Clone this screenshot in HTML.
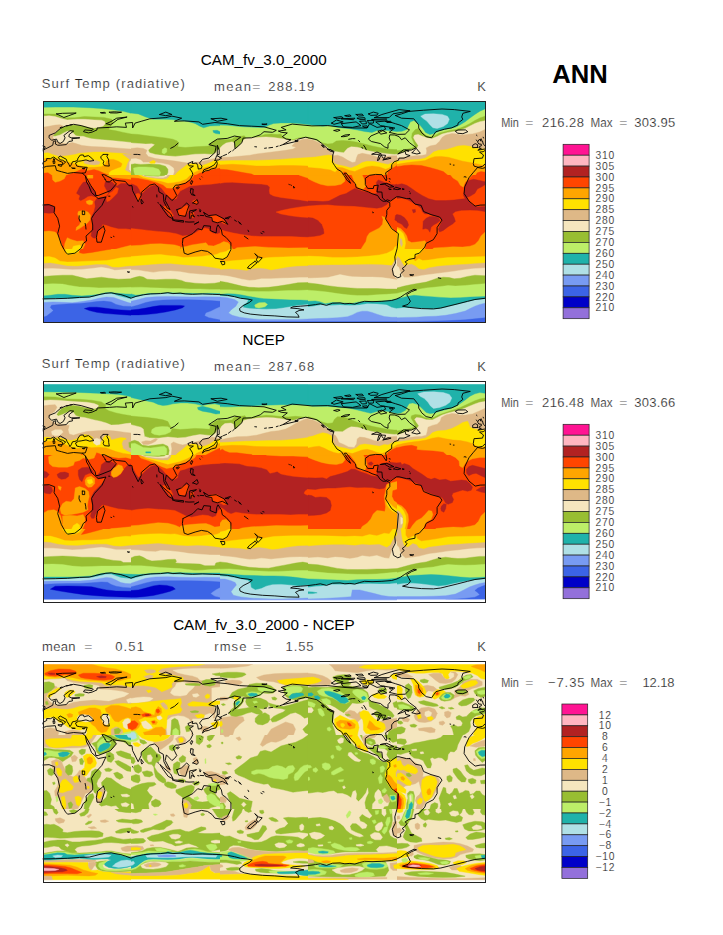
<!DOCTYPE html>
<html><head><meta charset="utf-8"><title>ANN</title>
<style>
html,body{margin:0;padding:0;background:#fff;}
body{width:723px;height:935px;overflow:hidden;position:relative;font-family:"Liberation Sans",sans-serif;}
svg{position:absolute;left:0;top:0;}
text{font-family:"Liberation Sans",sans-serif;}
.t{font-size:15.2px;fill:#000;text-anchor:middle;}
.s{font-size:13px;fill:#222;stroke:#fff;stroke-width:0.2px;}
.cl{font-size:10.3px;fill:#222;stroke:#fff;stroke-width:0.15px;text-anchor:middle;letter-spacing:0.75px;}
.ann{font-size:25.6px;font-weight:bold;fill:#000;}
</style></head><body>
<svg width="723" height="935" viewBox="0 0 723 935">
<rect width="723" height="935" fill="#fff"/>
<clipPath id="c1"><rect x="43" y="101" width="88" height="74"/></clipPath>
<g clip-path="url(#c1)">
<rect x="42.5" y="100.5" width="89" height="75" fill="#BDEE68"/>
<polygon points="43.0,101.0 131.0,101.0 131.0,113.2 123.3,111.3 113.6,109.8 101.4,108.5 89.3,107.7 73.4,107.1 55.2,107.1 43.0,107.3" fill="#20B2AA" stroke="#20B2AA" stroke-width="0.4" stroke-linejoin="round"/>
<polygon points="43.0,114.1 55.2,114.1 62.5,117.8 74.6,117.8 84.4,116.6 103.9,117.4 111.8,119.3 113.0,123.5 109.9,127.2 108.7,129.6 116.0,130.8 123.3,132.4 131.0,133.9 131.0,176.5 43.0,176.5" fill="#98BE32" stroke="#98BE32" stroke-width="0.4" stroke-linejoin="round"/>
<polygon points="43.0,116.2 49.1,115.8 55.2,116.6 61.3,118.6 67.3,119.9 77.1,119.3 84.4,119.3 94.1,119.9 101.4,120.2 104.5,121.4 105.3,123.5 103.2,126.0 99.0,127.2 94.1,128.0 89.3,127.2 84.4,126.0 79.5,125.1 74.6,124.7 69.8,125.1 64.9,126.0 61.3,127.2 57.6,130.8 54.0,133.9 50.3,136.3 55.2,136.3 60.0,135.1 63.7,132.9 67.3,131.2 71.0,131.2 73.4,133.3 75.9,135.7 79.5,136.3 83.2,136.3 86.8,137.5 91.7,138.7 101.4,139.7 111.2,140.6 120.9,141.4 131.0,142.4 131.0,176.5 43.0,176.5" fill="#F5E6BE" stroke="#F5E6BE" stroke-width="0.4" stroke-linejoin="round"/>
<polygon points="43.0,127.2 49.1,126.3 55.2,125.1 60.0,124.7 63.1,126.0 60.0,128.4 56.4,132.0 53.3,135.1 52.7,137.5 55.2,140.6 60.0,143.0 67.3,143.8 72.2,142.6 75.9,143.6 81.9,145.4 91.7,146.6 103.9,147.0 116.0,147.9 125.8,148.7 131.0,149.1 131.0,176.5 43.0,176.5" fill="#DEB887" stroke="#DEB887" stroke-width="0.4" stroke-linejoin="round"/>
<polygon points="43.0,153.3 47.9,152.7 52.7,154.6 58.8,156.4 67.3,155.8 74.6,154.6 79.5,153.3 86.8,152.7 94.1,152.1 103.9,152.1 111.2,152.7 120.9,153.3 131.0,154.6 131.0,176.5 43.0,176.5" fill="#FFE100" stroke="#FFE100" stroke-width="0.4" stroke-linejoin="round"/>
<polygon points="83.8,161.2 89.3,160.0 96.6,160.4 100.2,161.9 99.0,164.3 94.1,164.9 88.0,164.3 84.4,163.3" fill="#DEB887" stroke="#DEB887" stroke-width="0.4" stroke-linejoin="round"/>
<polygon points="122.7,154.1 131.0,154.6 131.0,173.1 125.4,169.9 127.7,163.2 129.7,159.4" fill="#DEB887" stroke="#DEB887" stroke-width="0.4" stroke-linejoin="round"/>
<polygon points="129.7,161.9 131.0,160.4 131.0,171.4 129.4,169.2" fill="#F5E6BE" stroke="#F5E6BE" stroke-width="0.4" stroke-linejoin="round"/>
<polygon points="43.0,158.8 47.9,158.2 51.5,159.2 55.2,158.2 60.0,160.0 67.3,161.9 73.4,163.7 79.5,165.5 85.6,167.3 94.1,167.3 101.4,166.7 105.1,164.3 106.3,161.2 108.7,159.4 113.6,159.4 118.5,161.2 122.1,163.7 120.9,166.7 116.0,168.6 111.2,170.4 108.7,172.8 109.3,176.5 43.0,176.5" fill="#FFA500" stroke="#FFA500" stroke-width="0.4" stroke-linejoin="round"/>
<polygon points="43.0,173.3 47.9,172.7 51.5,175.1 51.8,176.5 43.0,176.5" fill="#FF4500" stroke="#FF4500" stroke-width="0.4" stroke-linejoin="round"/>
<polygon points="65.9,176.5 66.4,175.5 72.2,173.3 79.5,170.3 84.4,167.8 86.8,170.9 94.1,169.6 99.0,170.9 103.9,173.3 108.7,175.1 111.2,176.5" fill="#FF4500" stroke="#FF4500" stroke-width="0.4" stroke-linejoin="round"/>
</g>
<clipPath id="c2"><rect x="131" y="101" width="89" height="74"/></clipPath>
<g clip-path="url(#c2)">
<rect x="130.5" y="100.5" width="90" height="75" fill="#BDEE68"/>
<polygon points="131.0,101.0 220.0,101.0 220.0,125.6 209.8,125.9 203.6,127.8 199.9,126.2 195.0,123.4 187.6,121.4 180.2,120.4 171.6,119.5 163.0,119.2 153.2,119.2 145.8,117.0 138.4,113.9 131.0,113.1" fill="#20B2AA" stroke="#20B2AA" stroke-width="0.4" stroke-linejoin="round"/>
<polygon points="212.9,130.5 217.2,130.3 220.0,131.8 220.0,134.0 215.9,133.6 213.5,132.4" fill="#20B2AA" stroke="#20B2AA" stroke-width="0.4" stroke-linejoin="round"/>
<polygon points="131.0,134.0 138.4,134.5 145.8,135.5 155.6,136.7 165.5,137.9 172.9,139.2 177.2,141.0 178.4,143.5 177.8,146.8 185.2,147.5 195.0,146.8 204.9,146.3 209.8,145.9 209.8,143.5 214.7,140.4 220.0,138.9 220.0,177.3 131.0,177.3" fill="#98BE32" stroke="#98BE32" stroke-width="0.4" stroke-linejoin="round"/>
<polygon points="162.4,149.6 164.9,147.8 166.9,148.8 166.7,152.1 164.2,153.9 162.0,152.7" fill="#BDEE68" stroke="#BDEE68" stroke-width="0.4" stroke-linejoin="round"/>
<polygon points="131.0,142.9 138.4,143.5 145.8,144.1 151.9,143.8 154.4,144.7 150.7,147.8 148.2,150.2 149.5,152.7 155.6,154.5 165.5,155.8 175.3,156.4 185.2,155.4 195.0,154.2 204.9,153.9 212.2,154.5 215.9,152.7 217.2,150.2 220.0,149.6 220.0,177.3 131.0,177.3" fill="#F5E6BE" stroke="#F5E6BE" stroke-width="0.4" stroke-linejoin="round"/>
<polygon points="131.0,148.4 137.2,147.8 143.3,148.4 147.0,150.2 145.8,153.3 148.2,156.4 155.6,158.6 165.5,159.8 175.3,161.1 182.7,162.3 188.9,163.2 197.5,162.3 204.9,160.7 212.2,158.9 217.2,158.2 220.0,157.9 220.0,177.3 131.0,177.3" fill="#DEB887" stroke="#DEB887" stroke-width="0.4" stroke-linejoin="round"/>
<polygon points="131.0,158.9 135.9,158.6 140.8,160.1 143.3,162.5 153.2,162.5 161.8,163.2 169.2,165.0 173.5,168.1 174.1,171.8 172.2,177.3 131.0,177.3" fill="#F5E6BE" stroke="#F5E6BE" stroke-width="0.4" stroke-linejoin="round"/>
<polygon points="131.0,164.4 134.7,163.8 140.8,164.4 149.5,164.0 159.3,164.4 165.5,166.2 167.9,169.3 167.9,172.4 165.5,177.3 131.0,177.3" fill="#98BE32" stroke="#98BE32" stroke-width="0.4" stroke-linejoin="round"/>
<polygon points="133.5,168.1 138.4,166.9 145.8,166.9 153.2,167.5 158.7,169.3 160.5,172.4 159.3,177.3 135.9,177.3 134.1,172.4" fill="#BDEE68" stroke="#BDEE68" stroke-width="0.4" stroke-linejoin="round"/>
<polygon points="149.5,162.3 153.2,160.3 155.4,161.3 155.0,163.2 150.7,163.5" fill="#FFE100" stroke="#FFE100" stroke-width="0.4" stroke-linejoin="round"/>
<polygon points="172.9,177.3 177.8,171.8 182.7,168.1 187.0,164.8 192.5,163.5 197.5,164.0 201.7,165.7 206.6,164.0 211.6,161.9 215.0,160.1 217.4,160.8 220.0,160.7 220.0,177.3" fill="#FFE100" stroke="#FFE100" stroke-width="0.4" stroke-linejoin="round"/>
<polygon points="190.1,177.3 193.3,173.1 198.3,170.7 203.3,168.2 208.3,166.6 213.2,167.3 216.6,164.9 220.0,164.0 220.0,177.3" fill="#FFA500" stroke="#FFA500" stroke-width="0.4" stroke-linejoin="round"/>
<polygon points="192.5,177.3 195.0,175.7 199.9,173.1 205.0,171.9 209.9,170.3 215.0,169.1 220.0,168.3 220.0,177.3" fill="#FF4500" stroke="#FF4500" stroke-width="0.4" stroke-linejoin="round"/>
</g>
<clipPath id="c3"><rect x="220" y="101" width="88" height="74"/></clipPath>
<g clip-path="url(#c3)">
<rect x="219.5" y="100.5" width="89" height="75" fill="#BDEE68"/>
<polygon points="220.0,101.0 308.0,101.0 308.0,124.4 299.1,123.5 290.6,122.9 280.9,122.9 273.6,123.5 268.7,125.3 265.0,127.2 261.4,127.5 254.1,127.2 244.3,126.8 234.6,126.0 227.3,125.3 220.0,125.1" fill="#20B2AA" stroke="#20B2AA" stroke-width="0.4" stroke-linejoin="round"/>
<polygon points="220.0,139.3 226.1,139.7 232.2,139.3 234.0,137.5 239.5,136.5 244.3,135.7 245.6,137.5 250.4,137.5 256.5,136.5 261.4,135.7 265.0,134.5 271.1,134.1 277.2,134.5 280.9,133.9 282.1,135.7 283.3,137.5 288.2,138.7 293.0,139.7 297.9,138.1 302.8,137.3 308.0,137.5 308.0,176.5 220.0,176.5" fill="#98BE32" stroke="#98BE32" stroke-width="0.4" stroke-linejoin="round"/>
<polygon points="220.0,147.9 222.4,145.4 226.1,143.0 232.2,141.8 234.0,143.0 234.6,147.9 236.4,147.9 240.1,144.8 243.7,139.9 246.2,138.1 251.6,137.8 258.9,137.3 266.3,136.9 273.6,137.5 280.9,138.5 288.2,139.7 293.0,140.6 297.9,139.0 302.8,138.1 308.0,138.1 308.0,176.5 220.0,176.5" fill="#F5E6BE" stroke="#F5E6BE" stroke-width="0.4" stroke-linejoin="round"/>
<polygon points="220.0,157.4 231.6,157.0 241.9,156.0 249.9,155.2 256.5,153.9 266.3,152.7 276.0,151.5 285.7,150.3 293.0,149.1 296.1,147.3 291.8,146.0 294.2,143.6 297.9,141.2 302.8,139.3 308.0,138.7 308.0,176.5 220.0,176.5" fill="#DEB887" stroke="#DEB887" stroke-width="0.4" stroke-linejoin="round"/>
<polygon points="220.0,160.9 232.2,160.6 244.3,160.6 256.5,160.4 268.7,160.0 280.9,159.4 293.0,158.4 308.0,157.6 308.0,176.5 220.0,176.5" fill="#FFE100" stroke="#FFE100" stroke-width="0.4" stroke-linejoin="round"/>
<polygon points="220.0,164.9 232.2,164.3 244.3,164.9 256.5,166.1 268.7,166.1 280.9,165.5 293.0,165.5 308.0,166.1 308.0,176.5 220.0,176.5" fill="#FFA500" stroke="#FFA500" stroke-width="0.4" stroke-linejoin="round"/>
<polygon points="220.0,169.2 227.3,169.8 234.6,171.0 244.3,172.8 251.6,174.0 256.5,176.5 220.0,176.5" fill="#FF4500" stroke="#FF4500" stroke-width="0.4" stroke-linejoin="round"/>
</g>
<clipPath id="c4"><rect x="308" y="101" width="89" height="74"/></clipPath>
<g clip-path="url(#c4)">
<rect x="307.5" y="100.5" width="90" height="75" fill="#BDEE68"/>
<polygon points="308.0,101.0 397.0,101.0 397.0,131.5 394.2,131.2 388.0,130.5 381.9,129.9 376.9,130.5 372.0,132.4 364.6,131.5 357.2,129.9 349.9,128.7 342.5,128.1 335.1,126.9 330.2,125.6 322.8,126.2 315.4,125.4 308.0,124.6" fill="#20B2AA" stroke="#20B2AA" stroke-width="0.4" stroke-linejoin="round"/>
<polygon points="308.0,137.9 312.9,138.5 317.8,140.4 322.8,142.9 327.7,144.1 332.6,143.5 336.3,141.0 342.5,140.4 349.9,141.0 357.2,142.2 364.6,144.1 372.0,145.9 379.4,147.5 386.8,149.0 394.2,149.6 397.0,149.6 397.0,177.3 308.0,177.3" fill="#98BE32" stroke="#98BE32" stroke-width="0.4" stroke-linejoin="round"/>
<polygon points="308.0,138.9 312.9,139.4 317.8,141.4 322.8,144.1 326.5,146.8 330.2,149.6 335.1,151.5 343.7,152.7 347.4,148.4 351.1,146.8 357.2,147.2 362.2,148.4 365.9,150.2 372.0,151.5 379.4,152.7 386.8,153.7 394.2,154.5 397.0,154.2 397.0,177.3 308.0,177.3" fill="#F5E6BE" stroke="#F5E6BE" stroke-width="0.4" stroke-linejoin="round"/>
<polygon points="308.0,139.4 312.9,140.1 317.8,142.2 322.8,145.1 326.5,148.4 329.5,151.5 332.0,153.3 333.9,155.8 337.5,155.2 342.5,157.0 347.4,160.1 352.3,162.5 355.4,161.9 356.6,157.6 357.9,154.5 362.2,153.3 367.1,154.2 372.0,155.2 376.9,157.0 381.9,157.6 386.8,156.4 391.7,155.8 397.0,155.8 397.0,177.3 308.0,177.3" fill="#DEB887" stroke="#DEB887" stroke-width="0.4" stroke-linejoin="round"/>
<polygon points="308.0,157.6 315.4,157.0 322.8,155.8 328.9,154.9 332.0,155.8 332.6,160.1 334.5,163.8 338.8,165.0 344.9,166.2 351.1,168.1 357.2,165.6 362.2,162.5 367.1,161.3 374.5,161.6 381.9,163.2 388.0,164.4 392.9,162.5 397.0,160.1 397.0,177.3 308.0,177.3" fill="#FFE100" stroke="#FFE100" stroke-width="0.4" stroke-linejoin="round"/>
<polygon points="308.0,167.5 320.3,168.5 330.2,169.9 335.1,172.2 337.5,169.9 336.9,167.2 342.5,167.7 349.9,170.6 354.8,171.4 359.7,169.3 365.9,166.9 372.0,166.0 379.4,166.9 385.6,169.3 389.2,168.1 392.9,164.4 397.0,161.9 397.0,177.3 308.0,177.3" fill="#FFA500" stroke="#FFA500" stroke-width="0.4" stroke-linejoin="round"/>
<polygon points="386.8,177.3 388.0,171.8 391.7,168.7 397.0,165.6 397.0,177.3" fill="#FF4500" stroke="#FF4500" stroke-width="0.4" stroke-linejoin="round"/>
<polygon points="342.5,177.3 343.7,171.8 346.2,172.4 347.4,177.3" fill="#FF4500" stroke="#FF4500" stroke-width="0.4" stroke-linejoin="round"/>
</g>
<clipPath id="c5"><rect x="397" y="101" width="88" height="74"/></clipPath>
<g clip-path="url(#c5)">
<rect x="396.5" y="100.5" width="89" height="75" fill="#BDEE68"/>
<polygon points="397.0,101.0 485.0,101.0 485.0,108.9 479.8,111.3 474.9,114.4 470.0,118.0 465.2,121.7 460.3,124.7 455.4,127.2 450.6,128.4 445.7,129.2 439.6,130.8 434.7,133.3 429.9,134.5 425.6,132.6 423.2,129.0 420.1,125.3 417.1,122.9 414.0,120.5 410.4,121.7 408.6,125.3 406.7,129.6 401.9,131.2 397.0,131.4" fill="#20B2AA" stroke="#20B2AA" stroke-width="0.4" stroke-linejoin="round"/>
<polygon points="420.7,116.2 425.0,114.1 433.5,113.8 442.0,114.4 447.5,116.2 449.3,119.3 447.5,123.5 443.3,126.6 437.2,128.4 432.9,127.8 429.9,124.7 426.8,121.1 423.2,118.6" fill="#B0E0E6" stroke="#B0E0E6" stroke-width="0.4" stroke-linejoin="round"/>
<polygon points="397.0,150.7 404.3,149.7 411.6,148.2 415.3,146.3 413.4,141.8 411.6,137.5 412.2,133.3 415.3,129.6 418.3,128.4 421.3,130.8 424.4,134.5 429.3,136.9 434.7,135.7 439.6,132.9 445.7,131.4 450.6,130.2 455.4,129.6 460.3,128.0 465.2,126.0 470.0,123.5 474.9,120.5 479.8,118.0 485.0,116.2 485.0,176.5 397.0,176.5" fill="#98BE32" stroke="#98BE32" stroke-width="0.4" stroke-linejoin="round"/>
<polygon points="397.0,154.6 401.9,152.7 408.0,150.9 414.0,149.1 417.1,147.9 418.3,145.4 415.3,141.2 413.4,137.5 414.6,135.1 418.3,134.5 422.6,136.3 427.4,138.1 432.3,138.5 437.2,136.5 442.0,134.1 448.1,132.4 454.2,131.4 460.3,130.2 465.2,128.4 470.0,126.0 474.9,123.5 479.8,121.7 485.0,120.7 485.0,176.5 397.0,176.5" fill="#F5E6BE" stroke="#F5E6BE" stroke-width="0.4" stroke-linejoin="round"/>
<polygon points="397.0,158.2 401.9,157.6 409.2,156.4 415.3,155.8 421.3,155.5 426.2,154.6 426.8,150.9 426.2,147.9 429.9,146.0 435.9,144.8 439.6,141.2 442.0,137.5 445.7,135.1 451.8,133.6 457.9,133.9 465.2,134.5 472.5,133.9 479.8,132.0 485.0,129.6 485.0,176.5 397.0,176.5" fill="#DEB887" stroke="#DEB887" stroke-width="0.4" stroke-linejoin="round"/>
<polygon points="456.0,131.4 460.3,130.5 465.2,130.8 467.6,132.4 465.2,134.1 460.3,134.5 456.6,133.6" fill="#F5E6BE" stroke="#F5E6BE" stroke-width="0.4" stroke-linejoin="round"/>
<polygon points="397.0,161.6 404.3,160.6 411.6,159.7 418.9,159.4 425.0,158.2 429.9,155.2 433.5,152.1 438.4,150.3 445.7,149.7 451.8,147.9 457.9,146.0 463.9,145.4 470.0,146.3 474.9,147.9 479.8,148.7 485.0,149.1 485.0,176.5 397.0,176.5" fill="#FFE100" stroke="#FFE100" stroke-width="0.4" stroke-linejoin="round"/>
<polygon points="397.0,164.3 404.3,163.1 411.6,161.9 418.9,161.2 425.0,160.6 429.9,158.2 434.7,156.7 440.8,156.4 448.1,157.2 455.4,159.2 462.7,161.2 470.0,162.5 476.1,163.7 482.2,164.9 485.0,165.5 485.0,176.5 397.0,176.5" fill="#FFA500" stroke="#FFA500" stroke-width="0.4" stroke-linejoin="round"/>
<polygon points="397.0,166.7 404.3,165.5 411.6,164.9 421.3,165.5 428.6,167.3 435.9,169.2 443.3,171.6 449.3,176.5 397.0,176.5" fill="#FF4500" stroke="#FF4500" stroke-width="0.4" stroke-linejoin="round"/>
<polygon points="474.9,176.5 477.3,172.8 481.0,171.6 485.0,172.2 485.0,176.5" fill="#FF4500" stroke="#FF4500" stroke-width="0.4" stroke-linejoin="round"/>
</g>
<clipPath id="c6"><rect x="43" y="175" width="88" height="74"/></clipPath>
<g clip-path="url(#c6)">
<rect x="42.5" y="174.5" width="89" height="75" fill="#FF4500"/>
<polygon points="52.1,175.0 66.1,175.0 64.3,178.7 60.0,181.1 55.2,182.3 52.7,179.9" fill="#FFA500" stroke="#FFA500" stroke-width="0.4" stroke-linejoin="round"/>
<polygon points="106.3,175.0 131.0,175.0 131.0,179.3 125.8,178.7 118.5,178.0 111.2,177.4 107.5,176.2" fill="#FFA500" stroke="#FFA500" stroke-width="0.4" stroke-linejoin="round"/>
<polygon points="105.1,182.3 108.7,181.1 112.4,182.3 114.8,184.7 117.2,186.0 120.9,183.5 125.8,183.5 131.0,184.7 131.0,229.2 125.8,228.6 118.5,228.6 111.2,226.7 106.3,224.9 102.6,224.3 101.4,226.7 99.0,229.8 96.6,233.4 95.3,238.3 92.9,237.7 91.1,235.9 91.7,231.0 92.9,226.1 92.3,221.3 91.7,216.4 94.1,211.5 95.3,206.6 94.7,201.8 96.6,198.7 101.4,197.5 106.3,196.3 108.7,193.3 106.3,189.6 104.5,186.0" fill="#B22222" stroke="#B22222" stroke-width="0.4" stroke-linejoin="round"/>
<polygon points="109.3,193.3 112.4,191.4 116.0,187.2 118.5,188.4 117.2,193.3 113.6,196.9 109.9,200.6 106.9,201.8 106.3,198.1" fill="#FF4500" stroke="#FF4500" stroke-width="0.4" stroke-linejoin="round"/>
<polygon points="76.5,193.3 79.5,187.2 83.2,182.3 86.8,181.7 90.5,186.0 94.1,190.8 96.6,195.1 95.3,196.9 91.7,195.7 88.0,196.3 84.4,198.7 80.7,200.6 78.9,199.3 80.1,195.7" fill="#B22222" stroke="#B22222" stroke-width="0.4" stroke-linejoin="round"/>
<polygon points="43.0,204.8 47.9,204.2 52.7,206.0 55.2,208.5 54.0,212.7 49.1,213.3 43.0,212.7" fill="#B22222" stroke="#B22222" stroke-width="0.4" stroke-linejoin="round"/>
<polygon points="86.2,201.2 89.9,200.0 92.9,201.2 92.3,204.2 89.3,204.8 86.8,203.6" fill="#FFA500" stroke="#FFA500" stroke-width="0.4" stroke-linejoin="round"/>
<polygon points="87.4,175.0 92.9,175.0 92.9,178.2 87.4,178.2" fill="#FFA500" stroke="#FFA500" stroke-width="0.4" stroke-linejoin="round"/>
<polygon points="78.3,211.5 83.2,210.3 88.0,212.1 90.5,215.2 89.9,220.0 86.8,223.7 83.2,226.1 79.5,228.6 75.9,230.4 76.5,227.3 79.5,224.9 80.7,221.3 78.9,217.6 77.7,213.9" fill="#FFA500" stroke="#FFA500" stroke-width="0.4" stroke-linejoin="round"/>
<polygon points="43.0,231.6 49.1,231.0 55.2,232.0 57.6,234.6 59.4,238.3 61.3,243.2 63.1,250.5 43.0,250.5" fill="#FFA500" stroke="#FFA500" stroke-width="0.4" stroke-linejoin="round"/>
<polygon points="64.9,243.2 67.3,237.7 71.0,239.5 77.1,241.3 83.2,240.7 85.0,244.4 81.9,250.5 63.7,250.5" fill="#FFA500" stroke="#FFA500" stroke-width="0.4" stroke-linejoin="round"/>
<polygon points="71.6,250.5 73.4,246.2 79.5,245.0 81.9,246.8 81.3,250.5" fill="#FFE100" stroke="#FFE100" stroke-width="0.4" stroke-linejoin="round"/>
<polygon points="111.2,250.5 120.9,247.8 131.0,245.2 131.0,250.5" fill="#FFA500" stroke="#FFA500" stroke-width="0.4" stroke-linejoin="round"/>
</g>
<clipPath id="c7"><rect x="131" y="175" width="89" height="74"/></clipPath>
<g clip-path="url(#c7)">
<rect x="130.5" y="174.5" width="90" height="75" fill="#B22222"/>
<polygon points="131.0,175.0 220.0,175.0 220.0,183.0 211.0,184.2 202.4,184.8 195.0,185.5 190.1,186.1 185.2,188.5 180.2,191.0 177.8,194.7 176.5,198.4 172.9,199.6 169.2,197.2 165.5,193.5 161.8,188.5 158.1,185.5 154.4,184.8 150.7,186.1 147.0,188.5 143.3,192.2 140.8,193.5 139.6,189.8 137.2,186.1 133.5,184.2 131.0,183.6" fill="#FF4500" stroke="#FF4500" stroke-width="0.4" stroke-linejoin="round"/>
<polygon points="131.0,175.0 131.0,177.5 138.4,178.1 148.2,179.9 155.6,182.1 163.0,184.8 166.7,187.9 172.9,188.3 177.8,185.5 183.9,183.0 188.9,180.5 192.5,177.5 193.8,175.0" fill="#FFA500" stroke="#FFA500" stroke-width="0.4" stroke-linejoin="round"/>
<polygon points="138.4,175.0 143.3,177.5 153.2,179.7 161.8,181.2 167.9,183.0 172.9,182.6 180.2,181.2 186.4,178.7 190.1,175.0" fill="#FFE100" stroke="#FFE100" stroke-width="0.4" stroke-linejoin="round"/>
<polygon points="141.5,175.0 144.5,176.5 153.2,178.1 161.8,178.9 166.7,178.4 169.2,176.2 169.8,175.0" fill="#DEB887" stroke="#DEB887" stroke-width="0.4" stroke-linejoin="round"/>
<polygon points="142.7,175.0 147.0,176.2 155.6,177.2 163.0,177.5 166.7,176.2 167.3,175.0" fill="#F5E6BE" stroke="#F5E6BE" stroke-width="0.4" stroke-linejoin="round"/>
<polygon points="143.9,175.0 149.5,176.0 158.1,176.2 164.2,175.6 164.9,175.0" fill="#98BE32" stroke="#98BE32" stroke-width="0.4" stroke-linejoin="round"/>
<polygon points="145.8,175.0 151.9,175.5 159.3,175.4 160.5,175.0" fill="#BDEE68" stroke="#BDEE68" stroke-width="0.4" stroke-linejoin="round"/>
<polygon points="135.9,194.1 138.4,193.2 140.6,194.7 140.8,199.0 139.0,201.5 136.9,199.6" fill="#FF4500" stroke="#FF4500" stroke-width="0.4" stroke-linejoin="round"/>
<polygon points="163.6,206.4 166.7,205.8 170.4,210.7 173.5,215.6 171.6,217.5 167.9,213.2 164.9,209.5" fill="#FF4500" stroke="#FF4500" stroke-width="0.4" stroke-linejoin="round"/>
<polygon points="177.8,210.7 182.7,207.0 187.0,205.2 188.9,207.0 188.2,211.9 185.2,215.6 180.2,216.2 177.8,213.8" fill="#FF4500" stroke="#FF4500" stroke-width="0.4" stroke-linejoin="round"/>
<polygon points="190.1,213.8 193.8,212.5 194.4,216.9 191.3,218.1" fill="#FF4500" stroke="#FF4500" stroke-width="0.4" stroke-linejoin="round"/>
<polygon points="209.8,216.2 214.7,215.0 220.0,216.9 220.0,222.4 215.9,222.4 212.2,219.9" fill="#FF4500" stroke="#FF4500" stroke-width="0.4" stroke-linejoin="round"/>
<polygon points="192.5,200.9 196.2,199.6 198.1,202.7 196.2,204.5 193.8,203.6" fill="#FF4500" stroke="#FF4500" stroke-width="0.4" stroke-linejoin="round"/>
<polygon points="131.0,228.5 138.4,229.2 148.2,230.4 158.1,231.4 167.9,232.2 176.5,233.8 182.7,235.9 188.9,235.3 195.0,232.9 199.9,229.8 204.9,227.9 209.8,229.2 212.2,232.9 217.2,234.1 220.0,232.9 220.0,251.3 131.0,251.3" fill="#FF4500" stroke="#FF4500" stroke-width="0.4" stroke-linejoin="round"/>
<polygon points="131.0,245.8 140.8,245.2 150.7,243.9 160.5,243.7 170.4,244.6 174.9,244.9 180.2,246.6 180.9,251.3 131.0,251.3" fill="#FFA500" stroke="#FFA500" stroke-width="0.4" stroke-linejoin="round"/>
<polygon points="180.2,251.3 181.6,247.1 186.0,246.5 191.6,244.9 199.3,243.8 206.0,242.7 208.2,245.4 213.7,246.0 219.3,243.8 220.0,243.7 220.0,251.3" fill="#FFA500" stroke="#FFA500" stroke-width="0.4" stroke-linejoin="round"/>
</g>
<clipPath id="c8"><rect x="220" y="175" width="88" height="74"/></clipPath>
<g clip-path="url(#c8)">
<rect x="219.5" y="174.5" width="89" height="75" fill="#B22222"/>
<polygon points="220.0,175.0 308.0,175.0 308.0,201.2 300.3,200.0 290.6,198.7 280.9,197.5 273.6,195.9 269.9,193.9 269.3,190.8 269.9,187.2 267.5,185.0 261.4,184.1 251.6,183.5 241.9,182.9 232.2,182.3 224.9,182.5 220.0,183.3" fill="#FF4500" stroke="#FF4500" stroke-width="0.4" stroke-linejoin="round"/>
<polygon points="299.1,175.0 308.0,175.0 308.0,178.0 304.0,176.8" fill="#FFA500" stroke="#FFA500" stroke-width="0.4" stroke-linejoin="round"/>
<polygon points="308.0,206.0 300.3,206.9 290.6,208.5 282.1,210.3 276.0,212.1 280.9,213.9 290.6,215.8 300.3,217.0 308.0,217.4" fill="#FF4500" stroke="#FF4500" stroke-width="0.4" stroke-linejoin="round"/>
<polygon points="220.0,229.2 224.9,231.0 232.2,232.8 241.9,234.6 251.6,235.9 261.4,236.5 271.1,236.5 280.9,236.5 290.6,236.5 300.3,237.1 308.0,237.3 308.0,250.5 220.0,250.5" fill="#FF4500" stroke="#FF4500" stroke-width="0.4" stroke-linejoin="round"/>
<polygon points="220.0,243.5 223.7,241.6 228.2,242.7 231.4,246.6 232.5,248.8 232.8,250.5 220.0,250.5" fill="#FFA500" stroke="#FFA500" stroke-width="0.4" stroke-linejoin="round"/>
<polygon points="232.8,250.5 236.9,247.7 243.6,247.2 254.9,246.6 268.7,247.4 288.2,248.0 308.0,247.8 308.0,250.5" fill="#FFA500" stroke="#FFA500" stroke-width="0.4" stroke-linejoin="round"/>
<polygon points="220.0,217.0 222.4,218.8 226.1,222.5 227.3,224.3 223.7,223.7 220.0,221.3" fill="#FF4500" stroke="#FF4500" stroke-width="0.4" stroke-linejoin="round"/>
</g>
<clipPath id="c9"><rect x="308" y="175" width="89" height="74"/></clipPath>
<g clip-path="url(#c9)">
<rect x="307.5" y="174.5" width="90" height="75" fill="#FF4500"/>
<polygon points="308.0,175.0 344.9,175.0 344.9,181.2 341.2,184.2 335.1,185.5 327.7,185.8 320.3,184.2 314.2,181.8 308.0,178.7" fill="#FFA500" stroke="#FFA500" stroke-width="0.4" stroke-linejoin="round"/>
<polygon points="351.7,175.0 362.2,175.0 364.6,179.9 365.9,186.1 363.4,189.2 359.7,188.5 356.0,185.5 354.2,181.2" fill="#FFA500" stroke="#FFA500" stroke-width="0.4" stroke-linejoin="round"/>
<polygon points="308.0,200.9 315.4,201.1 322.8,201.5 328.9,200.9 333.9,198.4 340.0,195.3 346.2,193.5 351.1,190.4 354.8,188.5 358.5,189.8 363.4,191.6 368.3,192.2 372.0,194.1 376.9,193.5 376.3,189.8 376.9,186.1 376.3,182.4 378.2,179.9 383.1,181.8 388.0,183.6 394.2,184.8 397.0,184.2 397.0,196.5 392.9,199.0 389.2,201.5 386.8,204.5 381.9,207.3 376.9,208.2 369.5,207.6 362.2,206.8 354.8,206.0 344.9,205.8 335.1,205.2 327.7,204.5 320.3,204.8 312.9,205.2 308.0,205.5" fill="#B22222" stroke="#B22222" stroke-width="0.4" stroke-linejoin="round"/>
<polygon points="308.0,217.5 312.9,218.1 317.8,220.5 321.5,224.2 323.4,229.2 324.0,233.5 320.3,235.3 314.2,236.3 308.0,236.8" fill="#B22222" stroke="#B22222" stroke-width="0.4" stroke-linejoin="round"/>
<polygon points="381.9,216.2 384.9,217.5 386.8,221.2 389.9,225.5 394.2,230.4 397.0,232.9 397.0,251.3 359.7,251.3 363.4,245.2 365.9,241.5 367.1,236.5 369.5,232.9 374.5,230.4 379.4,227.9 382.5,224.2 383.1,219.3" fill="#FFA500" stroke="#FFA500" stroke-width="0.4" stroke-linejoin="round"/>
<polygon points="392.9,251.3 394.8,247.0 397.0,245.8 397.0,251.3" fill="#FFE100" stroke="#FFE100" stroke-width="0.4" stroke-linejoin="round"/>
<polygon points="395.4,215.6 397.0,214.4 397.0,221.2 394.8,219.9" fill="#B22222" stroke="#B22222" stroke-width="0.4" stroke-linejoin="round"/>
</g>
<clipPath id="c10"><rect x="397" y="175" width="88" height="74"/></clipPath>
<g clip-path="url(#c10)">
<rect x="396.5" y="174.5" width="89" height="75" fill="#FF4500"/>
<polygon points="450.6,175.0 472.5,175.0 468.8,178.7 465.2,182.3 463.3,187.2 460.3,185.3 457.9,181.1 453.0,178.0" fill="#FFA500" stroke="#FFA500" stroke-width="0.4" stroke-linejoin="round"/>
<polygon points="397.0,184.7 401.9,183.8 406.7,185.3 411.6,188.4 416.5,192.0 422.6,195.7 428.6,198.7 435.9,200.6 445.7,200.6 454.2,200.0 461.5,199.1 465.2,198.7 463.3,195.1 464.6,189.6 465.2,184.7 468.8,180.5 473.7,179.3 479.8,180.5 485.0,181.7 485.0,184.7 482.2,186.6 477.3,189.0 474.9,193.3 470.0,196.3 466.4,197.5 468.8,201.2 472.5,204.8 477.3,206.9 485.0,206.4 485.0,211.5 477.3,210.3 470.0,210.1 461.5,210.3 455.4,211.5 452.4,213.9 454.2,217.6 455.4,221.3 453.0,223.7 448.1,226.7 443.3,230.4 439.6,232.0 438.4,229.2 440.2,224.9 441.8,221.3 440.8,218.6 437.2,216.4 432.3,215.2 428.6,213.9 425.0,213.9 422.6,212.1 421.3,208.5 417.7,205.4 414.0,203.6 410.4,201.2 406.7,199.3 401.9,198.1 397.0,198.4" fill="#B22222" stroke="#B22222" stroke-width="0.4" stroke-linejoin="round"/>
<polygon points="423.2,221.3 426.2,218.2 429.9,216.4 433.5,216.4 438.4,217.6 440.2,220.6 437.2,223.1 433.5,224.9 431.1,227.3 429.9,232.2 428.0,229.2 425.6,228.6 422.8,229.2" fill="#B22222" stroke="#B22222" stroke-width="0.4" stroke-linejoin="round"/>
<polygon points="397.0,214.6 400.7,215.2 404.3,217.6 407.3,221.3 408.6,224.9 406.7,228.6 404.3,227.3 401.9,224.3 397.0,221.9" fill="#B22222" stroke="#B22222" stroke-width="0.4" stroke-linejoin="round"/>
<polygon points="412.2,209.7 415.3,209.4 415.5,212.1 413.4,213.0" fill="#B22222" stroke="#B22222" stroke-width="0.4" stroke-linejoin="round"/>
<polygon points="397.0,227.3 400.7,228.6 404.3,232.2 406.7,235.9 408.0,240.7 411.6,242.6 418.9,241.7 425.0,240.7 426.2,243.2 424.4,250.5 397.0,250.5" fill="#FFA500" stroke="#FFA500" stroke-width="0.4" stroke-linejoin="round"/>
<polygon points="397.0,229.2 400.0,230.4 403.1,233.4 404.9,238.3 405.5,243.2 404.3,250.5 397.0,250.5" fill="#FFE100" stroke="#FFE100" stroke-width="0.4" stroke-linejoin="round"/>
<polygon points="400.0,238.3 401.9,239.5 402.5,244.4 401.3,246.8 400.0,243.2" fill="#DEB887" stroke="#DEB887" stroke-width="0.4" stroke-linejoin="round"/>
<polygon points="485.0,232.2 481.0,235.9 478.5,240.7 474.9,244.4 470.0,246.2 462.7,247.1 453.0,246.8 443.3,247.4 433.5,248.0 432.3,250.5 485.0,250.5" fill="#FFA500" stroke="#FFA500" stroke-width="0.4" stroke-linejoin="round"/>
</g>
<clipPath id="c11"><rect x="43" y="249" width="88" height="74"/></clipPath>
<g clip-path="url(#c11)">
<rect x="42.5" y="248.5" width="89" height="75" fill="#FFA500"/>
<polygon points="78.3,249.0 111.2,249.0 101.4,250.8 91.7,252.4 83.2,253.6 79.5,252.7" fill="#FF4500" stroke="#FF4500" stroke-width="0.4" stroke-linejoin="round"/>
<polygon points="65.5,249.0 80.7,249.0 78.3,252.0 73.4,253.9 67.3,254.5 65.5,251.4" fill="#FFE100" stroke="#FFE100" stroke-width="0.4" stroke-linejoin="round"/>
<polygon points="43.0,256.9 49.1,256.5 55.2,258.1 60.0,261.2 67.3,262.1 77.1,261.8 86.8,261.2 96.6,260.9 106.3,260.6 113.6,259.3 120.9,257.8 131.0,256.9 131.0,324.5 43.0,324.5" fill="#FFE100" stroke="#FFE100" stroke-width="0.4" stroke-linejoin="round"/>
<polygon points="43.0,263.4 50.3,263.0 57.6,264.2 67.3,266.0 77.1,266.3 86.8,265.4 96.6,264.6 106.3,264.8 112.4,267.3 118.5,267.5 125.8,266.6 131.0,266.0 131.0,324.5 43.0,324.5" fill="#DEB887" stroke="#DEB887" stroke-width="0.4" stroke-linejoin="round"/>
<polygon points="43.0,268.7 52.7,268.5 62.5,269.1 72.2,269.7 81.9,269.4 91.7,268.5 101.4,267.3 108.7,268.5 114.8,270.3 122.1,269.7 131.0,269.1 131.0,324.5 43.0,324.5" fill="#F5E6BE" stroke="#F5E6BE" stroke-width="0.4" stroke-linejoin="round"/>
<polygon points="43.0,276.4 52.7,275.8 62.5,275.2 72.2,275.2 79.5,277.0 86.8,278.8 94.1,278.0 101.4,277.2 108.7,278.2 118.5,279.2 131.0,278.8 131.0,324.5 43.0,324.5" fill="#98BE32" stroke="#98BE32" stroke-width="0.4" stroke-linejoin="round"/>
<polygon points="43.0,284.3 52.7,283.7 62.5,284.1 69.8,285.5 79.5,287.0 89.3,287.3 99.0,287.9 108.7,287.7 118.5,287.7 131.0,287.3 131.0,324.5 43.0,324.5" fill="#BDEE68" stroke="#BDEE68" stroke-width="0.4" stroke-linejoin="round"/>
<polygon points="43.0,295.9 50.3,295.3 57.6,294.3 64.9,294.3 72.2,295.3 81.9,295.9 91.7,295.3 99.0,294.3 105.1,292.8 111.2,292.6 118.5,293.4 125.8,294.0 131.0,294.3 131.0,324.5 43.0,324.5" fill="#20B2AA" stroke="#20B2AA" stroke-width="0.4" stroke-linejoin="round"/>
<polygon points="43.0,299.5 52.7,298.7 62.5,298.3 72.2,298.7 81.9,297.9 91.7,297.1 96.6,295.9 103.9,294.3 108.7,293.4 113.6,294.3 118.5,295.9 125.8,297.7 131.0,298.9 131.0,324.5 43.0,324.5" fill="#B0E0E6" stroke="#B0E0E6" stroke-width="0.4" stroke-linejoin="round"/>
<polygon points="43.0,302.6 52.7,301.9 62.5,302.3 72.2,302.8 81.9,301.6 91.7,300.1 99.0,298.3 106.3,297.1 113.6,297.4 120.9,300.1 128.2,302.6 131.0,303.2 131.0,324.5 43.0,324.5" fill="#789BF2" stroke="#789BF2" stroke-width="0.4" stroke-linejoin="round"/>
<polygon points="43.0,317.2 46.7,315.9 51.5,312.3 53.3,310.5 50.3,307.4 51.5,305.2 60.0,304.4 69.8,303.8 79.5,303.5 89.3,302.6 96.6,301.6 103.9,301.1 111.2,301.9 116.0,304.4 123.3,306.2 131.0,306.4 131.0,324.5 43.0,324.5" fill="#3C64E6" stroke="#3C64E6" stroke-width="0.4" stroke-linejoin="round"/>
<polygon points="84.4,308.6 89.3,307.2 96.6,307.2 103.9,308.0 111.2,308.9 120.9,309.9 131.0,310.5 131.0,315.3 123.3,314.7 113.6,314.1 103.9,313.3 96.6,312.3 89.3,310.5" fill="#0000C8" stroke="#0000C8" stroke-width="0.4" stroke-linejoin="round"/>
</g>
<clipPath id="c12"><rect x="131" y="249" width="89" height="74"/></clipPath>
<g clip-path="url(#c12)">
<rect x="130.5" y="248.5" width="90" height="75" fill="#FFA500"/>
<polygon points="131.0,256.6 140.8,255.8 150.7,254.9 160.5,254.5 170.4,255.8 174.9,256.0 183.8,257.6 192.7,257.1 201.5,256.5 208.2,255.4 213.7,254.9 217.0,254.3 220.0,252.8 220.0,325.3 131.0,325.3" fill="#FFE100" stroke="#FFE100" stroke-width="0.4" stroke-linejoin="round"/>
<polygon points="131.0,266.2 140.8,265.6 150.7,264.8 160.5,264.0 170.4,263.8 180.2,264.8 190.1,265.6 199.9,266.0 209.8,267.2 220.0,268.9 220.0,325.3 131.0,325.3" fill="#DEB887" stroke="#DEB887" stroke-width="0.4" stroke-linejoin="round"/>
<polygon points="131.0,269.9 138.4,270.2 145.8,271.4 153.2,272.4 160.5,271.4 170.4,270.9 180.2,271.8 190.1,273.4 199.9,274.2 209.8,274.9 220.0,275.1 220.0,325.3 131.0,325.3" fill="#F5E6BE" stroke="#F5E6BE" stroke-width="0.4" stroke-linejoin="round"/>
<polygon points="131.0,278.5 135.9,277.1 139.6,276.3 143.3,277.1 147.0,279.2 155.6,279.8 165.5,279.2 175.3,279.2 181.5,280.4 185.2,282.0 195.0,283.2 204.9,283.7 214.7,283.2 220.0,282.2 220.0,325.3 131.0,325.3" fill="#98BE32" stroke="#98BE32" stroke-width="0.4" stroke-linejoin="round"/>
<polygon points="131.0,287.4 140.8,287.2 150.7,287.8 160.5,288.1 170.4,288.4 180.2,288.6 190.1,289.0 199.9,289.0 209.8,289.4 220.0,289.6 220.0,325.3 131.0,325.3" fill="#BDEE68" stroke="#BDEE68" stroke-width="0.4" stroke-linejoin="round"/>
<polygon points="131.0,293.9 135.9,295.2 140.8,294.8 148.2,293.6 158.1,293.3 167.9,292.7 177.8,293.1 187.6,293.3 197.5,293.6 207.3,293.3 220.0,293.6 220.0,325.3 131.0,325.3" fill="#20B2AA" stroke="#20B2AA" stroke-width="0.4" stroke-linejoin="round"/>
<polygon points="131.0,298.0 138.4,296.4 145.8,294.8 155.6,294.3 167.9,293.6 180.2,294.3 192.5,294.5 204.9,294.3 220.0,294.3 220.0,325.3 131.0,325.3" fill="#B0E0E6" stroke="#B0E0E6" stroke-width="0.4" stroke-linejoin="round"/>
<polygon points="131.0,301.3 138.4,299.5 145.8,297.6 155.6,296.8 167.9,296.4 180.2,296.8 192.5,297.0 204.9,296.8 220.0,297.0 220.0,325.3 131.0,325.3" fill="#789BF2" stroke="#789BF2" stroke-width="0.4" stroke-linejoin="round"/>
<polygon points="131.0,306.9 138.4,305.0 145.8,302.5 153.2,300.9 163.0,300.1 175.3,299.7 187.6,299.7 199.9,300.1 209.8,300.5 220.0,301.3 220.0,325.3 131.0,325.3" fill="#3C64E6" stroke="#3C64E6" stroke-width="0.4" stroke-linejoin="round"/>
<polygon points="131.0,309.9 138.4,309.3 145.8,308.1 153.2,306.6 160.5,305.4 170.4,305.4 180.2,305.4 184.5,305.9 182.7,307.8 175.3,309.9 165.5,312.0 155.6,313.6 145.8,314.5 138.4,314.9 131.0,314.9" fill="#0000C8" stroke="#0000C8" stroke-width="0.4" stroke-linejoin="round"/>
<polygon points="220.0,306.9 215.9,308.7 211.0,311.2 206.1,313.0 204.9,315.5 208.6,317.3 214.7,318.6 220.0,319.4" fill="#789BF2" stroke="#789BF2" stroke-width="0.4" stroke-linejoin="round"/>
</g>
<clipPath id="c13"><rect x="220" y="249" width="88" height="74"/></clipPath>
<g clip-path="url(#c13)">
<rect x="219.5" y="248.5" width="89" height="75" fill="#FFA500"/>
<polygon points="220.0,252.7 226.1,251.4 230.3,249.0 231.6,249.0 228.5,254.5 226.1,258.1 220.0,259.3" fill="#FFE100" stroke="#FFE100" stroke-width="0.4" stroke-linejoin="round"/>
<polygon points="220.0,261.2 227.3,261.2 234.6,260.6 244.3,259.7 254.1,259.0 261.4,258.7 266.3,257.8 273.6,257.3 283.3,256.9 293.0,256.5 308.0,256.3 308.0,324.5 220.0,324.5" fill="#FFE100" stroke="#FFE100" stroke-width="0.4" stroke-linejoin="round"/>
<polygon points="220.0,269.7 229.7,269.1 239.5,269.7 246.8,270.7 251.6,269.1 258.9,268.2 266.3,269.1 271.1,270.3 278.4,269.1 288.2,267.3 297.9,266.3 308.0,266.0 308.0,324.5 220.0,324.5" fill="#DEB887" stroke="#DEB887" stroke-width="0.4" stroke-linejoin="round"/>
<polygon points="220.0,275.2 227.3,276.0 234.6,277.6 241.9,279.2 249.2,280.4 255.3,280.0 261.4,278.8 271.1,278.8 280.9,278.2 290.6,278.0 300.3,277.6 308.0,277.6 308.0,324.5 220.0,324.5" fill="#F5E6BE" stroke="#F5E6BE" stroke-width="0.4" stroke-linejoin="round"/>
<polygon points="220.0,281.3 227.3,282.5 234.6,284.3 241.9,286.1 249.2,287.3 258.9,287.7 268.7,287.3 278.4,286.1 288.2,284.5 297.9,282.8 308.0,282.5 308.0,324.5 220.0,324.5" fill="#98BE32" stroke="#98BE32" stroke-width="0.4" stroke-linejoin="round"/>
<polygon points="220.0,289.8 229.7,289.8 239.5,290.4 249.2,291.4 258.9,291.6 268.7,291.4 278.4,291.0 288.2,290.6 297.9,290.4 308.0,290.1 308.0,324.5 220.0,324.5" fill="#BDEE68" stroke="#BDEE68" stroke-width="0.4" stroke-linejoin="round"/>
<polygon points="220.0,294.3 227.3,293.8 234.6,294.0 241.9,295.0 249.2,296.5 256.5,297.7 263.8,298.7 271.1,299.1 280.9,299.5 290.6,299.9 300.3,300.1 308.0,300.4 308.0,324.5 220.0,324.5" fill="#20B2AA" stroke="#20B2AA" stroke-width="0.4" stroke-linejoin="round"/>
<polygon points="220.0,295.9 227.3,296.2 234.6,297.1 240.7,298.3 248.0,300.1 246.8,302.6 243.1,305.0 243.1,307.4 249.2,308.6 256.5,308.9 266.3,309.2 276.0,308.9 283.3,308.0 290.6,306.8 297.9,305.6 308.0,304.4 308.0,324.5 220.0,324.5" fill="#B0E0E6" stroke="#B0E0E6" stroke-width="0.4" stroke-linejoin="round"/>
<polygon points="254.7,305.0 258.9,302.8 265.0,302.6 267.5,304.4 265.0,306.8 258.9,308.0 255.3,307.2" fill="#BDEE68" stroke="#BDEE68" stroke-width="0.4" stroke-linejoin="round"/>
<polygon points="220.0,297.1 227.3,297.7 234.6,299.5 238.3,301.9 235.8,306.2 231.0,309.9 228.5,312.9 232.2,315.3 239.5,317.2 249.2,318.6 258.9,319.4 268.7,319.4 278.4,319.6 288.2,319.6 297.9,319.4 308.0,319.0 308.0,324.5 220.0,324.5" fill="#789BF2" stroke="#789BF2" stroke-width="0.4" stroke-linejoin="round"/>
<polygon points="220.0,321.5 308.0,321.5 308.0,324.5 220.0,324.5" fill="#3C64E6" stroke="#3C64E6" stroke-width="0.4" stroke-linejoin="round"/>
</g>
<clipPath id="c14"><rect x="308" y="249" width="89" height="74"/></clipPath>
<g clip-path="url(#c14)">
<rect x="307.5" y="248.5" width="90" height="75" fill="#FFA500"/>
<polygon points="308.0,256.1 320.3,256.6 332.6,257.4 344.9,257.4 357.2,257.0 369.5,256.1 379.4,254.9 386.8,253.3 391.7,250.8 394.2,249.0 397.0,249.0 397.0,325.3 308.0,325.3" fill="#FFE100" stroke="#FFE100" stroke-width="0.4" stroke-linejoin="round"/>
<polygon points="308.0,265.6 320.3,265.2 332.6,265.0 344.9,265.0 357.2,264.8 369.5,264.4 381.9,264.8 391.7,265.6 393.6,262.5 395.4,259.5 397.0,258.2 397.0,325.3 308.0,325.3" fill="#DEB887" stroke="#DEB887" stroke-width="0.4" stroke-linejoin="round"/>
<polygon points="308.0,278.3 317.8,277.9 327.7,277.6 333.9,276.1 340.0,274.6 346.2,275.8 352.3,276.7 362.2,277.1 372.0,277.1 381.9,277.6 389.2,278.5 397.0,279.8 397.0,325.3 308.0,325.3" fill="#F5E6BE" stroke="#F5E6BE" stroke-width="0.4" stroke-linejoin="round"/>
<polygon points="394.8,261.3 397.0,260.1 397.0,278.5 395.4,277.3 393.6,273.6 392.9,268.7" fill="#F5E6BE" stroke="#F5E6BE" stroke-width="0.4" stroke-linejoin="round"/>
<polygon points="308.0,282.9 317.8,284.1 327.7,285.7 337.5,286.9 347.4,287.8 357.2,288.4 367.1,288.6 376.9,288.6 386.8,289.0 397.0,289.0 397.0,325.3 308.0,325.3" fill="#98BE32" stroke="#98BE32" stroke-width="0.4" stroke-linejoin="round"/>
<polygon points="308.0,290.2 317.8,290.9 327.7,292.1 337.5,293.6 347.4,294.8 357.2,295.5 367.1,295.5 376.9,294.8 386.8,294.3 397.0,293.6 397.0,325.3 308.0,325.3" fill="#BDEE68" stroke="#BDEE68" stroke-width="0.4" stroke-linejoin="round"/>
<polygon points="308.0,301.3 315.4,300.9 320.3,301.9 325.2,303.8 332.6,302.5 342.5,302.9 352.3,303.4 359.7,301.9 367.1,301.3 376.9,301.3 386.8,300.7 397.0,298.9 397.0,325.3 308.0,325.3" fill="#20B2AA" stroke="#20B2AA" stroke-width="0.4" stroke-linejoin="round"/>
<polygon points="308.0,306.9 315.4,305.9 322.8,304.6 330.2,305.4 340.0,305.0 349.9,305.6 359.7,305.0 367.1,303.8 376.9,304.1 386.8,305.0 391.7,307.5 397.0,308.7 397.0,325.3 308.0,325.3" fill="#B0E0E6" stroke="#B0E0E6" stroke-width="0.4" stroke-linejoin="round"/>
<polygon points="308.0,318.9 317.8,318.6 327.7,318.2 337.5,317.7 347.4,316.7 352.3,314.9 357.2,312.4 362.2,311.2 367.1,311.2 372.0,312.4 376.9,314.2 384.3,316.5 391.7,317.3 397.0,317.3 397.0,325.3 308.0,325.3" fill="#789BF2" stroke="#789BF2" stroke-width="0.4" stroke-linejoin="round"/>
<polygon points="308.0,321.6 397.0,321.6 397.0,325.3 308.0,325.3" fill="#3C64E6" stroke="#3C64E6" stroke-width="0.4" stroke-linejoin="round"/>
</g>
<clipPath id="c15"><rect x="397" y="249" width="88" height="74"/></clipPath>
<g clip-path="url(#c15)">
<rect x="396.5" y="248.5" width="89" height="75" fill="#FFA500"/>
<polygon points="397.0,249.0 423.2,249.0 420.1,253.3 415.3,256.3 412.8,259.3 415.3,261.2 418.9,258.7 422.6,260.6 428.6,260.0 438.4,258.5 448.1,257.5 457.9,257.3 470.0,256.9 485.0,256.5 485.0,324.5 397.0,324.5" fill="#FFE100" stroke="#FFE100" stroke-width="0.4" stroke-linejoin="round"/>
<polygon points="397.0,256.3 399.4,258.1 401.9,262.4 404.3,266.0 408.0,264.8 411.6,264.2 415.3,266.0 418.9,269.1 423.8,269.7 428.6,267.9 438.4,266.3 448.1,265.4 457.9,264.8 467.6,264.2 477.3,263.4 485.0,263.0 485.0,324.5 397.0,324.5" fill="#DEB887" stroke="#DEB887" stroke-width="0.4" stroke-linejoin="round"/>
<polygon points="397.0,266.0 398.8,267.3 400.0,270.9 401.9,275.2 404.3,277.6 409.2,277.6 416.5,276.4 423.8,275.2 433.5,274.0 443.3,272.7 453.0,271.5 462.7,269.9 472.5,268.7 485.0,267.9 485.0,324.5 397.0,324.5" fill="#F5E6BE" stroke="#F5E6BE" stroke-width="0.4" stroke-linejoin="round"/>
<polygon points="397.0,287.9 404.3,286.1 411.6,284.5 418.9,283.3 426.2,282.1 432.3,280.0 437.2,278.2 443.3,277.2 449.3,277.6 454.2,278.8 460.3,278.2 467.6,276.4 474.9,275.2 485.0,275.8 485.0,324.5 397.0,324.5" fill="#98BE32" stroke="#98BE32" stroke-width="0.4" stroke-linejoin="round"/>
<polygon points="397.0,293.4 404.3,291.6 411.6,290.4 418.9,289.2 426.2,287.9 433.5,287.3 440.8,286.5 448.1,285.5 455.4,286.1 465.2,285.5 474.9,284.5 485.0,283.7 485.0,324.5 397.0,324.5" fill="#BDEE68" stroke="#BDEE68" stroke-width="0.4" stroke-linejoin="round"/>
<polygon points="397.0,298.3 401.9,297.7 406.7,296.5 414.0,295.3 421.3,295.9 431.1,296.7 440.8,297.4 450.6,297.9 460.3,297.7 470.0,297.1 479.8,296.7 485.0,296.5 485.0,324.5 397.0,324.5" fill="#20B2AA" stroke="#20B2AA" stroke-width="0.4" stroke-linejoin="round"/>
<polygon points="397.0,308.6 404.3,307.7 411.6,308.0 421.3,308.6 431.1,309.2 438.4,308.9 445.7,307.4 453.0,305.6 460.3,303.8 467.6,301.9 474.9,300.1 485.0,298.9 485.0,324.5 397.0,324.5" fill="#B0E0E6" stroke="#B0E0E6" stroke-width="0.4" stroke-linejoin="round"/>
<polygon points="397.0,317.8 406.7,317.4 416.5,317.2 426.2,316.6 435.9,316.2 445.7,315.3 455.4,313.5 465.2,311.1 470.0,308.6 474.9,306.2 479.8,304.4 485.0,303.2 485.0,324.5 397.0,324.5" fill="#789BF2" stroke="#789BF2" stroke-width="0.4" stroke-linejoin="round"/>
<polygon points="397.0,321.8 421.3,321.4 445.7,320.8 465.2,319.8 477.3,318.6 485.0,317.8 485.0,324.5 397.0,324.5" fill="#3C64E6" stroke="#3C64E6" stroke-width="0.4" stroke-linejoin="round"/>
</g>
<clipPath id="c16"><rect x="43" y="381" width="88" height="74"/></clipPath>
<g clip-path="url(#c16)">
<rect x="42.5" y="380.5" width="89" height="75" fill="#BDEE68"/>
<polygon points="43.0,381.0 131.0,381.0 131.0,396.8 125.8,395.6 118.5,394.4 108.7,393.8 96.6,393.2 84.4,392.7 72.2,392.2 57.6,392.0 43.0,391.7" fill="#20B2AA" stroke="#20B2AA" stroke-width="0.4" stroke-linejoin="round"/>
<polygon points="43.0,396.8 55.2,397.1 67.3,399.0 79.5,399.3 91.7,400.2 101.4,401.9 105.7,404.7 105.1,408.4 108.7,410.8 116.0,412.9 123.3,414.5 131.0,415.7 131.0,456.5 43.0,456.5" fill="#98BE32" stroke="#98BE32" stroke-width="0.4" stroke-linejoin="round"/>
<polygon points="43.0,400.5 50.3,399.9 57.6,400.2 67.3,401.1 77.1,401.7 86.8,402.3 94.1,403.5 98.4,405.3 97.8,407.8 94.1,408.8 89.3,408.0 84.4,407.2 79.5,406.0 73.4,405.1 67.3,406.0 62.5,407.8 58.8,410.8 56.6,414.5 58.2,416.1 62.5,414.5 66.1,412.9 69.8,411.4 73.4,412.6 75.9,415.7 79.5,416.9 84.4,417.5 89.3,418.7 94.1,419.9 100.2,421.2 106.3,423.0 111.2,425.1 118.5,424.8 125.8,423.6 131.0,423.0 131.0,456.5 43.0,456.5" fill="#F5E6BE" stroke="#F5E6BE" stroke-width="0.4" stroke-linejoin="round"/>
<polygon points="43.0,406.0 49.1,405.1 55.2,404.7 57.0,407.2 54.6,411.4 50.3,414.5 49.1,417.5 51.5,421.2 56.4,423.6 63.7,424.8 69.2,425.4 68.0,429.7 69.2,433.9 73.4,435.2 79.5,433.3 86.8,431.5 96.6,430.7 106.3,430.3 116.0,431.1 125.8,432.4 131.0,433.1 131.0,456.5 43.0,456.5" fill="#DEB887" stroke="#DEB887" stroke-width="0.4" stroke-linejoin="round"/>
<polygon points="51.5,431.5 55.2,429.7 61.3,429.7 63.1,432.1 60.0,435.2 55.2,435.8 52.1,434.6" fill="#F5E6BE" stroke="#F5E6BE" stroke-width="0.4" stroke-linejoin="round"/>
<polygon points="43.0,437.0 47.9,437.2 54.0,438.2 58.8,437.6 64.9,439.2 71.0,440.6 75.9,439.2 79.5,436.4 84.4,434.6 89.3,435.2 92.9,437.6 91.7,440.6 95.3,442.5 101.4,441.9 103.9,437.0 106.3,435.2 109.9,436.4 111.2,440.0 116.0,438.8 120.9,437.6 125.8,438.2 127.6,441.2 125.8,445.5 122.1,447.9 127.0,451.0 131.0,452.8 131.0,456.5 43.0,456.5" fill="#FFE100" stroke="#FFE100" stroke-width="0.4" stroke-linejoin="round"/>
<polygon points="93.5,439.4 96.6,438.2 100.2,439.4 100.2,444.3 96.6,445.3 93.5,443.1" fill="#F5E6BE" stroke="#F5E6BE" stroke-width="0.4" stroke-linejoin="round"/>
<polygon points="123.3,440.6 128.2,438.8 131.0,439.4 131.0,451.6 127.0,450.4 123.3,447.3 122.1,443.7" fill="#DEB887" stroke="#DEB887" stroke-width="0.4" stroke-linejoin="round"/>
<polygon points="128.8,442.5 131.0,441.9 131.0,447.9 129.2,447.3" fill="#98BE32" stroke="#98BE32" stroke-width="0.4" stroke-linejoin="round"/>
<polygon points="43.0,441.9 49.1,441.2 55.2,440.6 60.0,441.9 64.9,444.3 71.0,447.3 77.1,448.6 83.2,447.7 86.8,446.7 91.7,447.7 99.0,447.3 106.3,447.9 111.2,449.8 116.0,451.6 123.3,453.4 131.0,454.6 131.0,456.5 43.0,456.5" fill="#FFA500" stroke="#FFA500" stroke-width="0.4" stroke-linejoin="round"/>
<polygon points="95.3,456.5 96.6,452.8 100.2,454.0 102.6,456.5" fill="#FF4500" stroke="#FF4500" stroke-width="0.4" stroke-linejoin="round"/>
<polygon points="79.5,456.5 81.9,454.0 84.4,456.5" fill="#FF4500" stroke="#FF4500" stroke-width="0.4" stroke-linejoin="round"/>
<polygon points="43.0,381.0 131.0,381.0 131.0,384.0 43.0,384.0" fill="#FFFFFF" stroke="#FFFFFF" stroke-width="0.4" stroke-linejoin="round"/>
</g>
<clipPath id="c17"><rect x="131" y="381" width="89" height="74"/></clipPath>
<g clip-path="url(#c17)">
<rect x="130.5" y="380.5" width="90" height="75" fill="#BDEE68"/>
<polygon points="131.0,381.0 220.0,381.0 220.0,405.0 214.7,403.8 207.3,404.4 202.4,405.6 195.0,403.8 187.6,402.9 180.2,402.9 172.9,403.8 167.9,405.0 163.0,405.6 158.1,404.4 153.2,402.2 145.8,400.7 138.4,399.2 131.0,397.6" fill="#20B2AA" stroke="#20B2AA" stroke-width="0.4" stroke-linejoin="round"/>
<polygon points="197.5,407.5 202.4,406.2 209.8,408.1 217.2,410.5 220.0,411.2 220.0,413.6 215.9,414.0 209.8,412.4 202.4,411.2 198.1,409.6" fill="#20B2AA" stroke="#20B2AA" stroke-width="0.4" stroke-linejoin="round"/>
<polygon points="131.0,416.1 138.4,416.7 145.8,417.3 155.6,418.5 163.0,419.8 167.9,421.6 169.4,424.7 171.6,428.4 180.2,429.6 187.6,429.0 195.0,428.4 202.4,428.8 209.8,429.3 210.4,425.3 215.9,421.0 220.0,419.4 220.0,457.3 131.0,457.3" fill="#98BE32" stroke="#98BE32" stroke-width="0.4" stroke-linejoin="round"/>
<polygon points="151.9,429.6 155.6,427.2 161.8,426.5 167.9,426.8 171.6,429.0 170.4,432.1 165.5,434.2 159.3,435.2 154.4,434.5 151.3,432.7" fill="#BDEE68" stroke="#BDEE68" stroke-width="0.4" stroke-linejoin="round"/>
<polygon points="131.0,424.7 135.9,425.9 140.8,427.2 143.3,429.0 143.9,432.7 144.5,436.4 149.5,437.9 158.1,438.2 167.9,437.0 177.8,437.9 185.2,437.4 192.5,435.8 199.9,434.5 207.3,435.2 212.2,435.8 215.9,432.7 217.2,429.6 220.0,429.0 220.0,457.3 131.0,457.3" fill="#F5E6BE" stroke="#F5E6BE" stroke-width="0.4" stroke-linejoin="round"/>
<polygon points="141.5,441.9 145.8,440.7 150.7,441.1 155.6,438.6 157.5,439.1 155.6,441.3 151.9,443.2 148.2,444.4 143.3,444.4" fill="#DEB887" stroke="#DEB887" stroke-width="0.4" stroke-linejoin="round"/>
<polygon points="171.0,457.3 171.9,448.7 171.0,443.8 173.5,441.9 177.8,443.8 182.7,445.0 188.9,443.5 197.5,441.6 204.9,439.1 212.2,437.0 217.2,438.2 220.0,437.9 220.0,457.3" fill="#DEB887" stroke="#DEB887" stroke-width="0.4" stroke-linejoin="round"/>
<polygon points="131.0,441.3 134.7,440.3 138.4,441.6 142.1,445.0 148.2,446.0 155.6,445.0 163.0,444.0 167.9,446.2 169.2,450.6 167.9,457.3 131.0,457.3" fill="#98BE32" stroke="#98BE32" stroke-width="0.4" stroke-linejoin="round"/>
<polygon points="131.0,443.8 134.7,443.2 138.4,445.0 143.3,447.5 150.7,448.1 158.1,446.9 164.2,446.2 166.7,448.7 166.7,453.0 164.2,457.3 131.0,457.3" fill="#BDEE68" stroke="#BDEE68" stroke-width="0.4" stroke-linejoin="round"/>
<polygon points="145.8,451.8 150.7,451.8 150.7,453.0 145.8,453.0" fill="#20B2AA" stroke="#20B2AA" stroke-width="0.4" stroke-linejoin="round"/>
<polygon points="173.5,457.3 177.8,453.0 182.7,449.3 187.0,445.6 192.5,444.0 197.5,444.4 199.9,446.2 204.9,446.0 209.8,444.0 213.5,441.6 217.2,439.8 220.0,438.9 220.0,457.3" fill="#FFE100" stroke="#FFE100" stroke-width="0.4" stroke-linejoin="round"/>
<polygon points="192.5,457.3 196.2,453.6 201.2,451.2 206.1,449.9 211.0,448.1 215.9,445.6 220.0,443.2 220.0,457.3" fill="#FFA500" stroke="#FFA500" stroke-width="0.4" stroke-linejoin="round"/>
<polygon points="202.4,457.3 207.3,454.2 212.2,451.8 217.2,449.3 220.0,448.1 220.0,457.3" fill="#FF4500" stroke="#FF4500" stroke-width="0.4" stroke-linejoin="round"/>
<polygon points="131.0,381.0 220.0,381.0 220.0,384.1 131.0,384.1" fill="#FFFFFF" stroke="#FFFFFF" stroke-width="0.4" stroke-linejoin="round"/>
</g>
<clipPath id="c18"><rect x="220" y="381" width="88" height="74"/></clipPath>
<g clip-path="url(#c18)">
<rect x="219.5" y="380.5" width="89" height="75" fill="#BDEE68"/>
<polygon points="220.0,381.0 308.0,381.0 308.0,405.1 299.1,404.7 290.6,404.7 280.9,404.7 271.1,405.1 261.4,405.3 251.6,406.0 241.9,406.3 232.2,406.8 224.9,406.8 220.0,406.6" fill="#20B2AA" stroke="#20B2AA" stroke-width="0.4" stroke-linejoin="round"/>
<polygon points="220.0,420.2 226.1,420.6 232.2,419.9 234.0,417.5 239.5,416.5 245.0,415.7 246.2,418.1 251.6,417.5 258.9,416.3 266.3,415.3 273.6,415.7 280.9,416.5 288.2,416.9 295.5,416.3 302.8,416.9 308.0,417.5 308.0,456.5 220.0,456.5" fill="#98BE32" stroke="#98BE32" stroke-width="0.4" stroke-linejoin="round"/>
<polygon points="220.0,429.1 221.8,426.0 224.9,423.6 231.0,423.0 233.4,424.2 234.4,429.1 236.4,428.5 240.1,424.8 243.7,420.6 248.0,419.3 256.5,418.1 266.3,417.5 273.6,417.8 280.9,418.7 288.2,419.9 293.0,420.6 297.9,419.0 302.8,418.1 308.0,418.1 308.0,456.5 220.0,456.5" fill="#F5E6BE" stroke="#F5E6BE" stroke-width="0.4" stroke-linejoin="round"/>
<polygon points="220.0,440.0 227.3,438.2 237.0,436.7 246.8,436.4 256.5,435.2 263.8,433.3 271.1,431.5 278.4,430.7 285.7,429.1 290.6,426.6 295.5,423.6 300.3,421.2 305.2,419.0 308.0,418.5 308.0,456.5 220.0,456.5" fill="#DEB887" stroke="#DEB887" stroke-width="0.4" stroke-linejoin="round"/>
<polygon points="220.0,442.5 232.2,441.9 244.3,441.2 256.5,440.9 268.7,440.6 280.9,440.4 293.0,439.4 302.8,438.2 308.0,437.6 308.0,456.5 220.0,456.5" fill="#FFE100" stroke="#FFE100" stroke-width="0.4" stroke-linejoin="round"/>
<polygon points="220.0,446.1 232.2,445.3 244.3,445.5 256.5,446.5 268.7,446.7 280.9,446.7 293.0,446.7 308.0,446.7 308.0,456.5 220.0,456.5" fill="#FFA500" stroke="#FFA500" stroke-width="0.4" stroke-linejoin="round"/>
<polygon points="220.0,450.4 222.4,449.2 224.9,451.0 229.7,452.8 237.0,452.8 244.3,453.8 251.6,454.6 254.1,456.5 220.0,456.5" fill="#FF4500" stroke="#FF4500" stroke-width="0.4" stroke-linejoin="round"/>
<polygon points="220.0,381.0 308.0,381.0 308.0,384.0 220.0,384.0" fill="#FFFFFF" stroke="#FFFFFF" stroke-width="0.4" stroke-linejoin="round"/>
</g>
<clipPath id="c19"><rect x="308" y="381" width="89" height="74"/></clipPath>
<g clip-path="url(#c19)">
<rect x="307.5" y="380.5" width="90" height="75" fill="#BDEE68"/>
<polygon points="308.0,381.0 397.0,381.0 397.0,413.3 392.9,412.4 386.8,411.2 380.6,410.5 375.7,411.8 370.8,413.3 364.6,411.8 357.2,409.9 349.9,408.3 342.5,407.5 335.1,406.9 327.7,406.2 320.3,406.2 312.9,406.2 308.0,405.6" fill="#20B2AA" stroke="#20B2AA" stroke-width="0.4" stroke-linejoin="round"/>
<polygon points="308.0,416.7 312.9,417.9 317.8,420.1 322.8,422.2 327.7,423.5 332.6,422.9 334.5,419.2 337.5,416.7 343.7,416.9 349.9,419.2 357.2,422.2 364.6,424.3 372.0,426.3 379.4,427.8 386.8,429.3 394.2,430.0 397.0,430.0 397.0,457.3 308.0,457.3" fill="#98BE32" stroke="#98BE32" stroke-width="0.4" stroke-linejoin="round"/>
<polygon points="308.0,418.5 312.9,419.2 317.8,421.4 322.8,424.1 326.5,426.8 330.2,429.6 335.1,431.5 342.5,431.7 347.4,428.4 351.1,426.8 357.2,427.2 362.2,428.4 365.9,430.0 372.0,431.5 379.4,432.7 386.8,433.7 394.2,434.5 397.0,434.2 397.0,457.3 308.0,457.3" fill="#F5E6BE" stroke="#F5E6BE" stroke-width="0.4" stroke-linejoin="round"/>
<polygon points="308.0,419.2 312.9,419.9 317.8,422.2 322.8,425.1 326.5,428.4 329.5,431.5 332.6,433.7 335.7,435.8 337.5,438.9 338.8,442.5 343.7,444.4 348.6,446.9 354.2,447.5 356.6,443.8 357.2,438.9 359.7,437.0 364.6,437.6 369.5,438.9 374.5,440.7 379.4,441.3 384.3,438.9 389.2,437.0 394.2,436.4 397.0,436.4 397.0,457.3 308.0,457.3" fill="#DEB887" stroke="#DEB887" stroke-width="0.4" stroke-linejoin="round"/>
<polygon points="308.0,437.0 312.9,436.1 317.8,434.2 322.8,432.7 327.7,433.7 331.4,435.8 332.6,440.1 334.5,445.0 338.8,446.9 344.9,448.1 351.1,449.7 356.0,448.1 359.7,445.0 364.6,444.0 372.0,445.0 379.4,446.2 384.3,444.4 388.0,445.0 392.9,442.5 397.0,440.7 397.0,457.3 308.0,457.3" fill="#FFE100" stroke="#FFE100" stroke-width="0.4" stroke-linejoin="round"/>
<polygon points="308.0,448.1 312.9,446.9 319.1,446.2 324.0,448.1 328.9,450.6 333.9,452.4 338.8,453.6 342.5,451.8 347.4,452.4 352.3,453.6 357.2,451.8 362.2,449.9 367.1,449.3 372.0,450.6 376.9,452.4 381.9,453.6 386.8,451.8 391.7,448.1 397.0,445.0 397.0,457.3 308.0,457.3" fill="#FFA500" stroke="#FFA500" stroke-width="0.4" stroke-linejoin="round"/>
<polygon points="385.6,457.3 388.0,452.4 392.9,449.3 397.0,447.5 397.0,457.3" fill="#FF4500" stroke="#FF4500" stroke-width="0.4" stroke-linejoin="round"/>
<polygon points="308.0,381.0 397.0,381.0 397.0,384.1 308.0,384.1" fill="#FFFFFF" stroke="#FFFFFF" stroke-width="0.4" stroke-linejoin="round"/>
</g>
<clipPath id="c20"><rect x="397" y="381" width="88" height="74"/></clipPath>
<g clip-path="url(#c20)">
<rect x="396.5" y="380.5" width="89" height="75" fill="#BDEE68"/>
<polygon points="397.0,381.0 485.0,381.0 485.0,393.2 479.8,392.6 474.9,393.8 470.0,396.2 465.2,399.9 460.3,403.5 455.4,406.6 450.6,408.4 445.7,409.6 439.6,411.2 434.7,412.9 429.9,413.6 426.2,412.4 423.2,409.6 420.1,406.6 416.5,404.1 412.8,402.9 409.2,403.5 407.3,406.6 405.5,410.2 400.7,412.9 397.0,413.6" fill="#20B2AA" stroke="#20B2AA" stroke-width="0.4" stroke-linejoin="round"/>
<polygon points="417.7,393.8 423.8,392.0 433.5,391.7 443.3,392.6 449.3,394.4 451.8,398.0 449.9,402.3 445.7,405.3 439.6,407.5 433.5,408.4 430.5,406.0 428.0,402.3 424.4,398.6 420.1,396.2" fill="#B0E0E6" stroke="#B0E0E6" stroke-width="0.4" stroke-linejoin="round"/>
<polygon points="397.0,430.9 404.3,429.7 411.6,428.2 415.3,426.3 413.4,421.8 411.0,418.1 411.6,415.7 415.3,414.5 420.1,415.1 424.4,417.5 429.3,418.7 434.7,416.9 439.6,414.5 445.7,412.4 450.6,410.8 455.4,409.2 460.3,407.5 465.2,405.3 470.0,402.9 474.9,400.7 479.8,399.0 485.0,398.0 485.0,456.5 397.0,456.5" fill="#98BE32" stroke="#98BE32" stroke-width="0.4" stroke-linejoin="round"/>
<polygon points="397.0,435.2 401.9,433.3 408.0,431.1 414.0,429.4 417.1,428.2 418.9,425.8 416.5,422.4 414.6,419.3 416.5,417.5 421.3,418.1 426.2,419.7 432.3,419.9 437.2,417.5 442.0,415.1 448.1,412.9 454.2,411.4 460.3,410.0 465.2,408.0 470.0,406.0 474.9,403.9 479.8,402.3 485.0,401.4 485.0,456.5 397.0,456.5" fill="#F5E6BE" stroke="#F5E6BE" stroke-width="0.4" stroke-linejoin="round"/>
<polygon points="397.0,439.4 401.9,438.8 409.2,437.6 415.3,436.7 421.3,436.4 426.2,435.2 427.4,430.9 428.0,427.3 432.3,425.4 437.2,424.2 440.2,421.2 441.4,417.5 445.7,415.1 451.8,413.6 457.9,414.1 465.2,415.1 472.5,413.9 479.8,410.8 485.0,408.4 485.0,456.5 397.0,456.5" fill="#DEB887" stroke="#DEB887" stroke-width="0.4" stroke-linejoin="round"/>
<polygon points="455.4,410.8 460.3,410.0 465.8,410.5 467.6,412.4 465.2,414.5 459.7,414.8 456.4,413.3" fill="#F5E6BE" stroke="#F5E6BE" stroke-width="0.4" stroke-linejoin="round"/>
<polygon points="397.0,441.9 404.3,440.9 411.6,440.0 418.9,439.2 425.0,438.2 429.3,435.8 432.3,432.7 437.2,430.9 445.7,430.3 451.8,428.5 457.9,425.4 462.7,422.4 467.6,421.2 468.8,423.6 470.0,427.3 474.9,429.1 479.8,429.7 485.0,429.7 485.0,456.5 397.0,456.5" fill="#FFE100" stroke="#FFE100" stroke-width="0.4" stroke-linejoin="round"/>
<polygon points="397.0,444.9 404.3,443.3 411.6,442.1 418.9,441.2 426.2,440.0 432.3,438.2 438.4,437.2 445.7,438.8 453.0,440.0 460.3,440.6 467.6,441.9 472.5,443.7 476.1,446.1 482.2,447.3 485.0,446.7 485.0,456.5 397.0,456.5" fill="#FFA500" stroke="#FFA500" stroke-width="0.4" stroke-linejoin="round"/>
<polygon points="397.0,447.7 404.3,446.1 411.6,445.3 417.1,446.7 416.5,449.8 423.8,450.4 433.5,451.0 443.3,452.2 448.1,456.5 397.0,456.5" fill="#FF4500" stroke="#FF4500" stroke-width="0.4" stroke-linejoin="round"/>
<polygon points="397.0,381.0 485.0,381.0 485.0,384.0 397.0,384.0" fill="#FFFFFF" stroke="#FFFFFF" stroke-width="0.4" stroke-linejoin="round"/>
</g>
<clipPath id="c21"><rect x="43" y="455" width="88" height="74"/></clipPath>
<g clip-path="url(#c21)">
<rect x="42.5" y="454.5" width="89" height="75" fill="#FF4500"/>
<polygon points="48.5,456.8 52.7,455.0 95.3,455.0 94.1,458.0 89.3,459.3 83.2,458.0 79.5,460.5 74.6,461.7 73.4,465.3 67.3,467.2 58.8,467.2 52.7,466.6 49.1,463.5" fill="#FFA500" stroke="#FFA500" stroke-width="0.4" stroke-linejoin="round"/>
<polygon points="103.9,455.0 131.0,455.0 131.0,458.7 125.8,457.4 118.5,458.0 111.2,456.8" fill="#FFA500" stroke="#FFA500" stroke-width="0.4" stroke-linejoin="round"/>
<polygon points="101.4,464.7 105.1,461.7 109.9,461.1 114.8,463.5 116.0,466.6 113.6,469.6 111.2,472.0 109.9,475.7 116.0,477.5 120.9,474.5 124.5,468.4 128.2,464.7 131.0,464.1 131.0,509.8 125.8,509.2 118.5,508.6 111.2,506.7 105.1,505.1 102.0,504.7 100.2,507.3 97.8,511.0 95.3,514.6 94.1,518.3 91.7,518.3 90.5,515.9 91.7,511.0 92.9,506.1 91.7,501.3 91.7,496.4 94.1,491.5 97.8,487.9 102.6,483.0 105.7,479.3 105.1,477.5 101.4,478.7 97.2,478.1 96.6,475.7 100.2,472.0" fill="#B22222" stroke="#B22222" stroke-width="0.4" stroke-linejoin="round"/>
<polygon points="111.2,472.0 113.6,468.4 118.5,464.7 122.1,466.0 123.3,469.6 120.9,473.3 117.2,476.3 113.6,477.5 111.8,475.7" fill="#FFA500" stroke="#FFA500" stroke-width="0.4" stroke-linejoin="round"/>
<polygon points="78.3,470.2 81.9,467.8 88.0,467.2 91.7,469.6 94.1,473.3 89.3,473.3 85.0,475.1 83.2,478.7 81.9,481.8 79.5,479.3 78.3,475.1" fill="#B22222" stroke="#B22222" stroke-width="0.4" stroke-linejoin="round"/>
<polygon points="43.0,470.8 46.7,472.0 49.1,474.5 46.7,477.5 43.0,478.1" fill="#B22222" stroke="#B22222" stroke-width="0.4" stroke-linejoin="round"/>
<polygon points="57.0,474.5 60.0,472.6 64.9,472.0 68.6,473.3 68.6,476.3 65.5,478.7 61.3,479.3 58.2,477.5" fill="#B22222" stroke="#B22222" stroke-width="0.4" stroke-linejoin="round"/>
<polygon points="43.0,485.4 47.9,485.2 51.5,487.3 52.7,490.9 50.3,493.9 45.4,493.3 43.0,491.5" fill="#B22222" stroke="#B22222" stroke-width="0.4" stroke-linejoin="round"/>
<polygon points="85.0,480.6 86.8,477.5 91.1,476.3 94.7,478.7 94.7,483.6 91.7,486.9 88.0,487.3 85.6,484.8" fill="#FFA500" stroke="#FFA500" stroke-width="0.4" stroke-linejoin="round"/>
<polygon points="87.4,480.0 91.7,479.3 92.9,482.4 89.9,484.2 87.8,483.0" fill="#FFE100" stroke="#FFE100" stroke-width="0.4" stroke-linejoin="round"/>
<polygon points="75.3,487.9 79.5,486.6 85.0,488.5 88.6,491.5 89.3,496.4 88.0,501.3 87.4,506.1 88.0,509.8 83.2,512.2 77.1,513.4 71.0,514.6 64.9,515.2 61.3,513.4 60.0,508.6 62.5,503.7 66.1,501.3 71.0,501.9 74.0,498.8 74.6,493.9" fill="#FFA500" stroke="#FFA500" stroke-width="0.4" stroke-linejoin="round"/>
<polygon points="43.0,513.4 47.9,510.4 54.0,509.8 57.6,511.6 60.6,515.9 61.9,521.3 63.7,530.5 43.0,530.5" fill="#FFA500" stroke="#FFA500" stroke-width="0.4" stroke-linejoin="round"/>
<polygon points="62.5,515.9 69.8,515.2 77.1,515.9 83.2,514.6 85.0,518.3 84.4,524.4 81.9,530.5 63.1,530.5" fill="#FFA500" stroke="#FFA500" stroke-width="0.4" stroke-linejoin="round"/>
<polygon points="71.0,530.5 73.4,525.6 77.1,523.2 79.5,525.0 80.1,530.5" fill="#FFE100" stroke="#FFE100" stroke-width="0.4" stroke-linejoin="round"/>
<polygon points="58.2,486.0 61.3,486.9 60.6,490.3 58.8,489.1" fill="#FFA500" stroke="#FFA500" stroke-width="0.4" stroke-linejoin="round"/>
<polygon points="106.3,530.5 111.2,528.6 120.9,527.8 131.0,526.8 131.0,530.5" fill="#FFA500" stroke="#FFA500" stroke-width="0.4" stroke-linejoin="round"/>
</g>
<clipPath id="c22"><rect x="131" y="455" width="89" height="74"/></clipPath>
<g clip-path="url(#c22)">
<rect x="130.5" y="454.5" width="90" height="75" fill="#B22222"/>
<polygon points="131.0,455.0 220.0,455.0 220.0,463.4 211.0,463.9 202.4,464.8 195.0,466.1 190.1,467.3 185.2,469.2 180.2,470.4 178.4,473.5 177.5,477.8 173.5,479.6 169.8,477.8 166.1,474.1 162.4,469.8 158.7,466.7 155.0,464.8 150.7,466.3 147.0,469.2 143.3,472.8 140.8,475.3 138.4,477.2 135.9,473.5 133.5,468.5 131.0,466.1" fill="#FF4500" stroke="#FF4500" stroke-width="0.4" stroke-linejoin="round"/>
<polygon points="138.4,455.0 140.8,458.1 148.2,460.5 155.6,463.6 161.8,466.7 166.7,468.5 172.9,467.3 177.8,464.8 183.9,462.4 190.1,460.5 195.0,457.5 196.2,455.0" fill="#FFA500" stroke="#FFA500" stroke-width="0.4" stroke-linejoin="round"/>
<polygon points="142.1,455.0 145.8,458.1 153.2,459.9 161.8,462.4 167.9,464.2 172.9,463.0 180.2,461.2 186.4,458.7 191.3,456.2 191.9,455.0" fill="#FFE100" stroke="#FFE100" stroke-width="0.4" stroke-linejoin="round"/>
<polygon points="140.2,455.0 144.5,456.8 153.2,458.7 161.8,459.9 167.9,459.9 170.4,457.5 171.0,455.0" fill="#DEB887" stroke="#DEB887" stroke-width="0.4" stroke-linejoin="round"/>
<polygon points="141.5,455.0 147.0,456.5 155.6,457.7 163.0,458.1 167.9,457.2 169.2,455.0" fill="#F5E6BE" stroke="#F5E6BE" stroke-width="0.4" stroke-linejoin="round"/>
<polygon points="143.3,455.0 149.5,456.0 158.1,456.5 164.2,456.0 165.5,455.0" fill="#98BE32" stroke="#98BE32" stroke-width="0.4" stroke-linejoin="round"/>
<polygon points="145.8,455.0 151.9,455.5 159.3,455.4 160.5,455.0" fill="#BDEE68" stroke="#BDEE68" stroke-width="0.4" stroke-linejoin="round"/>
<polygon points="162.4,485.8 166.1,485.2 170.4,489.5 172.9,494.4 171.0,496.9 167.3,492.5 164.2,488.9" fill="#FF4500" stroke="#FF4500" stroke-width="0.4" stroke-linejoin="round"/>
<polygon points="178.4,490.1 182.7,486.4 187.0,484.5 188.9,486.8 187.9,491.9 185.2,495.0 180.9,495.6 178.4,493.2" fill="#FF4500" stroke="#FF4500" stroke-width="0.4" stroke-linejoin="round"/>
<polygon points="208.6,496.2 212.2,494.4 217.2,494.6 220.0,496.2 220.0,503.0 215.9,502.4 212.2,499.9" fill="#FF4500" stroke="#FF4500" stroke-width="0.4" stroke-linejoin="round"/>
<polygon points="190.1,493.2 193.2,491.9 194.0,496.2 191.3,497.5" fill="#FF4500" stroke="#FF4500" stroke-width="0.4" stroke-linejoin="round"/>
<polygon points="131.0,510.4 138.4,509.2 148.2,508.5 158.1,509.2 167.9,509.8 174.9,510.5 181.6,513.8 186.0,516.1 191.6,517.2 197.1,516.1 202.6,514.9 208.2,515.6 212.6,517.2 215.9,516.1 218.2,510.5 220.0,509.2 220.0,531.3 131.0,531.3" fill="#FF4500" stroke="#FF4500" stroke-width="0.4" stroke-linejoin="round"/>
<polygon points="131.0,525.8 138.4,525.2 148.2,523.9 158.1,522.7 167.9,523.3 175.3,525.2 180.2,527.6 182.1,531.3 131.0,531.3" fill="#FFA500" stroke="#FFA500" stroke-width="0.4" stroke-linejoin="round"/>
<polygon points="179.6,531.3 180.5,526.0 186.0,524.9 192.7,524.3 199.3,523.8 206.0,523.6 210.4,524.9 214.8,527.1 219.3,526.5 220.0,525.8 220.0,531.3" fill="#FFA500" stroke="#FFA500" stroke-width="0.4" stroke-linejoin="round"/>
</g>
<clipPath id="c23"><rect x="220" y="455" width="88" height="74"/></clipPath>
<g clip-path="url(#c23)">
<rect x="219.5" y="454.5" width="89" height="75" fill="#B22222"/>
<polygon points="220.0,455.0 308.0,455.0 308.0,477.5 300.3,476.9 293.0,476.3 285.7,475.1 280.9,473.9 277.2,471.4 273.6,472.6 269.9,473.3 266.9,469.6 261.4,467.8 254.1,466.6 246.8,466.0 239.5,463.8 232.2,463.3 224.9,462.9 220.0,463.3" fill="#FF4500" stroke="#FF4500" stroke-width="0.4" stroke-linejoin="round"/>
<polygon points="266.3,455.0 308.0,455.0 308.0,456.8 293.0,456.0 280.9,456.0" fill="#FFA500" stroke="#FFA500" stroke-width="0.4" stroke-linejoin="round"/>
<polygon points="308.0,489.1 305.2,490.9 304.0,493.3 305.8,494.6 308.0,495.2" fill="#FF4500" stroke="#FF4500" stroke-width="0.4" stroke-linejoin="round"/>
<polygon points="220.0,507.3 223.7,509.2 227.3,512.2 231.0,514.0 235.8,512.2 241.9,513.2 249.2,514.0 256.5,514.6 263.8,514.6 271.1,514.4 280.9,514.6 290.6,514.9 297.9,514.6 305.2,514.4 308.0,514.4 308.0,530.5 220.0,530.5" fill="#FF4500" stroke="#FF4500" stroke-width="0.4" stroke-linejoin="round"/>
<polygon points="220.0,523.2 222.4,520.1 226.1,519.5 229.1,521.9 231.0,526.2 231.6,530.5 220.0,530.5" fill="#FFA500" stroke="#FFA500" stroke-width="0.4" stroke-linejoin="round"/>
<polygon points="235.8,530.5 241.9,528.0 251.6,526.8 263.8,526.2 276.0,525.6 288.2,525.8 300.3,525.8 308.0,525.6 308.0,530.5" fill="#FFA500" stroke="#FFA500" stroke-width="0.4" stroke-linejoin="round"/>
<polygon points="220.0,497.0 223.0,498.2 226.1,501.9 227.3,504.3 223.7,504.9 220.0,503.1" fill="#FF4500" stroke="#FF4500" stroke-width="0.4" stroke-linejoin="round"/>
</g>
<clipPath id="c24"><rect x="308" y="455" width="89" height="74"/></clipPath>
<g clip-path="url(#c24)">
<rect x="307.5" y="454.5" width="90" height="75" fill="#FF4500"/>
<polygon points="308.0,455.0 344.9,455.0 344.9,459.9 342.5,463.0 336.3,464.6 328.9,463.9 321.5,462.4 314.2,459.9 308.0,457.5" fill="#FFA500" stroke="#FFA500" stroke-width="0.4" stroke-linejoin="round"/>
<polygon points="349.9,455.0 363.4,455.0 365.9,459.9 367.1,466.1 364.6,470.4 360.9,469.8 357.2,466.7 354.8,461.2" fill="#FFA500" stroke="#FFA500" stroke-width="0.4" stroke-linejoin="round"/>
<polygon points="308.0,477.8 315.4,478.1 322.8,477.8 326.5,479.0 330.2,476.5 335.1,475.3 341.2,473.5 347.4,471.6 351.1,469.2 354.8,469.2 359.7,471.6 365.9,473.5 372.0,475.9 376.9,476.5 376.9,472.2 378.2,467.3 379.4,464.2 384.3,463.0 391.7,462.4 397.0,463.0 397.0,477.2 392.9,478.4 389.2,480.9 386.8,483.9 384.3,488.2 379.4,488.9 372.0,487.6 364.6,487.3 357.2,487.6 349.9,486.8 342.5,487.3 335.1,488.0 327.7,488.0 320.3,488.5 315.4,489.5 308.0,488.9" fill="#B22222" stroke="#B22222" stroke-width="0.4" stroke-linejoin="round"/>
<polygon points="308.0,495.0 311.7,495.6 315.4,497.5 320.3,496.9 326.5,497.5 330.2,500.5 331.4,505.5 330.2,510.4 326.5,512.9 320.3,514.7 314.2,515.3 308.0,515.6" fill="#B22222" stroke="#B22222" stroke-width="0.4" stroke-linejoin="round"/>
<polygon points="368.3,463.0 371.4,461.8 373.2,463.6 371.4,465.5 368.9,464.8" fill="#B22222" stroke="#B22222" stroke-width="0.4" stroke-linejoin="round"/>
<polygon points="386.8,484.5 391.7,482.7 397.0,481.5 397.0,531.3 359.7,531.3 362.2,526.4 367.1,523.3 370.8,519.0 373.2,514.1 376.9,510.4 381.9,511.0 384.9,511.6 385.6,506.7 384.9,501.8 384.3,496.9 385.6,490.7" fill="#FFA500" stroke="#FFA500" stroke-width="0.4" stroke-linejoin="round"/>
<polygon points="392.9,490.7 397.0,489.5 397.0,502.4 394.2,500.5 392.3,496.2" fill="#FF4500" stroke="#FF4500" stroke-width="0.4" stroke-linejoin="round"/>
<polygon points="386.8,500.5 389.9,503.6 392.9,506.7 397.0,509.2 397.0,512.9 392.9,511.6 389.2,507.9 386.8,504.2" fill="#FFE100" stroke="#FFE100" stroke-width="0.4" stroke-linejoin="round"/>
</g>
<clipPath id="c25"><rect x="397" y="455" width="88" height="74"/></clipPath>
<g clip-path="url(#c25)">
<rect x="396.5" y="454.5" width="89" height="75" fill="#FF4500"/>
<polygon points="450.6,455.0 485.0,455.0 485.0,457.4 479.8,457.4 472.5,458.7 468.8,460.5 465.2,463.5 462.7,467.8 459.7,466.0 459.1,461.1 455.4,457.4" fill="#FFA500" stroke="#FFA500" stroke-width="0.4" stroke-linejoin="round"/>
<polygon points="397.0,462.9 400.7,462.5 401.9,464.7 404.3,463.5 409.2,465.3 412.8,468.4 417.7,471.4 422.6,474.5 427.4,478.1 431.1,479.3 434.7,478.1 439.6,480.0 445.7,479.3 450.6,481.2 455.4,480.8 461.5,480.0 466.4,480.6 470.0,483.6 472.5,487.3 471.2,490.3 467.6,491.3 462.7,490.1 457.9,491.5 453.0,493.0 451.8,495.8 453.6,499.4 452.4,502.5 448.1,504.3 445.7,503.1 443.9,500.0 442.0,497.6 438.4,496.4 433.5,494.6 428.6,492.7 425.0,490.9 422.6,487.9 420.1,484.8 416.5,483.0 411.6,481.2 406.7,479.3 401.9,478.1 397.0,477.5" fill="#B22222" stroke="#B22222" stroke-width="0.4" stroke-linejoin="round"/>
<polygon points="441.4,506.1 443.9,503.7 446.3,504.3 445.7,508.6 443.9,512.2 441.4,511.0 440.8,508.6" fill="#B22222" stroke="#B22222" stroke-width="0.4" stroke-linejoin="round"/>
<polygon points="466.4,469.6 468.8,466.6 472.5,465.3 477.3,466.6 482.2,467.8 485.0,468.4 485.0,477.5 481.0,475.7 476.1,473.3 472.5,473.9 468.8,475.7 466.6,473.3" fill="#B22222" stroke="#B22222" stroke-width="0.4" stroke-linejoin="round"/>
<polygon points="476.1,490.3 481.0,487.3 485.0,486.6 485.0,492.7 481.0,492.1" fill="#B22222" stroke="#B22222" stroke-width="0.4" stroke-linejoin="round"/>
<polygon points="397.0,503.7 401.9,506.1 405.5,509.8 408.0,514.6 408.6,520.7 407.3,526.8 406.7,530.5 397.0,530.5" fill="#FFA500" stroke="#FFA500" stroke-width="0.4" stroke-linejoin="round"/>
<polygon points="397.0,505.1 400.7,507.3 403.7,511.0 405.8,515.9 406.1,521.9 404.9,528.0 404.3,530.5 397.0,530.5" fill="#FFE100" stroke="#FFE100" stroke-width="0.4" stroke-linejoin="round"/>
<polygon points="397.0,510.4 399.4,511.6 402.5,515.9 403.1,521.9 401.9,528.0 397.0,529.2" fill="#DEB887" stroke="#DEB887" stroke-width="0.4" stroke-linejoin="round"/>
<polygon points="400.7,517.1 402.5,518.3 402.5,523.2 400.9,524.4" fill="#F5E6BE" stroke="#F5E6BE" stroke-width="0.4" stroke-linejoin="round"/>
<polygon points="409.2,530.5 412.8,525.0 416.5,520.7 421.3,518.3 425.0,514.6 428.6,510.4 431.7,511.0 432.9,514.6 431.1,519.5 427.4,521.3 424.4,525.6 423.2,530.5" fill="#FFA500" stroke="#FFA500" stroke-width="0.4" stroke-linejoin="round"/>
<polygon points="485.0,512.2 481.0,515.9 478.5,521.3 474.9,525.0 470.0,526.2 462.7,527.4 453.0,527.1 443.3,527.8 435.9,528.6 434.7,530.5 485.0,530.5" fill="#FFA500" stroke="#FFA500" stroke-width="0.4" stroke-linejoin="round"/>
</g>
<clipPath id="c26"><rect x="43" y="529" width="88" height="74"/></clipPath>
<g clip-path="url(#c26)">
<rect x="42.5" y="528.5" width="89" height="75" fill="#FFA500"/>
<polygon points="81.3,534.5 85.6,529.0 102.6,529.0 96.6,530.8 89.3,532.7 84.4,533.9" fill="#FF4500" stroke="#FF4500" stroke-width="0.4" stroke-linejoin="round"/>
<polygon points="62.5,529.0 81.9,529.0 79.5,532.0 74.6,534.1 67.3,534.5 64.9,532.0" fill="#FFE100" stroke="#FFE100" stroke-width="0.4" stroke-linejoin="round"/>
<polygon points="43.0,536.1 50.3,536.1 57.6,538.1 64.9,540.6 72.2,540.9 81.9,540.2 91.7,540.2 101.4,539.7 108.7,539.0 116.0,537.3 125.8,536.3 131.0,536.5 131.0,604.5 43.0,604.5" fill="#FFE100" stroke="#FFE100" stroke-width="0.4" stroke-linejoin="round"/>
<polygon points="43.0,542.1 50.3,542.4 57.6,544.2 67.3,545.4 77.1,545.8 86.8,544.8 96.6,544.2 106.3,544.2 113.6,546.0 120.9,546.6 131.0,545.4 131.0,604.5 43.0,604.5" fill="#DEB887" stroke="#DEB887" stroke-width="0.4" stroke-linejoin="round"/>
<polygon points="43.0,548.2 52.7,548.2 62.5,549.1 72.2,549.9 81.9,549.4 91.7,548.2 101.4,547.3 108.7,548.2 116.0,549.7 125.8,549.7 131.0,549.1 131.0,604.5 43.0,604.5" fill="#F5E6BE" stroke="#F5E6BE" stroke-width="0.4" stroke-linejoin="round"/>
<polygon points="43.0,557.0 52.7,556.4 62.5,556.0 72.2,556.4 81.9,557.2 91.7,557.2 99.0,557.6 106.3,559.2 113.6,560.4 120.9,560.9 123.3,562.5 131.0,562.5 131.0,604.5 43.0,604.5" fill="#98BE32" stroke="#98BE32" stroke-width="0.4" stroke-linejoin="round"/>
<polygon points="43.0,564.3 52.7,564.1 62.5,564.5 72.2,566.1 81.9,566.7 91.7,566.5 101.4,566.1 111.2,566.1 120.9,566.1 131.0,565.5 131.0,604.5 43.0,604.5" fill="#BDEE68" stroke="#BDEE68" stroke-width="0.4" stroke-linejoin="round"/>
<polygon points="43.0,577.1 52.7,577.1 62.5,577.1 72.2,577.1 81.9,576.7 91.7,575.9 99.0,574.0 106.3,572.8 113.6,573.1 120.9,573.8 131.0,574.3 131.0,604.5 43.0,604.5" fill="#20B2AA" stroke="#20B2AA" stroke-width="0.4" stroke-linejoin="round"/>
<polygon points="43.0,578.9 55.2,578.7 67.3,578.7 79.5,578.3 91.7,577.4 99.0,575.9 106.3,574.3 111.2,574.3 116.0,575.9 120.9,577.7 131.0,578.7 131.0,604.5 43.0,604.5" fill="#B0E0E6" stroke="#B0E0E6" stroke-width="0.4" stroke-linejoin="round"/>
<polygon points="43.0,581.3 55.2,581.1 67.3,581.1 79.5,581.1 91.7,580.1 99.0,578.7 106.3,577.4 111.2,577.9 116.0,580.1 120.9,582.6 125.8,583.5 131.0,583.8 131.0,604.5 43.0,604.5" fill="#789BF2" stroke="#789BF2" stroke-width="0.4" stroke-linejoin="round"/>
<polygon points="43.0,584.4 55.2,583.8 67.3,583.5 79.5,583.5 91.7,582.8 101.4,581.9 107.5,582.3 111.2,584.4 116.0,586.2 123.3,587.4 131.0,588.0 131.0,604.5 43.0,604.5" fill="#3C64E6" stroke="#3C64E6" stroke-width="0.4" stroke-linejoin="round"/>
<polygon points="50.3,589.2 55.2,586.2 67.3,586.0 79.5,586.2 91.7,586.8 99.0,588.4 106.3,589.9 116.0,591.1 131.0,591.3 131.0,597.2 120.9,596.9 108.7,596.6 96.6,595.7 84.4,594.7 72.2,592.9 60.0,591.1" fill="#0000C8" stroke="#0000C8" stroke-width="0.4" stroke-linejoin="round"/>
<polygon points="43.0,599.8 131.0,599.8 131.0,604.5 43.0,604.5" fill="#FFFFFF" stroke="#FFFFFF" stroke-width="0.4" stroke-linejoin="round"/>
</g>
<clipPath id="c27"><rect x="131" y="529" width="89" height="74"/></clipPath>
<g clip-path="url(#c27)">
<rect x="130.5" y="528.5" width="90" height="75" fill="#FFA500"/>
<polygon points="131.0,535.4 140.8,534.5 150.7,533.9 160.5,533.7 170.4,534.2 174.9,533.9 183.8,536.1 192.7,536.6 201.5,536.0 208.2,534.9 213.7,534.9 217.0,534.3 220.0,532.9 220.0,605.3 131.0,605.3" fill="#FFE100" stroke="#FFE100" stroke-width="0.4" stroke-linejoin="round"/>
<polygon points="131.0,545.6 140.8,544.8 150.7,544.0 158.1,543.5 167.9,544.4 177.8,545.6 187.6,546.0 197.5,545.6 207.3,546.0 220.0,547.5 220.0,605.3 131.0,605.3" fill="#DEB887" stroke="#DEB887" stroke-width="0.4" stroke-linejoin="round"/>
<polygon points="131.0,549.9 138.4,550.2 145.8,551.2 155.6,551.8 160.5,550.5 170.4,550.9 180.2,552.1 190.1,553.6 199.9,554.2 209.8,554.9 220.0,555.1 220.0,605.3 131.0,605.3" fill="#F5E6BE" stroke="#F5E6BE" stroke-width="0.4" stroke-linejoin="round"/>
<polygon points="131.0,557.9 134.7,556.3 139.6,555.8 143.3,557.3 147.0,559.5 151.9,561.0 160.5,560.4 167.9,559.5 175.3,559.2 176.5,561.3 175.3,562.9 182.7,563.5 192.5,563.7 199.9,564.1 204.9,565.7 214.7,565.7 215.9,562.9 220.0,562.0 220.0,605.3 131.0,605.3" fill="#98BE32" stroke="#98BE32" stroke-width="0.4" stroke-linejoin="round"/>
<polygon points="131.0,565.7 140.8,565.7 150.7,566.5 160.5,567.4 170.4,568.1 180.2,568.6 187.6,569.4 195.0,570.6 202.4,570.2 209.8,569.6 220.0,569.0 220.0,605.3 131.0,605.3" fill="#BDEE68" stroke="#BDEE68" stroke-width="0.4" stroke-linejoin="round"/>
<polygon points="131.0,574.3 138.4,574.5 145.8,573.9 155.6,573.1 167.9,572.7 180.2,572.7 192.5,573.1 204.9,573.1 220.0,573.1 220.0,605.3 131.0,605.3" fill="#20B2AA" stroke="#20B2AA" stroke-width="0.4" stroke-linejoin="round"/>
<polygon points="131.0,578.9 138.4,577.0 145.8,575.2 155.6,574.3 167.9,573.9 180.2,574.5 192.5,574.8 204.9,574.5 220.0,574.8 220.0,605.3 131.0,605.3" fill="#B0E0E6" stroke="#B0E0E6" stroke-width="0.4" stroke-linejoin="round"/>
<polygon points="131.0,583.2 138.4,580.7 145.8,578.2 155.6,577.0 167.9,576.8 180.2,577.3 192.5,577.6 204.9,577.3 220.0,577.6 220.0,605.3 131.0,605.3" fill="#789BF2" stroke="#789BF2" stroke-width="0.4" stroke-linejoin="round"/>
<polygon points="131.0,586.9 138.4,585.0 145.8,582.9 153.2,581.3 163.0,580.7 175.3,580.7 187.6,580.7 199.9,580.9 209.8,581.3 220.0,581.9 220.0,605.3 131.0,605.3" fill="#3C64E6" stroke="#3C64E6" stroke-width="0.4" stroke-linejoin="round"/>
<polygon points="131.0,590.5 138.4,589.9 145.8,588.1 153.2,585.9 159.3,585.0 166.7,585.4 172.9,586.9 175.3,589.1 170.4,591.2 163.0,593.3 153.2,595.5 143.3,596.7 135.9,597.3 131.0,597.3" fill="#0000C8" stroke="#0000C8" stroke-width="0.4" stroke-linejoin="round"/>
<polygon points="220.0,587.8 215.9,589.9 212.2,592.4 211.0,593.6 214.7,596.1 220.0,597.3" fill="#789BF2" stroke="#789BF2" stroke-width="0.4" stroke-linejoin="round"/>
<polygon points="131.0,599.8 220.0,599.8 220.0,605.3 131.0,605.3" fill="#FFFFFF" stroke="#FFFFFF" stroke-width="0.4" stroke-linejoin="round"/>
</g>
<clipPath id="c28"><rect x="220" y="529" width="88" height="74"/></clipPath>
<g clip-path="url(#c28)">
<rect x="219.5" y="528.5" width="89" height="75" fill="#FFA500"/>
<polygon points="220.0,532.0 225.5,530.8 229.1,529.0 231.0,529.0 228.5,534.5 226.1,538.1 220.0,539.3" fill="#FFE100" stroke="#FFE100" stroke-width="0.4" stroke-linejoin="round"/>
<polygon points="220.0,541.2 227.3,541.2 234.6,540.2 244.3,539.3 254.1,538.5 261.4,538.7 266.3,537.8 273.6,536.5 283.3,536.1 293.0,535.7 308.0,535.7 308.0,604.5 220.0,604.5" fill="#FFE100" stroke="#FFE100" stroke-width="0.4" stroke-linejoin="round"/>
<polygon points="220.0,547.9 229.7,547.9 239.5,548.5 246.8,549.7 251.6,548.5 258.9,547.5 266.3,548.5 272.3,549.7 278.4,549.1 288.2,547.3 297.9,546.0 308.0,545.8 308.0,604.5 220.0,604.5" fill="#DEB887" stroke="#DEB887" stroke-width="0.4" stroke-linejoin="round"/>
<polygon points="220.0,555.8 227.3,556.4 234.6,557.2 241.9,558.5 249.2,559.4 255.3,559.2 261.4,558.2 271.1,559.2 280.9,558.2 290.6,557.2 300.3,557.0 308.0,557.2 308.0,604.5 220.0,604.5" fill="#F5E6BE" stroke="#F5E6BE" stroke-width="0.4" stroke-linejoin="round"/>
<polygon points="220.0,561.9 227.3,562.8 234.6,564.5 241.9,566.1 249.2,567.3 258.9,567.9 268.7,568.2 276.0,566.7 285.7,564.9 295.5,563.1 302.8,562.1 308.0,563.1 308.0,604.5 220.0,604.5" fill="#98BE32" stroke="#98BE32" stroke-width="0.4" stroke-linejoin="round"/>
<polygon points="220.0,569.2 229.7,568.9 239.5,569.8 249.2,570.6 258.9,571.0 268.7,571.4 278.4,571.4 288.2,571.0 297.9,570.6 308.0,570.4 308.0,604.5 220.0,604.5" fill="#BDEE68" stroke="#BDEE68" stroke-width="0.4" stroke-linejoin="round"/>
<polygon points="220.0,573.8 227.3,574.0 234.6,574.6 244.3,575.3 254.1,575.5 263.8,575.9 273.6,575.9 283.3,576.2 293.0,577.1 302.8,578.3 308.0,578.9 308.0,604.5 220.0,604.5" fill="#20B2AA" stroke="#20B2AA" stroke-width="0.4" stroke-linejoin="round"/>
<polygon points="220.0,575.9 227.3,576.5 234.6,577.7 240.7,578.9 248.0,580.4 250.4,583.2 251.0,587.4 255.3,589.9 261.4,588.6 266.3,586.2 272.3,584.7 280.9,584.4 290.6,585.2 299.1,586.2 308.0,585.2 308.0,604.5 220.0,604.5" fill="#B0E0E6" stroke="#B0E0E6" stroke-width="0.4" stroke-linejoin="round"/>
<polygon points="220.0,578.9 224.9,579.1 231.0,580.7 235.2,582.6 236.4,585.0 233.4,588.6 231.0,591.7 233.4,595.3 240.7,596.9 250.4,598.1 260.2,598.6 271.1,599.0 283.3,599.0 295.5,598.6 308.0,598.1 308.0,604.5 220.0,604.5" fill="#789BF2" stroke="#789BF2" stroke-width="0.4" stroke-linejoin="round"/>
<polygon points="220.0,600.2 308.0,600.2 308.0,604.5 220.0,604.5" fill="#FFFFFF" stroke="#FFFFFF" stroke-width="0.4" stroke-linejoin="round"/>
</g>
<clipPath id="c29"><rect x="308" y="529" width="89" height="74"/></clipPath>
<g clip-path="url(#c29)">
<rect x="307.5" y="528.5" width="90" height="75" fill="#FFA500"/>
<polygon points="308.0,535.8 320.3,535.8 332.6,536.1 344.9,536.6 354.8,536.1 362.2,536.6 369.5,534.5 376.9,535.8 384.3,533.3 389.2,533.9 392.9,529.0 397.0,529.0 397.0,605.3 308.0,605.3" fill="#FFE100" stroke="#FFE100" stroke-width="0.4" stroke-linejoin="round"/>
<polygon points="308.0,546.2 320.3,545.2 332.6,544.8 344.9,544.8 354.8,545.6 362.2,544.4 369.5,545.0 379.4,544.4 386.8,547.5 390.5,545.0 392.9,540.1 395.4,536.4 397.0,535.2 397.0,605.3 308.0,605.3" fill="#DEB887" stroke="#DEB887" stroke-width="0.4" stroke-linejoin="round"/>
<polygon points="308.0,557.9 317.8,557.3 327.7,558.3 335.1,557.1 342.5,557.6 349.9,558.8 357.2,557.6 362.2,555.8 369.5,556.7 376.9,555.5 384.3,557.9 389.2,558.5 391.7,551.2 394.2,543.8 397.0,541.3 397.0,605.3 308.0,605.3" fill="#F5E6BE" stroke="#F5E6BE" stroke-width="0.4" stroke-linejoin="round"/>
<polygon points="308.0,564.1 317.8,564.7 327.7,566.5 337.5,568.4 347.4,569.4 357.2,569.6 367.1,569.4 376.9,569.0 386.8,569.0 397.0,568.6 397.0,605.3 308.0,605.3" fill="#98BE32" stroke="#98BE32" stroke-width="0.4" stroke-linejoin="round"/>
<polygon points="308.0,571.1 317.8,572.1 327.7,573.1 337.5,573.6 347.4,573.9 357.2,574.3 367.1,574.3 376.9,573.9 386.8,573.1 397.0,572.1 397.0,605.3 308.0,605.3" fill="#BDEE68" stroke="#BDEE68" stroke-width="0.4" stroke-linejoin="round"/>
<polygon points="308.0,578.9 317.8,579.2 327.7,579.7 337.5,580.1 347.4,580.5 357.2,579.7 367.1,579.5 376.9,579.5 386.8,579.2 397.0,578.2 397.0,605.3 308.0,605.3" fill="#20B2AA" stroke="#20B2AA" stroke-width="0.4" stroke-linejoin="round"/>
<polygon points="308.0,587.5 315.4,586.6 322.8,585.9 330.2,584.6 340.0,584.4 349.9,584.6 359.7,584.1 369.5,583.8 379.4,584.1 389.2,584.1 397.0,583.2 397.0,605.3 308.0,605.3" fill="#B0E0E6" stroke="#B0E0E6" stroke-width="0.4" stroke-linejoin="round"/>
<polygon points="308.0,591.8 312.9,592.0 317.2,592.8 312.9,593.6 308.0,593.6" fill="#20B2AA" stroke="#20B2AA" stroke-width="0.4" stroke-linejoin="round"/>
<polygon points="308.0,598.9 322.8,598.6 337.5,597.7 351.1,596.7 352.3,589.9 359.7,589.9 367.1,591.8 374.5,593.6 381.9,595.5 389.2,596.5 397.0,596.7 397.0,605.3 308.0,605.3" fill="#789BF2" stroke="#789BF2" stroke-width="0.4" stroke-linejoin="round"/>
<polygon points="308.0,600.2 397.0,600.2 397.0,605.3 308.0,605.3" fill="#FFFFFF" stroke="#FFFFFF" stroke-width="0.4" stroke-linejoin="round"/>
</g>
<clipPath id="c30"><rect x="397" y="529" width="88" height="74"/></clipPath>
<g clip-path="url(#c30)">
<rect x="396.5" y="528.5" width="89" height="75" fill="#FFA500"/>
<polygon points="400.7,529.0 405.5,529.0 405.5,535.1 408.0,538.7 412.8,536.3 415.9,535.7 417.1,538.7 421.3,541.2 428.6,540.2 438.4,538.7 448.1,536.9 457.9,536.5 470.0,536.3 485.0,536.1 485.0,604.5 397.0,604.5 397.0,529.0" fill="#FFE100" stroke="#FFE100" stroke-width="0.4" stroke-linejoin="round"/>
<polygon points="397.0,529.0 400.7,529.0 401.3,535.1 402.5,541.2 404.3,546.0 408.0,547.3 412.8,543.6 416.5,544.8 418.9,547.9 423.8,549.1 428.6,547.3 438.4,546.0 448.1,544.8 457.9,544.2 467.6,543.6 477.3,543.0 485.0,542.6 485.0,604.5 397.0,604.5" fill="#DEB887" stroke="#DEB887" stroke-width="0.4" stroke-linejoin="round"/>
<polygon points="397.0,545.4 398.8,547.3 400.0,551.5 401.9,555.2 405.5,558.2 411.6,557.6 418.9,556.4 428.6,554.0 438.4,552.7 448.1,551.2 457.9,550.3 467.6,549.1 477.3,548.2 485.0,547.9 485.0,604.5 397.0,604.5" fill="#F5E6BE" stroke="#F5E6BE" stroke-width="0.4" stroke-linejoin="round"/>
<polygon points="397.0,568.6 404.3,566.5 411.6,564.5 418.9,563.1 426.2,561.9 432.3,560.0 438.4,558.2 445.7,557.2 451.8,558.0 457.9,558.5 465.2,558.2 472.5,557.2 479.8,556.4 485.0,556.4 485.0,604.5 397.0,604.5" fill="#98BE32" stroke="#98BE32" stroke-width="0.4" stroke-linejoin="round"/>
<polygon points="397.0,572.8 404.3,571.0 411.6,569.8 418.9,568.6 426.2,567.7 433.5,567.0 440.8,565.5 448.1,564.5 455.4,564.9 465.2,565.3 474.9,564.9 485.0,564.3 485.0,604.5 397.0,604.5" fill="#BDEE68" stroke="#BDEE68" stroke-width="0.4" stroke-linejoin="round"/>
<polygon points="397.0,577.7 404.3,576.7 411.6,575.5 421.3,575.0 431.1,574.6 440.8,575.0 450.6,575.9 460.3,577.1 470.0,577.7 479.8,577.4 485.0,577.1 485.0,604.5 397.0,604.5" fill="#20B2AA" stroke="#20B2AA" stroke-width="0.4" stroke-linejoin="round"/>
<polygon points="397.0,584.4 404.3,583.5 411.6,583.2 421.3,584.0 431.1,585.2 438.4,586.2 445.7,585.6 453.0,583.8 460.3,582.3 467.6,581.1 474.9,579.9 485.0,578.9 485.0,604.5 397.0,604.5" fill="#B0E0E6" stroke="#B0E0E6" stroke-width="0.4" stroke-linejoin="round"/>
<polygon points="397.0,596.6 409.2,596.6 421.3,596.6 433.5,596.2 445.7,595.7 455.4,594.1 460.3,591.7 465.2,589.2 470.0,586.8 474.9,585.0 479.8,583.5 485.0,582.6 485.0,604.5 397.0,604.5" fill="#789BF2" stroke="#789BF2" stroke-width="0.4" stroke-linejoin="round"/>
<polygon points="474.9,590.5 477.9,588.0 482.2,586.2 485.0,585.2 485.0,599.0 465.2,599.4 445.7,599.8 465.2,598.4 474.9,597.2 479.8,594.7 477.3,592.3" fill="#3C64E6" stroke="#3C64E6" stroke-width="0.4" stroke-linejoin="round"/>
<polygon points="397.0,599.8 485.0,599.8 485.0,604.5 397.0,604.5" fill="#FFFFFF" stroke="#FFFFFF" stroke-width="0.4" stroke-linejoin="round"/>
</g>
<clipPath id="c31"><rect x="43" y="661" width="88" height="74"/></clipPath>
<g clip-path="url(#c31)">
<rect x="42.5" y="660.5" width="89" height="75" fill="#FFE100"/>
<polygon points="43.0,664.0 91.7,664.0 97.8,665.9 106.3,667.7 116.0,668.9 125.8,672.0 131.0,674.4 131.0,678.0 125.8,679.3 118.5,681.1 108.7,681.7 99.0,681.1 89.3,680.5 79.5,679.3 72.2,677.4 64.9,676.8 55.2,677.4 47.9,676.8 43.0,675.6" fill="#FFA500" stroke="#FFA500" stroke-width="0.4" stroke-linejoin="round"/>
<polygon points="44.8,673.2 50.3,670.7 58.8,668.9 69.8,669.3 75.9,671.3 75.9,673.8 71.0,675.0 64.9,674.4 61.3,675.6 55.2,676.2 49.1,675.8 45.4,675.0" fill="#FF4500" stroke="#FF4500" stroke-width="0.4" stroke-linejoin="round"/>
<polygon points="78.3,675.0 83.2,673.2 94.1,673.2 103.9,673.8 111.2,675.0 114.8,676.8 112.4,679.3 103.9,680.2 94.1,679.5 85.6,678.6 80.7,677.4" fill="#FF4500" stroke="#FF4500" stroke-width="0.4" stroke-linejoin="round"/>
<polygon points="47.9,673.4 51.5,672.9 55.2,673.4 54.9,674.4 50.3,674.6" fill="#B22222" stroke="#B22222" stroke-width="0.4" stroke-linejoin="round"/>
<polygon points="96.6,676.6 101.4,675.8 106.3,676.6 105.7,677.8 100.2,678.0" fill="#B22222" stroke="#B22222" stroke-width="0.4" stroke-linejoin="round"/>
<polygon points="43.0,679.3 55.2,679.0 64.9,678.0 72.2,680.5 79.5,681.7 91.7,682.3 101.4,682.9 106.3,686.0 113.6,685.3 120.9,685.3 128.2,686.8 131.0,687.5 131.0,703.6 123.3,703.0 116.0,703.6 108.7,704.8 101.4,705.4 94.1,704.8 86.8,705.4 79.5,706.0 73.4,707.9 67.3,709.1 61.3,708.7 55.2,707.9 49.1,708.5 43.0,709.7" fill="#DEB887" stroke="#DEB887" stroke-width="0.4" stroke-linejoin="round"/>
<polygon points="43.0,680.2 50.3,679.5 58.8,679.3 64.3,678.3 67.3,681.1 73.4,682.7 81.9,683.9 91.7,684.4 99.0,686.0 100.0,689.2 111.0,690.0 122.1,691.4 128.8,693.6 124.3,696.4 116.6,698.6 108.7,700.9 101.4,700.2 94.1,699.7 86.8,700.2 79.5,700.9 73.4,702.1 68.6,703.8 63.7,705.1 57.6,705.1 52.7,703.6 49.1,700.6 46.7,696.9 48.5,693.3 53.3,690.2 58.2,688.0 56.4,686.0 51.5,685.3 46.7,686.0 43.0,687.2" fill="#F5E6BE" stroke="#F5E6BE" stroke-width="0.4" stroke-linejoin="round"/>
<polygon points="126.5,699.7 131.0,698.1 131.0,702.4 128.2,703.0" fill="#F5E6BE" stroke="#F5E6BE" stroke-width="0.4" stroke-linejoin="round"/>
<polygon points="48.5,693.3 53.3,690.2 58.8,687.8 61.3,688.4 57.6,691.4 52.7,694.5 49.7,697.5 47.3,696.9" fill="#FFE100" stroke="#FFE100" stroke-width="0.4" stroke-linejoin="round"/>
<polygon points="64.9,692.6 68.6,690.2 73.4,690.2 75.3,692.0 72.2,694.5 69.2,696.9 66.7,697.5 64.9,695.7" fill="#FFE100" stroke="#FFE100" stroke-width="0.4" stroke-linejoin="round"/>
<polygon points="44.2,682.3 49.1,681.7 54.0,683.5 54.6,687.2 51.5,690.2 47.9,692.6 44.2,693.3" fill="#98BE32" stroke="#98BE32" stroke-width="0.4" stroke-linejoin="round"/>
<polygon points="83.8,685.3 89.3,684.4 92.9,685.3 92.3,687.8 88.0,688.8 84.4,687.8" fill="#98BE32" stroke="#98BE32" stroke-width="0.4" stroke-linejoin="round"/>
<polygon points="74.9,694.5 79.5,693.6 84.4,694.1 83.8,696.1 78.3,696.5 74.9,696.1" fill="#98BE32" stroke="#98BE32" stroke-width="0.4" stroke-linejoin="round"/>
<polygon points="45.4,701.8 47.3,701.2 48.5,704.2 46.0,704.8" fill="#98BE32" stroke="#98BE32" stroke-width="0.4" stroke-linejoin="round"/>
<polygon points="78.3,712.1 84.4,709.7 89.3,707.9 95.3,707.9 100.2,709.7 101.4,713.3 100.2,718.2 102.6,721.9 106.3,724.3 108.7,727.9 106.3,731.6 101.4,732.8 97.8,730.4 95.3,726.7 91.7,724.3 89.3,720.6 84.4,718.2 79.5,715.8" fill="#FFA500" stroke="#FFA500" stroke-width="0.4" stroke-linejoin="round"/>
<polygon points="105.1,708.5 111.2,705.4 118.5,705.4 125.8,707.3 131.0,709.1 131.0,718.2 127.0,717.6 122.1,719.4 118.5,721.9 114.8,721.2 112.4,718.2 110.6,714.6 106.3,712.1" fill="#FFA500" stroke="#FFA500" stroke-width="0.4" stroke-linejoin="round"/>
<polygon points="66.7,714.6 69.8,713.3 72.8,714.6 72.2,717.0 68.6,717.6" fill="#FFA500" stroke="#FFA500" stroke-width="0.4" stroke-linejoin="round"/>
<polygon points="43.0,719.4 46.7,718.2 51.5,717.6 56.4,719.4 58.8,722.5 63.7,724.3 67.3,727.3 72.2,729.2 79.5,730.4 85.6,729.2 86.8,732.8 84.4,736.5 43.0,736.5" fill="#F5E6BE" stroke="#F5E6BE" stroke-width="0.4" stroke-linejoin="round"/>
<polygon points="78.3,715.8 83.2,714.6 89.3,715.2 92.9,718.2 91.7,721.2 85.6,721.9 79.5,720.6 77.1,718.2" fill="#F5E6BE" stroke="#F5E6BE" stroke-width="0.4" stroke-linejoin="round"/>
<polygon points="102.6,714.6 107.5,713.9 109.9,717.0 109.3,723.1 106.3,725.5 103.2,723.1 102.0,718.2" fill="#F5E6BE" stroke="#F5E6BE" stroke-width="0.4" stroke-linejoin="round"/>
<polygon points="44.2,729.2 50.3,727.7 56.4,729.2 58.8,732.8 57.6,736.5 44.2,736.5" fill="#DEB887" stroke="#DEB887" stroke-width="0.4" stroke-linejoin="round"/>
<polygon points="64.9,731.6 72.2,729.8 79.5,731.0 84.4,734.0 83.2,736.5 66.1,736.5" fill="#DEB887" stroke="#DEB887" stroke-width="0.4" stroke-linejoin="round"/>
<polygon points="122.7,722.5 124.8,719.4 128.2,718.4 130.1,719.7 130.1,727.9 127.0,729.2 123.6,727.3" fill="#F5E6BE" stroke="#F5E6BE" stroke-width="0.4" stroke-linejoin="round"/>
<polygon points="127.6,724.3 131.0,722.5 131.0,729.2 128.2,728.6" fill="#FF4500" stroke="#FF4500" stroke-width="0.4" stroke-linejoin="round"/>
<polygon points="111.2,729.2 116.0,726.7 122.1,729.2 123.3,734.0 120.9,736.5 111.2,736.5" fill="#DEB887" stroke="#DEB887" stroke-width="0.4" stroke-linejoin="round"/>
<polygon points="114.2,729.2 118.5,727.9 120.9,730.4 119.1,733.4 114.8,734.0" fill="#98BE32" stroke="#98BE32" stroke-width="0.4" stroke-linejoin="round"/>
<polygon points="120.9,734.0 125.8,732.2 131.0,731.6 131.0,736.5 120.9,736.5" fill="#BDEE68" stroke="#BDEE68" stroke-width="0.4" stroke-linejoin="round"/>
<polygon points="124.5,734.6 131.0,733.4 131.0,736.5 124.5,736.5" fill="#B0E0E6" stroke="#B0E0E6" stroke-width="0.4" stroke-linejoin="round"/>
<polygon points="43.0,661.0 131.0,661.0 131.0,664.0 43.0,664.0" fill="#FFFFFF" stroke="#FFFFFF" stroke-width="0.4" stroke-linejoin="round"/>
</g>
<clipPath id="c32"><rect x="131" y="661" width="89" height="74"/></clipPath>
<g clip-path="url(#c32)">
<rect x="130.5" y="660.5" width="90" height="75" fill="#DEB887"/>
<polygon points="131.0,664.1 204.9,664.1 199.9,665.3 190.1,665.9 180.2,666.5 170.4,667.2 161.8,668.4 158.1,671.5 160.5,673.3 167.9,674.5 175.3,675.8 182.7,677.6 183.9,680.7 180.2,681.9 174.1,681.3 171.6,683.8 172.2,686.9 167.9,689.3 161.8,691.8 159.3,689.9 155.6,687.5 149.5,686.2 143.3,685.6 137.2,685.6 131.0,686.2" fill="#FFE100" stroke="#FFE100" stroke-width="0.4" stroke-linejoin="round"/>
<polygon points="144.5,670.2 149.5,669.4 155.0,669.9 155.6,672.1 151.9,673.3 147.0,673.1" fill="#DEB887" stroke="#DEB887" stroke-width="0.4" stroke-linejoin="round"/>
<polygon points="143.9,676.4 149.5,674.8 153.2,675.8 151.9,678.2 147.0,678.8" fill="#DEB887" stroke="#DEB887" stroke-width="0.4" stroke-linejoin="round"/>
<polygon points="172.9,670.2 182.7,669.0 195.0,668.4 207.3,668.6 220.0,668.4 220.0,681.3 214.7,681.9 207.3,680.7 199.9,680.1 197.5,677.6 192.5,675.8 185.2,674.5 177.8,672.7" fill="#F5E6BE" stroke="#F5E6BE" stroke-width="0.4" stroke-linejoin="round"/>
<polygon points="176.5,683.2 182.7,681.9 190.1,683.8 195.0,685.6 192.5,688.7 188.9,691.8 186.4,694.9 180.2,696.1 174.1,695.5 170.4,693.0 172.2,689.3 175.3,686.2" fill="#F5E6BE" stroke="#F5E6BE" stroke-width="0.4" stroke-linejoin="round"/>
<polygon points="192.5,694.2 197.5,693.6 199.3,695.5 196.2,697.3 193.2,696.7" fill="#F5E6BE" stroke="#F5E6BE" stroke-width="0.4" stroke-linejoin="round"/>
<polygon points="131.0,698.5 135.9,697.7 143.3,696.9 149.5,697.3 153.2,698.5 149.5,701.0 143.3,702.2 137.2,702.9 131.0,702.9" fill="#F5E6BE" stroke="#F5E6BE" stroke-width="0.4" stroke-linejoin="round"/>
<polygon points="212.2,673.9 220.0,672.7 220.0,675.8 215.9,675.5" fill="#98BE32" stroke="#98BE32" stroke-width="0.4" stroke-linejoin="round"/>
<polygon points="201.8,681.3 206.1,679.5 212.2,679.5 215.9,681.9 214.7,685.0 209.8,686.2 204.9,685.6 202.2,683.8" fill="#98BE32" stroke="#98BE32" stroke-width="0.4" stroke-linejoin="round"/>
<polygon points="185.2,683.8 195.0,683.2 201.2,684.1 199.9,685.6 192.5,685.4 185.8,685.0" fill="#98BE32" stroke="#98BE32" stroke-width="0.4" stroke-linejoin="round"/>
<polygon points="131.0,703.5 138.4,703.1 145.8,702.2 155.6,701.0 165.5,700.1 175.3,699.2 180.9,698.5 181.5,702.9 180.2,706.5 182.1,709.6 180.2,712.7 174.1,713.9 167.9,715.2 166.7,718.9 169.2,722.5 167.9,727.5 163.0,729.9 164.2,734.9 167.9,737.3 131.0,737.3" fill="#FFE100" stroke="#FFE100" stroke-width="0.4" stroke-linejoin="round"/>
<polygon points="160.5,703.5 163.6,702.2 166.7,705.3 167.9,709.0 165.5,709.6 162.4,706.5" fill="#DEB887" stroke="#DEB887" stroke-width="0.4" stroke-linejoin="round"/>
<polygon points="187.6,704.1 192.5,701.6 199.9,702.2 207.3,702.9 212.2,701.6 217.2,699.2 220.0,697.9 220.0,705.3 215.9,705.9 209.8,706.3 202.4,705.9 195.0,706.3 188.9,705.9" fill="#FFE100" stroke="#FFE100" stroke-width="0.4" stroke-linejoin="round"/>
<polygon points="204.9,696.1 207.3,694.0 209.8,694.9 209.2,697.9 206.1,698.5" fill="#FFE100" stroke="#FFE100" stroke-width="0.4" stroke-linejoin="round"/>
<polygon points="195.0,715.2 201.2,713.9 204.9,715.2 203.6,717.6 197.5,717.9" fill="#FFE100" stroke="#FFE100" stroke-width="0.4" stroke-linejoin="round"/>
<polygon points="146.4,690.5 150.1,689.9 151.3,691.8 148.2,692.8" fill="#FFE100" stroke="#FFE100" stroke-width="0.4" stroke-linejoin="round"/>
<polygon points="131.0,707.8 135.9,706.8 140.8,708.4 143.3,711.5 148.2,713.3 154.4,715.2 155.6,710.2 158.1,706.5 161.2,708.4 161.8,712.7 159.3,715.2 155.6,717.0 150.7,717.6 144.5,717.0 140.8,718.9 137.2,720.1 133.5,718.9 131.0,720.1" fill="#FFA500" stroke="#FFA500" stroke-width="0.4" stroke-linejoin="round"/>
<polygon points="131.0,720.1 134.7,718.9 138.4,720.1 140.8,723.8 138.4,728.1 134.7,730.6 131.0,731.2" fill="#FFA500" stroke="#FFA500" stroke-width="0.4" stroke-linejoin="round"/>
<polygon points="143.3,732.4 150.7,730.6 155.6,727.5 161.8,726.9 165.5,729.9 165.5,734.9 163.0,737.3 145.8,737.3" fill="#FFA500" stroke="#FFA500" stroke-width="0.4" stroke-linejoin="round"/>
<polygon points="150.7,721.3 154.4,720.1 157.5,721.9 156.2,724.4 152.5,724.4" fill="#FFA500" stroke="#FFA500" stroke-width="0.4" stroke-linejoin="round"/>
<polygon points="141.5,714.5 145.8,713.3 150.7,713.9 151.3,715.8 147.0,716.6 142.7,716.4" fill="#FF4500" stroke="#FF4500" stroke-width="0.4" stroke-linejoin="round"/>
<polygon points="131.0,721.3 134.7,720.7 138.4,723.8 135.9,728.1 132.2,729.9 131.0,729.3" fill="#FF4500" stroke="#FF4500" stroke-width="0.4" stroke-linejoin="round"/>
<polygon points="156.2,709.6 158.7,709.0 159.9,711.5 158.1,713.3 156.2,712.1" fill="#FF4500" stroke="#FF4500" stroke-width="0.4" stroke-linejoin="round"/>
<polygon points="151.9,721.6 154.4,721.1 155.0,722.8 152.9,723.2" fill="#FF4500" stroke="#FF4500" stroke-width="0.4" stroke-linejoin="round"/>
<polygon points="145.2,714.7 148.8,714.3 149.5,715.4 145.8,715.7" fill="#B22222" stroke="#B22222" stroke-width="0.4" stroke-linejoin="round"/>
<polygon points="141.5,721.9 145.8,720.7 150.7,725.0 152.5,728.1 148.2,729.3 143.9,728.1 142.1,725.0" fill="#F5E6BE" stroke="#F5E6BE" stroke-width="0.4" stroke-linejoin="round"/>
<polygon points="156.9,716.4 160.5,715.8 162.4,718.2 159.9,720.1 157.5,718.9" fill="#F5E6BE" stroke="#F5E6BE" stroke-width="0.4" stroke-linejoin="round"/>
<polygon points="167.3,720.1 171.6,717.0 177.8,715.8 183.9,716.4 188.9,718.9 191.3,722.5 192.5,727.5 191.3,732.4 190.1,737.3 167.9,737.3 166.7,729.9" fill="#F5E6BE" stroke="#F5E6BE" stroke-width="0.4" stroke-linejoin="round"/>
<polygon points="204.9,715.2 209.8,713.3 213.5,715.2 212.2,719.5 207.3,721.3 204.2,718.9" fill="#F5E6BE" stroke="#F5E6BE" stroke-width="0.4" stroke-linejoin="round"/>
<polygon points="199.9,727.5 207.3,725.0 214.7,725.0 220.0,723.8 220.0,729.9 214.7,731.8 207.3,732.4 201.2,731.2" fill="#F5E6BE" stroke="#F5E6BE" stroke-width="0.4" stroke-linejoin="round"/>
<polygon points="171.6,720.1 174.7,718.2 177.8,720.1 179.6,726.2 180.2,732.4 179.6,737.3 170.4,737.3 171.0,729.9" fill="#98BE32" stroke="#98BE32" stroke-width="0.4" stroke-linejoin="round"/>
<polygon points="172.9,729.9 175.9,728.1 178.4,730.6 179.0,737.3 172.2,737.3" fill="#BDEE68" stroke="#BDEE68" stroke-width="0.4" stroke-linejoin="round"/>
<polygon points="185.2,726.9 188.2,725.0 190.7,727.5 189.5,731.2 186.4,731.8" fill="#98BE32" stroke="#98BE32" stroke-width="0.4" stroke-linejoin="round"/>
<polygon points="190.1,711.5 195.0,710.6 198.7,711.2 198.1,712.5 191.9,712.7" fill="#98BE32" stroke="#98BE32" stroke-width="0.4" stroke-linejoin="round"/>
<polygon points="209.8,725.0 214.7,723.2 217.2,721.3 220.0,720.1 220.0,722.5 215.9,725.0 211.0,726.9" fill="#FFE100" stroke="#FFE100" stroke-width="0.4" stroke-linejoin="round"/>
<polygon points="131.0,731.2 134.7,730.9 137.2,733.6 138.1,737.3 131.0,737.3" fill="#BDEE68" stroke="#BDEE68" stroke-width="0.4" stroke-linejoin="round"/>
<polygon points="131.0,732.4 134.1,732.2 135.9,734.2 136.5,737.3 131.0,737.3" fill="#B0E0E6" stroke="#B0E0E6" stroke-width="0.4" stroke-linejoin="round"/>
<polygon points="211.8,688.0 220.0,686.9 220.0,700.4 219.0,700.4 211.8,701.0" fill="#F5E6BE" stroke="#F5E6BE" stroke-width="0.4" stroke-linejoin="round"/>
<polygon points="214.8,705.6 220.0,704.6 220.0,718.9 214.8,718.6 215.3,714.9" fill="#F5E6BE" stroke="#F5E6BE" stroke-width="0.4" stroke-linejoin="round"/>
<polygon points="192.5,718.9 198.3,718.9 208.7,718.2 214.8,718.6 220.0,718.9 220.0,737.3 192.5,737.3" fill="#F5E6BE" stroke="#F5E6BE" stroke-width="0.4" stroke-linejoin="round"/>
<polygon points="210.8,723.3 219.0,721.2 220.0,725.3 214.8,728.5" fill="#FFE100" stroke="#FFE100" stroke-width="0.4" stroke-linejoin="round"/>
<polygon points="199.9,727.5 204.9,726.2 209.8,727.5 207.3,731.2 202.4,731.8" fill="#DEB887" stroke="#DEB887" stroke-width="0.4" stroke-linejoin="round"/>
<polygon points="131.0,661.0 220.0,661.0 220.0,664.1 131.0,664.1" fill="#FFFFFF" stroke="#FFFFFF" stroke-width="0.4" stroke-linejoin="round"/>
</g>
<clipPath id="c33"><rect x="220" y="661" width="88" height="74"/></clipPath>
<g clip-path="url(#c33)">
<rect x="219.5" y="660.5" width="89" height="75" fill="#F5E6BE"/>
<polygon points="220.0,664.0 252.9,664.0 248.0,665.9 238.3,667.1 227.3,668.1 220.0,668.3" fill="#DEB887" stroke="#DEB887" stroke-width="0.4" stroke-linejoin="round"/>
<polygon points="256.5,677.4 263.8,675.0 273.6,673.8 285.7,673.2 297.9,673.2 308.0,672.9 308.0,680.5 300.3,682.3 293.0,684.1 285.7,685.3 279.6,683.5 273.6,681.7 266.3,681.1 260.2,679.9" fill="#DEB887" stroke="#DEB887" stroke-width="0.4" stroke-linejoin="round"/>
<polygon points="224.9,681.1 232.2,679.9 239.5,680.5 242.5,682.3 239.5,684.7 232.2,684.7 226.1,683.5" fill="#DEB887" stroke="#DEB887" stroke-width="0.4" stroke-linejoin="round"/>
<polygon points="220.0,718.2 227.3,717.0 235.8,715.8 243.1,717.0 244.3,720.6 239.5,724.3 234.6,729.2 232.2,736.5 220.0,736.5" fill="#DEB887" stroke="#DEB887" stroke-width="0.4" stroke-linejoin="round"/>
<polygon points="266.3,736.5 271.1,729.2 278.4,725.5 285.7,721.9 293.0,724.3 295.5,729.2 293.0,736.5" fill="#DEB887" stroke="#DEB887" stroke-width="0.4" stroke-linejoin="round"/>
<polygon points="220.0,697.5 224.9,696.9 228.5,698.1 227.3,699.9 220.0,700.6" fill="#DEB887" stroke="#DEB887" stroke-width="0.4" stroke-linejoin="round"/>
<polygon points="277.2,680.5 285.7,679.3 295.5,678.6 308.0,677.4 308.0,684.7 300.3,684.7 293.0,684.4 285.7,684.7 279.6,682.9" fill="#FFE100" stroke="#FFE100" stroke-width="0.4" stroke-linejoin="round"/>
<polygon points="220.0,673.2 227.3,672.2 237.0,672.2 244.3,672.9 246.2,674.4 241.9,676.8 234.6,678.0 227.3,677.8 220.0,676.8" fill="#98BE32" stroke="#98BE32" stroke-width="0.4" stroke-linejoin="round"/>
<polygon points="229.1,697.3 232.2,692.4 238.3,689.2 246.8,687.5 249.2,684.4 256.5,683.2 263.8,683.6 271.1,686.0 276.0,690.0 273.6,692.9 268.7,693.6 262.6,692.9 257.7,695.1 252.9,697.5 246.8,697.5 243.1,696.3 238.3,697.5 233.4,698.7" fill="#98BE32" stroke="#98BE32" stroke-width="0.4" stroke-linejoin="round"/>
<polygon points="233.4,703.6 235.8,699.9 240.7,698.1 244.3,697.5 243.7,701.2 240.7,705.4 237.0,709.1 232.2,713.3 229.1,713.9 230.3,710.3 234.0,707.3" fill="#98BE32" stroke="#98BE32" stroke-width="0.4" stroke-linejoin="round"/>
<polygon points="229.1,712.7 233.4,710.3 239.5,709.1 246.8,707.9 252.9,706.6 258.9,708.5 262.6,712.1 261.4,714.6 256.5,713.9 251.6,712.1 246.8,713.3 241.9,715.2 235.8,716.4 231.0,715.8" fill="#98BE32" stroke="#98BE32" stroke-width="0.4" stroke-linejoin="round"/>
<polygon points="246.2,698.7 251.6,697.5 260.2,698.1 266.3,700.6 268.7,703.0 268.1,706.6 263.8,709.1 258.9,708.5 254.1,706.6 249.2,707.3 246.8,704.8 245.6,701.8" fill="#98BE32" stroke="#98BE32" stroke-width="0.4" stroke-linejoin="round"/>
<polygon points="255.3,718.2 258.9,714.6 265.0,712.7 269.3,715.2 269.9,719.4 268.1,722.5 262.6,724.9 257.7,724.3 255.1,721.9" fill="#98BE32" stroke="#98BE32" stroke-width="0.4" stroke-linejoin="round"/>
<polygon points="268.7,703.0 274.8,704.8 283.3,706.6 290.6,704.8 297.9,702.4 305.2,700.2 308.0,699.7 308.0,717.2 304.6,718.2 300.3,714.8 295.5,712.4 290.6,713.6 285.7,716.4 280.9,719.2 276.0,721.6 272.3,722.1 270.5,719.4 273.6,716.4 278.4,713.9 283.3,712.1 285.7,709.7 280.9,708.5 274.8,707.9 269.9,706.6" fill="#98BE32" stroke="#98BE32" stroke-width="0.4" stroke-linejoin="round"/>
<polygon points="283.3,687.2 293.0,685.3 302.8,686.0 308.0,686.6 308.0,697.5 302.8,698.7 295.5,699.9 289.4,698.7 285.7,696.3 283.9,691.4" fill="#98BE32" stroke="#98BE32" stroke-width="0.4" stroke-linejoin="round"/>
<polygon points="271.7,697.5 274.8,696.9 277.2,698.7 275.4,700.2 272.6,699.7" fill="#98BE32" stroke="#98BE32" stroke-width="0.4" stroke-linejoin="round"/>
<polygon points="302.8,729.2 308.0,724.3 308.0,734.0 305.2,732.8" fill="#98BE32" stroke="#98BE32" stroke-width="0.4" stroke-linejoin="round"/>
<polygon points="285.7,687.2 293.0,686.3 300.3,686.6 302.8,688.4 301.5,691.4 297.9,692.9 293.0,693.3 289.4,695.7 286.3,694.5 285.1,690.8" fill="#BDEE68" stroke="#BDEE68" stroke-width="0.4" stroke-linejoin="round"/>
<polygon points="257.7,687.8 262.6,687.2 268.7,688.4 273.6,690.2 271.1,692.0 266.3,692.4 261.4,691.4 258.3,690.0" fill="#BDEE68" stroke="#BDEE68" stroke-width="0.4" stroke-linejoin="round"/>
<polygon points="246.2,692.9 251.6,691.7 258.9,692.4 262.6,693.6 260.2,695.7 254.1,696.5 249.2,696.3 246.8,694.8" fill="#BDEE68" stroke="#BDEE68" stroke-width="0.4" stroke-linejoin="round"/>
<polygon points="234.6,703.0 238.3,699.9 242.5,698.1 241.9,701.2 238.9,704.8 235.8,707.3 234.4,705.8" fill="#BDEE68" stroke="#BDEE68" stroke-width="0.4" stroke-linejoin="round"/>
<polygon points="247.8,694.1 251.6,692.9 256.5,693.6 257.7,695.1 254.1,696.3 249.8,696.3" fill="#20B2AA" stroke="#20B2AA" stroke-width="0.4" stroke-linejoin="round"/>
<polygon points="288.8,696.9 291.8,693.9 296.7,692.9 302.8,693.3 304.0,695.1 299.1,696.5 294.2,698.1 290.6,699.0" fill="#20B2AA" stroke="#20B2AA" stroke-width="0.4" stroke-linejoin="round"/>
<polygon points="235.6,703.0 238.3,700.9 240.1,701.8 238.3,704.2 236.4,705.4" fill="#20B2AA" stroke="#20B2AA" stroke-width="0.4" stroke-linejoin="round"/>
<polygon points="233.6,697.5 235.8,696.3 238.9,696.9 239.2,698.7 236.4,699.7 234.0,699.0" fill="#FFE100" stroke="#FFE100" stroke-width="0.4" stroke-linejoin="round"/>
<polygon points="220.0,721.9 221.8,721.2 222.4,724.3 221.2,726.7 220.0,726.1" fill="#FFE100" stroke="#FFE100" stroke-width="0.4" stroke-linejoin="round"/>
<polygon points="252.9,701.4 256.5,700.9 257.7,702.4 254.1,703.4" fill="#BDEE68" stroke="#BDEE68" stroke-width="0.4" stroke-linejoin="round"/>
<polygon points="221.2,729.8 222.7,729.2 223.0,732.2 221.5,732.8" fill="#BDEE68" stroke="#BDEE68" stroke-width="0.4" stroke-linejoin="round"/>
<polygon points="221.2,704.2 223.7,703.6 225.5,704.8 223.0,705.8" fill="#98BE32" stroke="#98BE32" stroke-width="0.4" stroke-linejoin="round"/>
<polygon points="220.0,661.0 308.0,661.0 308.0,664.0 220.0,664.0" fill="#FFFFFF" stroke="#FFFFFF" stroke-width="0.4" stroke-linejoin="round"/>
</g>
<clipPath id="c34"><rect x="308" y="661" width="89" height="74"/></clipPath>
<g clip-path="url(#c34)">
<rect x="307.5" y="660.5" width="90" height="75" fill="#F5E6BE"/>
<polygon points="328.9,664.1 397.0,664.1 397.0,669.6 386.8,670.2 376.9,669.6 367.1,670.8 357.2,672.7 349.9,672.1 342.5,671.5 335.1,670.8 332.6,667.2" fill="#DEB887" stroke="#DEB887" stroke-width="0.4" stroke-linejoin="round"/>
<polygon points="308.0,673.3 315.4,673.9 322.8,675.8 327.7,678.2 331.4,681.3 330.2,684.4 325.2,685.0 320.3,684.4 315.4,685.0 308.0,685.6" fill="#DEB887" stroke="#DEB887" stroke-width="0.4" stroke-linejoin="round"/>
<polygon points="344.9,712.7 349.9,710.2 354.8,711.5 357.2,713.9 359.7,711.5 363.4,712.7 362.2,717.6 359.7,720.1 357.2,722.5 354.8,718.9 349.9,717.6 346.2,715.8" fill="#DEB887" stroke="#DEB887" stroke-width="0.4" stroke-linejoin="round"/>
<polygon points="376.9,722.5 384.3,720.1 391.7,718.9 397.0,718.2 397.0,727.5 392.9,729.9 388.0,731.8 384.3,729.9 380.6,726.2" fill="#DEB887" stroke="#DEB887" stroke-width="0.4" stroke-linejoin="round"/>
<polygon points="359.1,667.2 364.6,665.3 374.5,664.4 386.8,664.1 397.0,664.1 397.0,668.4 386.8,669.0 374.5,669.0 364.6,668.6" fill="#FFE100" stroke="#FFE100" stroke-width="0.4" stroke-linejoin="round"/>
<polygon points="308.0,677.6 312.9,677.0 319.1,678.8 321.5,680.7 317.8,682.5 312.9,683.8 308.0,684.4" fill="#FFE100" stroke="#FFE100" stroke-width="0.4" stroke-linejoin="round"/>
<polygon points="360.9,681.3 365.9,679.7 372.0,680.4 373.9,682.5 369.5,684.4 364.0,684.4" fill="#FFE100" stroke="#FFE100" stroke-width="0.4" stroke-linejoin="round"/>
<polygon points="372.0,694.9 376.9,693.3 383.1,694.2 386.8,696.7 384.3,698.5 378.2,698.5 373.9,697.3" fill="#FFE100" stroke="#FFE100" stroke-width="0.4" stroke-linejoin="round"/>
<polygon points="390.5,675.2 397.0,673.3 397.0,679.5 392.9,678.8" fill="#FFE100" stroke="#FFE100" stroke-width="0.4" stroke-linejoin="round"/>
<polygon points="308.0,687.5 315.4,686.9 325.2,687.5 335.1,686.9 343.7,685.0 351.1,686.2 357.2,687.5 363.4,689.3 367.7,692.4 368.9,696.7 367.1,700.4 362.2,702.9 357.2,703.5 352.3,702.9 349.9,705.9 346.2,710.2 343.7,712.7 339.4,710.2 335.1,707.2 330.2,704.7 325.2,702.9 320.3,700.4 315.4,698.5 308.0,697.9" fill="#98BE32" stroke="#98BE32" stroke-width="0.4" stroke-linejoin="round"/>
<polygon points="308.0,697.9 315.4,698.5 320.3,701.0 325.2,704.1 330.2,709.0 333.9,712.7 333.2,718.9 332.6,725.0 334.5,729.9 336.1,737.3 308.0,737.3" fill="#98BE32" stroke="#98BE32" stroke-width="0.4" stroke-linejoin="round"/>
<polygon points="332.6,677.0 337.5,675.2 344.9,674.5 350.5,675.8 351.1,678.8 348.0,681.3 351.1,683.8 348.6,685.6 343.7,685.0 338.8,683.2 334.5,680.7" fill="#98BE32" stroke="#98BE32" stroke-width="0.4" stroke-linejoin="round"/>
<polygon points="368.3,699.2 372.0,701.6 376.9,703.5 381.9,705.9 386.8,708.4 391.7,712.1 394.2,715.8 392.9,717.6 388.0,715.8 383.1,713.3 378.2,710.9 373.2,709.0 369.5,706.5" fill="#98BE32" stroke="#98BE32" stroke-width="0.4" stroke-linejoin="round"/>
<polygon points="374.5,712.1 379.4,710.9 384.3,712.7 388.0,715.2 386.8,718.2 381.9,718.9 376.9,717.0 374.5,714.5" fill="#98BE32" stroke="#98BE32" stroke-width="0.4" stroke-linejoin="round"/>
<polygon points="378.8,688.7 383.1,687.5 386.8,689.3 386.2,692.4 381.9,693.3 379.2,691.2" fill="#98BE32" stroke="#98BE32" stroke-width="0.4" stroke-linejoin="round"/>
<polygon points="392.9,702.9 397.0,701.0 397.0,707.8 394.2,707.2" fill="#98BE32" stroke="#98BE32" stroke-width="0.4" stroke-linejoin="round"/>
<polygon points="386.8,737.3 389.2,731.2 394.2,728.7 397.0,728.1 397.0,737.3" fill="#98BE32" stroke="#98BE32" stroke-width="0.4" stroke-linejoin="round"/>
<polygon points="344.9,714.5 348.6,713.9 350.5,715.2 347.4,716.1" fill="#98BE32" stroke="#98BE32" stroke-width="0.4" stroke-linejoin="round"/>
<polygon points="308.0,707.8 311.7,707.5 313.5,710.2 311.7,712.7 308.0,712.7" fill="#F5E6BE" stroke="#F5E6BE" stroke-width="0.4" stroke-linejoin="round"/>
<polygon points="317.2,691.2 321.5,688.7 328.9,688.1 336.3,689.9 341.2,692.4 344.9,694.9 348.6,697.9 349.9,701.6 346.2,703.5 341.2,702.9 336.9,700.4 332.6,697.9 327.7,696.7 322.8,696.1 319.1,694.2" fill="#BDEE68" stroke="#BDEE68" stroke-width="0.4" stroke-linejoin="round"/>
<polygon points="352.9,690.5 357.2,689.3 362.2,690.5 366.5,693.0 367.7,696.7 369.5,700.4 365.9,702.2 362.2,700.4 358.5,697.9 354.8,694.9 352.6,692.4" fill="#BDEE68" stroke="#BDEE68" stroke-width="0.4" stroke-linejoin="round"/>
<polygon points="308.0,701.6 311.7,702.2 315.4,704.1 314.2,707.2 310.5,706.5 308.0,705.3" fill="#BDEE68" stroke="#BDEE68" stroke-width="0.4" stroke-linejoin="round"/>
<polygon points="321.5,699.2 326.5,698.5 330.2,700.4 330.8,703.5 327.7,704.7 323.4,702.9" fill="#BDEE68" stroke="#BDEE68" stroke-width="0.4" stroke-linejoin="round"/>
<polygon points="317.8,709.0 320.9,708.4 323.4,711.5 324.6,715.2 322.2,716.4 319.1,713.9" fill="#BDEE68" stroke="#BDEE68" stroke-width="0.4" stroke-linejoin="round"/>
<polygon points="327.1,728.1 329.5,726.9 331.4,729.3 329.5,731.2 327.4,730.2" fill="#BDEE68" stroke="#BDEE68" stroke-width="0.4" stroke-linejoin="round"/>
<polygon points="324.6,691.2 328.9,691.2 333.9,692.4 338.8,694.2 343.7,696.1 347.4,698.5 348.6,701.6 344.9,703.5 340.6,702.9 336.9,700.1 332.6,697.3 328.3,695.5 325.2,693.3" fill="#20B2AA" stroke="#20B2AA" stroke-width="0.4" stroke-linejoin="round"/>
<polygon points="308.0,693.3 311.7,692.8 313.5,694.5 311.7,696.1 308.0,696.1" fill="#20B2AA" stroke="#20B2AA" stroke-width="0.4" stroke-linejoin="round"/>
<polygon points="314.2,696.1 317.8,695.7 320.3,697.7 319.1,699.4 315.4,698.9" fill="#20B2AA" stroke="#20B2AA" stroke-width="0.4" stroke-linejoin="round"/>
<polygon points="361.5,697.3 364.0,696.1 366.1,697.7 364.6,699.8 362.2,699.4" fill="#20B2AA" stroke="#20B2AA" stroke-width="0.4" stroke-linejoin="round"/>
<polygon points="334.5,718.9 340.0,715.2 344.9,717.6 349.9,720.1 354.8,719.5 357.9,722.5 359.1,727.5 357.9,732.4 357.2,737.3 343.7,737.3 341.2,732.4 337.5,729.9 334.5,726.2" fill="#FFE100" stroke="#FFE100" stroke-width="0.4" stroke-linejoin="round"/>
<polygon points="359.7,712.7 363.4,710.2 368.3,711.5 370.8,715.2 374.5,718.9 379.4,721.3 384.3,723.8 385.6,728.1 383.1,731.8 378.2,733.6 372.0,734.2 365.9,733.6 363.4,729.9 363.4,725.0 362.8,720.1 360.3,717.0" fill="#FFE100" stroke="#FFE100" stroke-width="0.4" stroke-linejoin="round"/>
<polygon points="336.3,722.5 340.0,720.1 346.2,720.7 351.1,721.3 355.4,724.4 354.8,728.1 349.9,729.3 344.9,728.7 340.0,728.1 336.9,725.6" fill="#FFA500" stroke="#FFA500" stroke-width="0.4" stroke-linejoin="round"/>
<polygon points="367.1,727.5 369.5,720.7 372.0,722.5 375.1,726.2 380.6,728.7 376.9,729.9 370.8,730.2" fill="#FFA500" stroke="#FFA500" stroke-width="0.4" stroke-linejoin="round"/>
<polygon points="347.4,722.5 349.9,723.2 351.7,725.6 349.9,726.2 348.0,724.8" fill="#FF4500" stroke="#FF4500" stroke-width="0.4" stroke-linejoin="round"/>
<polygon points="340.6,723.8 343.1,723.2 344.9,725.0 343.1,727.5 341.0,726.2" fill="#FFE100" stroke="#FFE100" stroke-width="0.4" stroke-linejoin="round"/>
<polygon points="308.0,661.0 397.0,661.0 397.0,664.1 308.0,664.1" fill="#FFFFFF" stroke="#FFFFFF" stroke-width="0.4" stroke-linejoin="round"/>
</g>
<clipPath id="c35"><rect x="397" y="661" width="88" height="74"/></clipPath>
<g clip-path="url(#c35)">
<rect x="396.5" y="660.5" width="89" height="75" fill="#F5E6BE"/>
<polygon points="397.0,664.0 485.0,664.0 485.0,679.3 481.0,678.6 477.3,675.6 472.5,673.2 465.2,672.0 457.9,671.3 450.6,671.3 448.1,674.4 449.3,678.0 446.9,679.3 443.9,677.4 442.6,673.8 438.4,672.6 431.1,672.6 423.8,673.2 416.5,673.2 409.2,672.6 401.9,670.7 397.0,669.5" fill="#FFE100" stroke="#FFE100" stroke-width="0.4" stroke-linejoin="round"/>
<polygon points="471.2,666.5 476.1,664.7 485.0,664.0 485.0,672.0 481.0,670.1 476.1,668.3" fill="#FFA500" stroke="#FFA500" stroke-width="0.4" stroke-linejoin="round"/>
<polygon points="428.6,674.4 433.5,673.2 440.8,673.2 443.3,676.8 445.7,679.3 450.6,679.3 454.2,676.8 454.2,673.2 450.6,672.0 455.4,672.0 457.9,674.4 455.4,679.3 451.8,682.3 445.7,683.5 439.6,682.9 435.9,680.5 432.3,677.4" fill="#DEB887" stroke="#DEB887" stroke-width="0.4" stroke-linejoin="round"/>
<polygon points="420.7,686.6 427.4,685.3 433.5,686.6 437.2,689.6 433.5,691.4 428.6,690.8 425.0,693.3 422.0,691.4" fill="#DEB887" stroke="#DEB887" stroke-width="0.4" stroke-linejoin="round"/>
<polygon points="397.0,673.2 401.9,672.6 408.0,674.4 412.8,676.8 409.2,678.0 403.1,676.8 397.0,676.2" fill="#DEB887" stroke="#DEB887" stroke-width="0.4" stroke-linejoin="round"/>
<polygon points="462.7,682.3 470.0,679.3 477.3,679.3 482.2,681.7 482.2,685.3 477.3,687.2 472.5,688.4 467.6,690.8 468.8,694.5 465.2,696.3 460.3,695.7 455.4,697.5 450.6,700.6 446.9,698.7 450.6,696.3 455.4,694.5 454.2,691.4 457.9,688.4 461.5,685.3" fill="#DEB887" stroke="#DEB887" stroke-width="0.4" stroke-linejoin="round"/>
<polygon points="414.0,715.8 417.1,710.9 421.3,707.9 428.6,707.0 434.7,709.1 437.2,713.3 435.3,718.2 431.1,721.2 425.0,722.5 418.9,721.9 415.3,719.4" fill="#DEB887" stroke="#DEB887" stroke-width="0.4" stroke-linejoin="round"/>
<polygon points="425.0,712.1 428.6,710.7 431.7,712.7 430.5,716.4 426.8,717.2 424.8,715.2" fill="#F5E6BE" stroke="#F5E6BE" stroke-width="0.4" stroke-linejoin="round"/>
<polygon points="444.5,712.1 448.1,710.9 451.2,712.7 449.9,717.0 446.9,718.0 444.7,715.8" fill="#DEB887" stroke="#DEB887" stroke-width="0.4" stroke-linejoin="round"/>
<polygon points="439.0,721.9 443.3,720.9 445.1,723.1 442.6,725.3 439.6,724.5" fill="#DEB887" stroke="#DEB887" stroke-width="0.4" stroke-linejoin="round"/>
<polygon points="418.3,728.6 423.8,727.7 431.1,727.3 435.3,729.2 434.7,732.2 429.9,732.8 423.8,731.0 418.9,730.4" fill="#DEB887" stroke="#DEB887" stroke-width="0.4" stroke-linejoin="round"/>
<polygon points="401.9,718.2 406.7,717.2 409.8,719.4 408.0,721.9 403.1,721.2" fill="#DEB887" stroke="#DEB887" stroke-width="0.4" stroke-linejoin="round"/>
<polygon points="410.4,678.6 415.3,679.3 420.1,682.9 424.4,687.8 426.2,692.6 424.4,696.3 419.5,697.3 415.3,695.1 414.0,690.2 413.4,684.7" fill="#FFE100" stroke="#FFE100" stroke-width="0.4" stroke-linejoin="round"/>
<polygon points="431.7,697.5 433.5,692.6 437.2,689.6 443.3,690.2 445.7,692.0 442.0,695.1 438.4,697.5 434.7,699.3" fill="#FFE100" stroke="#FFE100" stroke-width="0.4" stroke-linejoin="round"/>
<polygon points="397.0,686.0 400.0,685.3 402.5,689.0 401.9,693.9 403.1,697.5 400.7,699.9 397.0,698.7" fill="#FFE100" stroke="#FFE100" stroke-width="0.4" stroke-linejoin="round"/>
<polygon points="460.3,686.0 465.2,682.9 471.2,680.5 476.1,680.5 477.9,682.9 474.9,685.3 468.8,687.2 463.3,688.4" fill="#FFE100" stroke="#FFE100" stroke-width="0.4" stroke-linejoin="round"/>
<polygon points="417.1,715.2 420.7,714.6 421.3,718.0 418.3,718.8" fill="#FFE100" stroke="#FFE100" stroke-width="0.4" stroke-linejoin="round"/>
<polygon points="427.4,717.2 431.7,716.4 433.5,718.4 431.1,720.4 428.0,719.7" fill="#FFE100" stroke="#FFE100" stroke-width="0.4" stroke-linejoin="round"/>
<polygon points="473.1,719.4 477.3,717.0 482.2,715.2 485.0,714.6 485.0,736.5 472.5,736.5 474.9,730.4 477.3,726.7 474.9,723.7" fill="#FFE100" stroke="#FFE100" stroke-width="0.4" stroke-linejoin="round"/>
<polygon points="415.3,685.3 418.9,684.7 422.6,688.4 423.2,693.3 420.7,696.3 417.1,695.7 415.5,691.4" fill="#FFA500" stroke="#FFA500" stroke-width="0.4" stroke-linejoin="round"/>
<polygon points="434.7,692.9 437.8,691.2 440.2,692.4 439.0,695.1 435.9,696.1" fill="#FFA500" stroke="#FFA500" stroke-width="0.4" stroke-linejoin="round"/>
<polygon points="417.7,689.6 419.5,689.0 420.7,692.0 419.5,693.9 417.9,692.4" fill="#FF4500" stroke="#FF4500" stroke-width="0.4" stroke-linejoin="round"/>
<polygon points="435.9,693.3 437.8,692.6 438.4,694.1 436.9,695.1" fill="#FF4500" stroke="#FF4500" stroke-width="0.4" stroke-linejoin="round"/>
<polygon points="420.1,679.9 424.4,679.0 428.6,680.5 427.4,682.7 423.2,682.9 420.4,681.7" fill="#98BE32" stroke="#98BE32" stroke-width="0.4" stroke-linejoin="round"/>
<polygon points="405.5,685.3 408.6,683.5 411.6,686.6 412.2,692.6 410.4,697.5 408.0,698.7 406.1,695.1 405.3,690.2" fill="#98BE32" stroke="#98BE32" stroke-width="0.4" stroke-linejoin="round"/>
<polygon points="439.0,687.2 445.7,685.3 451.8,683.5 457.9,681.1 461.5,678.0 466.4,675.0 471.2,674.6 473.1,676.8 468.8,679.3 463.9,681.1 460.3,684.1 455.4,687.2 449.3,689.0 443.3,689.6 439.6,688.8" fill="#98BE32" stroke="#98BE32" stroke-width="0.4" stroke-linejoin="round"/>
<polygon points="455.4,690.8 460.3,690.0 465.8,690.5 467.6,692.4 465.2,694.1 459.7,694.6 456.4,693.3" fill="#98BE32" stroke="#98BE32" stroke-width="0.4" stroke-linejoin="round"/>
<polygon points="439.0,698.1 442.0,694.5 445.7,692.4 450.6,692.6 454.2,695.1 453.6,698.1 449.3,700.6 444.5,701.2 440.8,700.2" fill="#98BE32" stroke="#98BE32" stroke-width="0.4" stroke-linejoin="round"/>
<polygon points="441.1,697.5 443.9,694.5 448.1,693.6 451.8,695.7 450.6,698.7 446.3,699.9 442.6,699.3" fill="#BDEE68" stroke="#BDEE68" stroke-width="0.4" stroke-linejoin="round"/>
<polygon points="443.9,696.3 446.3,694.1 449.3,694.5 450.3,696.5 448.1,698.1 445.1,698.1" fill="#20B2AA" stroke="#20B2AA" stroke-width="0.4" stroke-linejoin="round"/>
<polygon points="418.3,701.8 423.8,700.6 431.1,702.4 437.2,704.2 438.4,706.0 433.5,706.6 426.2,705.4 420.1,703.6" fill="#98BE32" stroke="#98BE32" stroke-width="0.4" stroke-linejoin="round"/>
<polygon points="458.5,703.0 462.7,699.9 468.8,698.1 473.7,698.1 474.9,699.9 471.2,703.0 466.4,705.4 461.5,706.0 458.8,704.8" fill="#98BE32" stroke="#98BE32" stroke-width="0.4" stroke-linejoin="round"/>
<polygon points="473.7,690.8 478.5,688.4 485.0,687.2 485.0,696.3 481.0,697.5 477.3,695.7 474.9,693.6" fill="#98BE32" stroke="#98BE32" stroke-width="0.4" stroke-linejoin="round"/>
<polygon points="477.3,691.4 482.2,690.2 485.0,690.2 485.0,693.9 481.0,694.5 477.9,693.6" fill="#BDEE68" stroke="#BDEE68" stroke-width="0.4" stroke-linejoin="round"/>
<polygon points="397.0,702.4 401.9,701.8 408.0,704.2 412.8,706.6 415.3,709.1 411.6,710.9 405.5,710.3 400.7,709.7 397.0,709.1" fill="#98BE32" stroke="#98BE32" stroke-width="0.4" stroke-linejoin="round"/>
<polygon points="398.2,704.8 403.1,704.6 409.2,706.6 410.4,708.5 405.5,709.1 399.4,708.5" fill="#BDEE68" stroke="#BDEE68" stroke-width="0.4" stroke-linejoin="round"/>
<polygon points="439.0,707.3 442.0,706.6 445.1,708.2 442.0,709.1" fill="#98BE32" stroke="#98BE32" stroke-width="0.4" stroke-linejoin="round"/>
<polygon points="448.1,707.9 451.8,707.3 454.2,708.7 450.6,709.2" fill="#98BE32" stroke="#98BE32" stroke-width="0.4" stroke-linejoin="round"/>
<polygon points="456.0,717.0 459.1,715.2 462.7,717.0 466.4,716.4 470.0,712.7 474.9,709.7 481.0,707.9 485.0,707.9 485.0,713.3 481.0,714.6 476.1,715.8 472.5,718.2 470.0,721.9 470.6,726.7 468.8,731.6 465.2,734.0 460.3,736.5 454.2,736.5 452.4,729.2 450.6,726.1 454.2,724.9 457.9,726.7 461.5,726.1 462.7,723.1 460.3,720.0 456.6,719.4" fill="#98BE32" stroke="#98BE32" stroke-width="0.4" stroke-linejoin="round"/>
<polygon points="471.2,711.5 477.3,709.7 482.2,709.7 481.0,712.1 474.9,713.3" fill="#BDEE68" stroke="#BDEE68" stroke-width="0.4" stroke-linejoin="round"/>
<polygon points="397.0,727.3 401.9,726.7 405.5,728.6 404.3,732.2 400.7,734.0 397.0,734.0" fill="#98BE32" stroke="#98BE32" stroke-width="0.4" stroke-linejoin="round"/>
<polygon points="409.8,724.9 414.0,724.0 417.1,725.5 415.3,727.3 411.0,727.0" fill="#98BE32" stroke="#98BE32" stroke-width="0.4" stroke-linejoin="round"/>
<polygon points="397.6,721.2 401.3,720.9 403.1,723.1 400.7,724.3 398.0,723.3" fill="#98BE32" stroke="#98BE32" stroke-width="0.4" stroke-linejoin="round"/>
<polygon points="463.3,677.4 467.6,675.6 471.2,675.6 470.0,678.0 465.8,679.3" fill="#BDEE68" stroke="#BDEE68" stroke-width="0.4" stroke-linejoin="round"/>
<polygon points="397.0,661.0 485.0,661.0 485.0,664.0 397.0,664.0" fill="#FFFFFF" stroke="#FFFFFF" stroke-width="0.4" stroke-linejoin="round"/>
</g>
<clipPath id="c36"><rect x="43" y="735" width="88" height="74"/></clipPath>
<g clip-path="url(#c36)">
<rect x="42.5" y="734.5" width="89" height="75" fill="#F5E6BE"/>
<polygon points="43.0,735.0 96.6,735.0 94.1,738.7 91.7,742.3 89.3,745.3 84.4,747.2 77.1,747.8 67.3,748.1 57.6,748.4 50.3,747.8 43.0,746.6" fill="#DEB887" stroke="#DEB887" stroke-width="0.4" stroke-linejoin="round"/>
<polygon points="45.4,739.9 50.3,738.7 61.3,738.4 71.0,738.7 72.2,735.0 92.9,735.0 91.7,738.0 86.8,740.5 85.6,744.7 79.5,746.0 72.2,745.7 62.5,747.2 55.2,747.8 49.1,746.6 46.0,743.5" fill="#FFE100" stroke="#FFE100" stroke-width="0.4" stroke-linejoin="round"/>
<polygon points="43.0,747.8 47.9,748.4 55.2,749.4 62.5,749.8 69.8,750.2 73.4,752.6 71.0,756.3 66.1,759.3 62.5,761.8 58.8,759.3 54.0,757.5 49.1,757.5 43.0,761.2" fill="#98BE32" stroke="#98BE32" stroke-width="0.4" stroke-linejoin="round"/>
<polygon points="43.0,750.8 47.9,750.2 55.2,751.4 63.7,752.0 70.4,752.6 69.2,755.1 63.7,756.9 57.6,756.9 51.5,755.9 46.7,756.3 43.0,756.9" fill="#BDEE68" stroke="#BDEE68" stroke-width="0.4" stroke-linejoin="round"/>
<polygon points="58.2,753.3 62.5,752.0 67.3,752.0 69.8,753.3 67.3,755.7 63.1,756.9 59.4,756.3" fill="#20B2AA" stroke="#20B2AA" stroke-width="0.4" stroke-linejoin="round"/>
<polygon points="43.0,752.6 45.4,752.3 46.7,754.2 44.2,755.7 43.0,755.7" fill="#20B2AA" stroke="#20B2AA" stroke-width="0.4" stroke-linejoin="round"/>
<polygon points="91.7,743.5 96.6,741.7 100.2,737.4 103.9,735.0 111.2,735.0 114.8,738.7 116.0,743.5 113.6,747.2 109.9,750.8 103.9,753.3 99.0,754.5 96.6,752.0 95.3,747.2" fill="#98BE32" stroke="#98BE32" stroke-width="0.4" stroke-linejoin="round"/>
<polygon points="97.2,743.5 100.2,739.9 103.9,738.0 108.7,739.9 111.2,742.9 109.3,747.2 105.1,750.2 100.2,752.0 97.8,749.6" fill="#BDEE68" stroke="#BDEE68" stroke-width="0.4" stroke-linejoin="round"/>
<polygon points="98.4,748.4 100.2,745.3 103.9,743.3 108.7,742.9 110.6,744.7 108.7,747.8 104.5,750.2 100.2,752.0 98.4,750.8" fill="#20B2AA" stroke="#20B2AA" stroke-width="0.4" stroke-linejoin="round"/>
<polygon points="107.5,735.0 131.0,735.0 131.0,746.6 128.2,744.7 123.3,741.7 116.0,739.9 111.2,738.0" fill="#98BE32" stroke="#98BE32" stroke-width="0.4" stroke-linejoin="round"/>
<polygon points="111.2,735.0 131.0,735.0 131.0,742.3 125.8,740.5 118.5,738.7" fill="#BDEE68" stroke="#BDEE68" stroke-width="0.4" stroke-linejoin="round"/>
<polygon points="114.8,735.0 131.0,735.0 131.0,739.9 125.8,739.3 119.7,738.4 116.0,736.8" fill="#20B2AA" stroke="#20B2AA" stroke-width="0.4" stroke-linejoin="round"/>
<polygon points="127.0,735.0 131.0,735.0 131.0,737.7 128.2,737.2" fill="#B0E0E6" stroke="#B0E0E6" stroke-width="0.4" stroke-linejoin="round"/>
<polygon points="51.5,761.2 56.4,759.3 61.3,761.2 63.1,765.4 65.5,770.3 69.2,775.2 73.4,777.0 77.1,773.9 79.5,770.3 83.2,771.5 84.4,776.4 88.0,781.3 91.7,783.7 92.9,788.6 90.5,792.2 85.6,793.4 83.2,798.3 80.7,803.2 78.3,808.0 75.9,810.5 62.5,810.5 61.3,803.2 58.8,798.3 55.2,795.9 54.6,791.0 57.6,786.1 58.8,781.3 56.4,776.4 54.0,771.5 52.1,766.6" fill="#DEB887" stroke="#DEB887" stroke-width="0.4" stroke-linejoin="round"/>
<polygon points="71.0,756.9 74.6,755.1 77.7,757.5 75.9,761.2 72.2,761.8" fill="#DEB887" stroke="#DEB887" stroke-width="0.4" stroke-linejoin="round"/>
<polygon points="55.2,762.4 57.6,761.8 58.2,764.8 56.1,765.7" fill="#FFE100" stroke="#FFE100" stroke-width="0.4" stroke-linejoin="round"/>
<polygon points="56.4,768.5 59.4,767.9 61.9,771.5 61.3,775.8 58.8,776.1 57.0,772.7" fill="#FFE100" stroke="#FFE100" stroke-width="0.4" stroke-linejoin="round"/>
<polygon points="58.8,786.1 62.5,780.0 65.5,779.1 69.8,783.1 73.4,786.7 72.2,789.8 67.3,791.0 62.5,792.8 59.4,792.2" fill="#FFE100" stroke="#FFE100" stroke-width="0.4" stroke-linejoin="round"/>
<polygon points="73.4,777.0 76.5,775.8 78.9,778.2 78.3,781.9 74.6,782.5 73.2,780.0" fill="#FFE100" stroke="#FFE100" stroke-width="0.4" stroke-linejoin="round"/>
<polygon points="61.3,797.1 64.3,795.9 65.5,800.7 66.1,805.6 64.9,810.5 62.5,810.5 61.9,803.2" fill="#FFE100" stroke="#FFE100" stroke-width="0.4" stroke-linejoin="round"/>
<polygon points="74.9,797.1 78.3,795.9 81.3,797.7 80.7,803.2 78.9,806.2 76.5,804.4" fill="#FFE100" stroke="#FFE100" stroke-width="0.4" stroke-linejoin="round"/>
<polygon points="86.8,786.7 88.6,786.1 89.5,787.9 87.8,788.8" fill="#FFE100" stroke="#FFE100" stroke-width="0.4" stroke-linejoin="round"/>
<polygon points="83.2,756.3 86.8,753.9 91.7,754.2 94.7,757.5 96.6,763.0 95.3,766.6 91.7,768.5 89.3,771.5 86.8,775.2 84.4,776.4 81.9,773.9 81.3,770.3 84.4,767.9 85.0,763.0 83.8,759.3" fill="#FFE100" stroke="#FFE100" stroke-width="0.4" stroke-linejoin="round"/>
<polygon points="86.8,758.7 89.3,756.7 92.3,758.1 92.7,761.8 90.5,764.2 87.8,763.6" fill="#FFA500" stroke="#FFA500" stroke-width="0.4" stroke-linejoin="round"/>
<polygon points="65.5,766.6 69.2,764.2 72.2,766.0 72.8,770.9 71.6,774.6 68.0,775.2 65.5,772.1" fill="#98BE32" stroke="#98BE32" stroke-width="0.4" stroke-linejoin="round"/>
<polygon points="78.9,750.8 81.9,749.0 85.6,749.6 85.0,753.3 81.9,755.1 79.5,753.3" fill="#98BE32" stroke="#98BE32" stroke-width="0.4" stroke-linejoin="round"/>
<polygon points="79.5,759.3 81.9,758.1 83.8,761.2 82.6,764.8 80.1,764.2" fill="#98BE32" stroke="#98BE32" stroke-width="0.4" stroke-linejoin="round"/>
<polygon points="47.3,770.3 50.3,767.9 53.3,769.7 54.0,773.9 51.5,775.8 48.5,774.6" fill="#98BE32" stroke="#98BE32" stroke-width="0.4" stroke-linejoin="round"/>
<polygon points="116.0,752.0 120.9,750.8 128.2,753.3 131.0,754.5 131.0,759.3 127.0,758.7 122.1,756.9 117.9,755.1" fill="#98BE32" stroke="#98BE32" stroke-width="0.4" stroke-linejoin="round"/>
<polygon points="114.8,761.2 118.5,760.6 125.8,764.2 131.0,767.3 131.0,771.5 127.0,770.9 122.1,767.9 117.2,764.8" fill="#98BE32" stroke="#98BE32" stroke-width="0.4" stroke-linejoin="round"/>
<polygon points="113.6,773.3 117.2,772.1 122.1,774.6 123.3,777.6 119.7,779.4 116.0,777.6" fill="#98BE32" stroke="#98BE32" stroke-width="0.4" stroke-linejoin="round"/>
<polygon points="104.5,769.1 108.7,767.9 112.4,769.7 109.9,771.5 105.7,771.3" fill="#98BE32" stroke="#98BE32" stroke-width="0.4" stroke-linejoin="round"/>
<polygon points="106.3,753.3 109.9,752.0 113.6,754.5 114.2,758.7 111.2,762.4 107.5,761.2 106.3,756.9" fill="#98BE32" stroke="#98BE32" stroke-width="0.4" stroke-linejoin="round"/>
<polygon points="91.7,771.5 95.3,769.1 99.0,769.7 101.4,772.7 100.2,777.0 97.8,780.0 96.6,783.7 97.8,787.3 101.4,788.6 100.2,792.2 96.6,794.0 94.1,792.2 92.9,787.3 91.1,783.1 86.8,780.6 87.4,778.2 90.5,777.6" fill="#98BE32" stroke="#98BE32" stroke-width="0.4" stroke-linejoin="round"/>
<polygon points="101.4,782.5 106.3,777.6 111.2,778.2 116.0,781.9 122.1,786.1 128.2,788.6 131.0,789.2 131.0,810.5 120.9,810.5 116.0,805.6 111.2,806.2 106.3,805.0 101.4,806.2 99.0,804.4 102.6,800.7 106.3,797.1 107.5,792.2 105.1,788.6 102.0,786.1" fill="#98BE32" stroke="#98BE32" stroke-width="0.4" stroke-linejoin="round"/>
<polygon points="120.9,794.6 127.0,794.0 130.0,795.9 127.0,797.1 122.1,796.5" fill="#F5E6BE" stroke="#F5E6BE" stroke-width="0.4" stroke-linejoin="round"/>
<polygon points="120.9,803.8 125.8,802.6 129.4,804.4 127.0,806.8 122.1,806.2" fill="#F5E6BE" stroke="#F5E6BE" stroke-width="0.4" stroke-linejoin="round"/>
<polygon points="127.0,778.8 131.0,778.2 131.0,781.3 128.2,781.0" fill="#F5E6BE" stroke="#F5E6BE" stroke-width="0.4" stroke-linejoin="round"/>
<polygon points="96.6,792.2 100.2,789.2 103.9,788.6 104.5,792.2 102.6,798.3 100.2,803.2 97.2,801.9 95.9,797.1" fill="#DEB887" stroke="#DEB887" stroke-width="0.4" stroke-linejoin="round"/>
<polygon points="97.2,793.4 99.6,791.6 102.0,792.2 101.4,795.9 99.6,798.9 97.5,797.7" fill="#FFE100" stroke="#FFE100" stroke-width="0.4" stroke-linejoin="round"/>
<polygon points="85.0,800.7 89.3,794.6 92.9,793.4 94.1,797.1 91.7,801.9 89.3,806.8 88.0,810.5 83.8,810.5" fill="#98BE32" stroke="#98BE32" stroke-width="0.4" stroke-linejoin="round"/>
<polygon points="43.0,791.0 46.7,790.4 49.7,793.4 51.5,799.5 50.3,804.4 54.0,806.8 55.2,810.5 43.0,810.5" fill="#98BE32" stroke="#98BE32" stroke-width="0.4" stroke-linejoin="round"/>
<polygon points="68.0,803.2 71.0,801.7 72.8,804.4 71.6,808.0 69.2,808.6" fill="#98BE32" stroke="#98BE32" stroke-width="0.4" stroke-linejoin="round"/>
<polygon points="55.8,797.1 57.6,796.5 58.2,800.7 56.6,801.9" fill="#BDEE68" stroke="#BDEE68" stroke-width="0.4" stroke-linejoin="round"/>
<polygon points="52.5,782.5 54.6,781.9 55.2,783.9 53.3,784.7" fill="#98BE32" stroke="#98BE32" stroke-width="0.4" stroke-linejoin="round"/>
</g>
<clipPath id="c37"><rect x="131" y="735" width="89" height="74"/></clipPath>
<g clip-path="url(#c37)">
<rect x="130.5" y="734.5" width="90" height="75" fill="#F5E6BE"/>
<polygon points="153.2,741.8 163.0,741.2 167.9,738.7 171.6,735.0 174.1,735.0 172.9,739.9 169.2,743.6 164.2,747.3 160.5,749.8 158.1,747.9 155.6,744.2" fill="#DEB887" stroke="#DEB887" stroke-width="0.4" stroke-linejoin="round"/>
<polygon points="138.4,735.0 170.4,735.0 167.9,738.1 163.0,740.5 155.6,741.8 148.2,740.5 142.1,738.1" fill="#FFE100" stroke="#FFE100" stroke-width="0.4" stroke-linejoin="round"/>
<polygon points="131.0,735.0 138.4,735.0 139.6,738.7 135.9,741.2 131.0,741.8" fill="#BDEE68" stroke="#BDEE68" stroke-width="0.4" stroke-linejoin="round"/>
<polygon points="131.0,735.0 135.9,735.0 136.5,738.1 133.5,739.3 131.0,739.3" fill="#B0E0E6" stroke="#B0E0E6" stroke-width="0.4" stroke-linejoin="round"/>
<polygon points="132.8,743.0 137.2,742.4 140.8,744.8 138.4,746.7 134.7,746.1" fill="#FFE100" stroke="#FFE100" stroke-width="0.4" stroke-linejoin="round"/>
<polygon points="159.3,735.0 161.8,735.0 160.5,736.8" fill="#FFA500" stroke="#FFA500" stroke-width="0.4" stroke-linejoin="round"/>
<polygon points="139.6,739.3 144.5,740.5 147.0,743.0 143.3,744.2 140.2,742.4" fill="#98BE32" stroke="#98BE32" stroke-width="0.4" stroke-linejoin="round"/>
<polygon points="175.3,738.7 179.0,736.2 183.9,736.8 186.4,739.9 185.2,743.0 181.5,744.2 177.8,743.0" fill="#DEB887" stroke="#DEB887" stroke-width="0.4" stroke-linejoin="round"/>
<polygon points="178.4,738.7 181.5,737.2 183.9,739.3 182.7,742.1 179.6,742.4" fill="#FFE100" stroke="#FFE100" stroke-width="0.4" stroke-linejoin="round"/>
<polygon points="179.6,768.9 183.9,765.8 188.2,765.2 189.5,768.2 188.2,771.9 185.2,775.6 181.5,775.6 179.6,772.5" fill="#DEB887" stroke="#DEB887" stroke-width="0.4" stroke-linejoin="round"/>
<polygon points="164.9,766.4 167.9,765.8 171.0,770.1 170.4,771.9 167.3,770.1" fill="#DEB887" stroke="#DEB887" stroke-width="0.4" stroke-linejoin="round"/>
<polygon points="193.2,758.4 196.2,757.2 198.5,760.9 197.5,763.9 194.4,763.3" fill="#DEB887" stroke="#DEB887" stroke-width="0.4" stroke-linejoin="round"/>
<polygon points="204.9,771.9 211.0,771.3 217.2,773.2 220.0,774.4 220.0,781.8 215.9,782.4 211.0,779.3 206.1,775.6" fill="#DEB887" stroke="#DEB887" stroke-width="0.4" stroke-linejoin="round"/>
<polygon points="213.5,779.9 215.9,779.6 216.2,781.2 214.1,781.5" fill="#FFE100" stroke="#FFE100" stroke-width="0.4" stroke-linejoin="round"/>
<polygon points="141.5,751.6 145.8,748.5 150.7,746.7 153.8,749.8 156.9,753.5 159.9,754.7 161.2,757.8 158.7,761.5 155.6,762.7 154.4,767.0 157.5,771.9 161.8,775.6 165.5,779.3 166.1,782.4 163.0,783.0 158.7,780.5 155.6,776.9 154.4,771.9 153.8,767.0 151.9,764.5 148.2,763.9 145.2,761.5 142.7,757.8" fill="#98BE32" stroke="#98BE32" stroke-width="0.4" stroke-linejoin="round"/>
<polygon points="147.6,755.3 150.7,754.7 152.5,757.8 151.3,761.5 148.8,762.1 147.2,759.0" fill="#F5E6BE" stroke="#F5E6BE" stroke-width="0.4" stroke-linejoin="round"/>
<polygon points="131.0,756.5 134.1,757.8 135.3,761.5 133.5,763.9 131.0,762.7" fill="#98BE32" stroke="#98BE32" stroke-width="0.4" stroke-linejoin="round"/>
<polygon points="134.1,765.8 138.4,764.5 141.5,767.6 141.5,771.3 138.4,773.2 135.3,771.9 133.7,768.9" fill="#98BE32" stroke="#98BE32" stroke-width="0.4" stroke-linejoin="round"/>
<polygon points="142.1,771.9 147.0,770.7 151.9,771.9 153.2,775.0 149.5,776.9 144.5,776.2" fill="#98BE32" stroke="#98BE32" stroke-width="0.4" stroke-linejoin="round"/>
<polygon points="131.0,776.2 135.9,774.4 139.6,775.6 140.2,780.5 138.4,783.0 133.5,781.8 131.0,779.9" fill="#98BE32" stroke="#98BE32" stroke-width="0.4" stroke-linejoin="round"/>
<polygon points="131.0,787.9 135.9,785.5 142.1,783.6 148.2,782.4 154.4,782.4 156.2,784.2 153.2,786.1 149.5,786.7 147.0,790.4 149.5,794.1 152.5,796.5 150.7,800.2 148.2,803.9 149.5,811.3 134.7,811.3 133.5,803.9 131.0,802.7" fill="#98BE32" stroke="#98BE32" stroke-width="0.4" stroke-linejoin="round"/>
<polygon points="151.3,801.5 155.6,799.0 159.9,800.9 161.2,803.9 158.7,806.4 154.4,807.0 151.7,805.2" fill="#98BE32" stroke="#98BE32" stroke-width="0.4" stroke-linejoin="round"/>
<polygon points="164.2,783.6 167.9,781.8 172.9,783.0 176.5,785.5 175.9,787.9 171.6,788.5 167.3,787.3 164.9,785.5" fill="#98BE32" stroke="#98BE32" stroke-width="0.4" stroke-linejoin="round"/>
<polygon points="169.2,746.1 172.9,744.8 175.9,746.7 175.3,749.8 172.2,751.0 169.4,749.2" fill="#98BE32" stroke="#98BE32" stroke-width="0.4" stroke-linejoin="round"/>
<polygon points="173.5,763.9 177.2,761.5 180.2,762.7 179.6,767.0 177.8,770.7 177.2,774.4 174.1,773.2 173.1,768.2" fill="#98BE32" stroke="#98BE32" stroke-width="0.4" stroke-linejoin="round"/>
<polygon points="179.0,758.4 182.7,755.3 185.8,757.2 185.2,761.5 181.5,762.7 179.3,760.9" fill="#98BE32" stroke="#98BE32" stroke-width="0.4" stroke-linejoin="round"/>
<polygon points="178.4,779.3 182.7,778.7 185.8,780.5 183.9,782.4 179.6,781.8" fill="#98BE32" stroke="#98BE32" stroke-width="0.4" stroke-linejoin="round"/>
<polygon points="196.2,735.6 199.9,735.0 203.6,736.8 202.4,741.8 199.3,744.8 196.2,743.0" fill="#98BE32" stroke="#98BE32" stroke-width="0.4" stroke-linejoin="round"/>
<polygon points="207.3,736.2 211.0,735.0 214.7,735.0 212.2,739.3 209.2,741.2 207.3,739.3" fill="#98BE32" stroke="#98BE32" stroke-width="0.4" stroke-linejoin="round"/>
<polygon points="206.7,745.5 209.8,744.2 211.6,746.1 209.8,747.9 207.3,747.3" fill="#98BE32" stroke="#98BE32" stroke-width="0.4" stroke-linejoin="round"/>
<polygon points="192.5,783.6 196.2,781.2 199.9,782.4 198.1,784.9 194.4,785.2" fill="#98BE32" stroke="#98BE32" stroke-width="0.4" stroke-linejoin="round"/>
<polygon points="175.9,789.8 181.5,787.9 186.4,786.1 191.3,784.9 194.4,786.7 193.8,790.4 191.3,794.1 188.9,796.5 192.5,799.0 197.5,801.5 202.4,802.1 207.3,801.5 209.8,799.0 207.3,795.3 204.9,792.2 203.6,789.2 207.3,786.7 212.2,784.2 217.2,783.6 220.0,784.2 220.0,789.2 217.2,790.4 214.7,792.9 217.2,796.5 220.0,799.0 220.0,803.9 215.9,806.4 211.0,807.6 204.9,811.3 190.1,811.3 188.9,803.9 185.2,800.2 181.5,796.5 177.8,794.1 175.9,792.2" fill="#98BE32" stroke="#98BE32" stroke-width="0.4" stroke-linejoin="round"/>
<polygon points="206.7,795.9 211.0,793.5 214.7,795.3 217.2,799.0 220.0,801.5 220.0,806.4 214.7,805.8 209.8,802.7 207.1,799.6" fill="#BDEE68" stroke="#BDEE68" stroke-width="0.4" stroke-linejoin="round"/>
<polygon points="207.9,784.2 212.2,783.3 217.2,783.6 215.9,785.5 211.0,785.7" fill="#BDEE68" stroke="#BDEE68" stroke-width="0.4" stroke-linejoin="round"/>
<polygon points="193.8,797.8 197.5,796.5 199.3,798.4 196.9,800.2 194.4,800.0" fill="#BDEE68" stroke="#BDEE68" stroke-width="0.4" stroke-linejoin="round"/>
<polygon points="182.1,801.5 185.2,799.6 188.9,801.5 191.3,805.2 190.1,811.3 182.7,811.3" fill="#DEB887" stroke="#DEB887" stroke-width="0.4" stroke-linejoin="round"/>
<polygon points="183.9,803.9 186.4,802.5 188.2,805.2 187.0,808.2 184.5,807.6" fill="#FFE100" stroke="#FFE100" stroke-width="0.4" stroke-linejoin="round"/>
<polygon points="204.9,759.0 205.8,758.6 206.1,763.3 205.1,763.6" fill="#BDEE68" stroke="#BDEE68" stroke-width="0.4" stroke-linejoin="round"/>
</g>
<clipPath id="c38"><rect x="220" y="735" width="88" height="74"/></clipPath>
<g clip-path="url(#c38)">
<rect x="219.5" y="734.5" width="89" height="75" fill="#F5E6BE"/>
<polygon points="260.2,744.7 262.6,739.9 265.0,735.0 288.2,735.0 285.7,738.0 280.9,740.5 276.0,742.3 271.1,741.7 266.9,743.5 262.6,746.6" fill="#DEB887" stroke="#DEB887" stroke-width="0.4" stroke-linejoin="round"/>
<polygon points="235.8,738.0 239.5,736.8 241.3,739.3 238.9,740.8" fill="#DEB887" stroke="#DEB887" stroke-width="0.4" stroke-linejoin="round"/>
<polygon points="223.7,735.0 229.7,735.0 228.5,736.5 224.9,736.8" fill="#DEB887" stroke="#DEB887" stroke-width="0.4" stroke-linejoin="round"/>
<polygon points="220.0,775.2 223.7,774.6 226.7,777.0 227.3,781.3 224.9,784.3 220.0,784.9" fill="#DEB887" stroke="#DEB887" stroke-width="0.4" stroke-linejoin="round"/>
<polygon points="220.0,797.1 223.7,796.5 226.7,799.5 225.5,802.6 221.2,802.6 220.0,801.3" fill="#DEB887" stroke="#DEB887" stroke-width="0.4" stroke-linejoin="round"/>
<polygon points="234.6,770.3 239.5,766.6 244.3,763.0 250.4,758.1 257.7,755.7 260.2,751.4 265.0,750.2 271.1,752.0 276.0,749.0 280.9,746.0 288.2,744.1 295.5,742.3 302.8,738.7 308.0,735.0 308.0,790.4 302.8,791.0 297.9,791.6 293.0,792.2 288.2,791.0 283.3,789.8 277.2,788.6 271.1,787.3 268.1,783.7 263.8,784.3 258.9,783.1 254.1,781.9 249.2,780.0 244.3,777.6 238.3,775.2 235.2,773.3" fill="#98BE32" stroke="#98BE32" stroke-width="0.4" stroke-linejoin="round"/>
<polygon points="251.6,771.5 256.5,769.7 262.6,769.7 268.7,769.1 272.3,766.6 277.2,765.4 282.1,766.6 285.7,768.5 288.2,766.0 293.0,765.4 294.9,768.5 293.0,772.1 288.2,774.6 287.6,778.2 283.3,779.4 278.4,778.8 273.6,778.2 268.7,777.0 263.8,774.6 258.9,773.3 254.1,774.6 251.6,773.7" fill="#BDEE68" stroke="#BDEE68" stroke-width="0.4" stroke-linejoin="round"/>
<polygon points="294.9,773.9 297.9,771.5 300.3,767.9 304.0,765.4 308.0,764.8 308.0,770.3 305.2,771.5 302.8,773.9 300.3,777.0 297.9,780.0 294.9,780.6 294.0,777.6" fill="#BDEE68" stroke="#BDEE68" stroke-width="0.4" stroke-linejoin="round"/>
<polygon points="235.8,756.9 238.9,755.4 241.9,756.7 240.7,758.7 237.0,759.1" fill="#98BE32" stroke="#98BE32" stroke-width="0.4" stroke-linejoin="round"/>
<polygon points="225.5,763.2 229.7,762.8 231.6,764.0 228.5,764.8" fill="#98BE32" stroke="#98BE32" stroke-width="0.4" stroke-linejoin="round"/>
<polygon points="222.4,771.5 226.1,771.3 227.9,773.3 224.9,774.6 222.4,773.7" fill="#98BE32" stroke="#98BE32" stroke-width="0.4" stroke-linejoin="round"/>
<polygon points="221.2,742.3 223.0,742.1 223.0,743.8 221.5,743.8" fill="#98BE32" stroke="#98BE32" stroke-width="0.4" stroke-linejoin="round"/>
<polygon points="227.3,793.4 230.3,791.6 234.6,794.6 239.5,798.3 246.8,800.1 252.3,801.3 251.6,805.6 250.4,810.5 232.2,810.5 231.6,804.4 229.1,799.5" fill="#98BE32" stroke="#98BE32" stroke-width="0.4" stroke-linejoin="round"/>
<polygon points="241.3,804.4 243.7,801.9 246.2,804.4 243.7,807.1" fill="#F5E6BE" stroke="#F5E6BE" stroke-width="0.4" stroke-linejoin="round"/>
<polygon points="220.0,803.2 223.7,802.9 225.5,806.2 224.9,810.5 220.0,810.5" fill="#98BE32" stroke="#98BE32" stroke-width="0.4" stroke-linejoin="round"/>
<polygon points="220.0,804.4 222.4,804.1 223.7,806.8 223.0,810.5 220.0,810.5" fill="#BDEE68" stroke="#BDEE68" stroke-width="0.4" stroke-linejoin="round"/>
</g>
<clipPath id="c39"><rect x="308" y="735" width="89" height="74"/></clipPath>
<g clip-path="url(#c39)">
<rect x="307.5" y="734.5" width="90" height="75" fill="#98BE32"/>
<polygon points="308.0,793.5 312.9,792.9 317.8,792.2 322.8,792.9 328.9,791.6 333.9,791.0 337.5,793.5 342.5,793.5 347.4,795.3 351.1,797.8 352.9,791.6 355.4,790.4 356.6,794.1 356.0,799.0 358.5,801.5 362.2,797.8 365.9,792.9 367.7,787.9 368.3,792.9 365.9,797.8 364.6,802.7 365.9,811.3 308.0,811.3" fill="#F5E6BE" stroke="#F5E6BE" stroke-width="0.4" stroke-linejoin="round"/>
<polygon points="375.1,792.9 378.2,789.2 380.6,791.6 381.9,796.5 385.6,799.0 389.2,801.5 388.0,805.8 384.3,806.4 381.9,811.3 372.0,811.3 372.6,803.9 375.7,800.2 374.5,796.5" fill="#F5E6BE" stroke="#F5E6BE" stroke-width="0.4" stroke-linejoin="round"/>
<polygon points="348.6,752.8 351.1,752.2 354.8,755.9 358.5,759.0 360.9,760.2 359.1,761.8 354.8,760.9 350.5,757.8 348.0,755.3" fill="#F5E6BE" stroke="#F5E6BE" stroke-width="0.4" stroke-linejoin="round"/>
<polygon points="337.5,739.9 341.2,737.5 343.7,738.7 343.1,742.4 340.0,743.6 338.2,742.4" fill="#F5E6BE" stroke="#F5E6BE" stroke-width="0.4" stroke-linejoin="round"/>
<polygon points="342.5,786.7 344.3,785.7 345.5,787.7 343.7,788.9" fill="#F5E6BE" stroke="#F5E6BE" stroke-width="0.4" stroke-linejoin="round"/>
<polygon points="343.7,735.0 359.7,735.0 362.2,739.9 365.9,744.8 369.5,749.8 374.5,753.5 379.4,757.2 384.3,760.2 386.8,761.5 383.1,761.5 378.2,759.0 373.2,755.9 368.3,753.5 363.4,752.2 359.7,750.4 356.0,747.3 352.3,743.6 348.6,739.9 344.9,736.8" fill="#F5E6BE" stroke="#F5E6BE" stroke-width="0.4" stroke-linejoin="round"/>
<polygon points="346.2,735.0 357.2,735.0 359.7,739.3 363.4,744.2 367.1,748.5 368.3,751.6 364.6,751.6 360.9,749.8 357.2,746.7 353.5,743.0 349.9,739.3" fill="#FFE100" stroke="#FFE100" stroke-width="0.4" stroke-linejoin="round"/>
<polygon points="357.2,746.1 359.7,745.5 360.9,747.9 358.5,748.5" fill="#FFA500" stroke="#FFA500" stroke-width="0.4" stroke-linejoin="round"/>
<polygon points="349.2,735.0 352.3,735.0 351.7,736.8 349.9,736.5" fill="#FFA500" stroke="#FFA500" stroke-width="0.4" stroke-linejoin="round"/>
<polygon points="362.2,735.0 397.0,735.0 397.0,748.5 394.2,747.3 389.2,746.7 384.3,746.1 379.4,745.5 376.9,747.3 378.2,751.0 381.9,753.5 383.1,758.4 386.8,760.2 389.2,759.0 386.8,754.7 388.0,751.0 386.8,748.5 381.9,747.3 376.9,746.1 372.0,746.7 367.1,746.1 364.0,742.4 363.4,738.7" fill="#F5E6BE" stroke="#F5E6BE" stroke-width="0.4" stroke-linejoin="round"/>
<polygon points="362.2,737.5 365.9,735.0 376.9,735.0 374.5,737.5 369.5,738.7 365.9,742.4 367.1,746.1 369.5,747.9 367.1,747.9 364.0,744.8" fill="#DEB887" stroke="#DEB887" stroke-width="0.4" stroke-linejoin="round"/>
<polygon points="365.9,739.9 369.5,738.1 374.5,739.9 375.7,743.6 372.0,745.5 368.3,744.2 365.9,742.4" fill="#98BE32" stroke="#98BE32" stroke-width="0.4" stroke-linejoin="round"/>
<polygon points="376.9,746.1 381.9,744.8 388.0,746.1 392.9,745.5 397.0,746.1 397.0,757.8 392.9,759.0 389.2,758.4 386.8,754.7 388.0,751.0 384.3,748.5 379.4,747.9" fill="#98BE32" stroke="#98BE32" stroke-width="0.4" stroke-linejoin="round"/>
<polygon points="384.3,735.0 397.0,735.0 397.0,741.2 392.9,742.4 389.2,739.9 385.6,737.5" fill="#98BE32" stroke="#98BE32" stroke-width="0.4" stroke-linejoin="round"/>
<polygon points="368.3,741.8 370.8,741.2 372.6,743.0 370.8,744.2" fill="#BDEE68" stroke="#BDEE68" stroke-width="0.4" stroke-linejoin="round"/>
<polygon points="378.2,746.7 383.1,746.1 386.8,747.3 384.3,748.8 380.0,748.3" fill="#BDEE68" stroke="#BDEE68" stroke-width="0.4" stroke-linejoin="round"/>
<polygon points="386.8,761.5 391.7,759.6 397.0,758.4 397.0,792.9 394.2,791.6 390.5,787.9 388.0,784.2 385.6,779.3 384.9,774.4 386.8,769.5 388.0,764.5" fill="#FFE100" stroke="#FFE100" stroke-width="0.4" stroke-linejoin="round"/>
<polygon points="386.8,775.6 389.2,775.0 391.7,777.5 394.2,781.8 397.0,784.2 397.0,790.4 394.2,789.8 390.5,786.1 388.0,781.8" fill="#FFA500" stroke="#FFA500" stroke-width="0.4" stroke-linejoin="round"/>
<polygon points="394.2,789.2 397.0,788.5 397.0,792.9 394.8,792.2" fill="#FF4500" stroke="#FF4500" stroke-width="0.4" stroke-linejoin="round"/>
<polygon points="396.0,771.9 397.0,771.3 397.0,776.9 396.0,776.2" fill="#DEB887" stroke="#DEB887" stroke-width="0.4" stroke-linejoin="round"/>
<polygon points="393.6,765.2 396.0,764.5 396.4,767.0 394.2,767.3" fill="#FFA500" stroke="#FFA500" stroke-width="0.4" stroke-linejoin="round"/>
<polygon points="322.2,763.9 325.2,762.7 329.5,763.9 330.8,767.0 328.9,769.5 325.2,770.1 322.5,767.6" fill="#BDEE68" stroke="#BDEE68" stroke-width="0.4" stroke-linejoin="round"/>
<polygon points="312.9,768.9 316.0,767.6 318.1,770.1 316.0,772.5 313.2,771.3" fill="#BDEE68" stroke="#BDEE68" stroke-width="0.4" stroke-linejoin="round"/>
<polygon points="331.4,771.9 336.3,768.9 340.6,767.0 343.7,770.1 338.8,772.5 333.9,775.0 331.6,774.4" fill="#BDEE68" stroke="#BDEE68" stroke-width="0.4" stroke-linejoin="round"/>
<polygon points="335.7,746.1 338.8,745.8 341.9,748.5 340.0,750.8 336.9,749.8" fill="#BDEE68" stroke="#BDEE68" stroke-width="0.4" stroke-linejoin="round"/>
<polygon points="308.0,765.2 310.5,765.5 311.7,767.3 309.2,768.2 308.0,768.0" fill="#BDEE68" stroke="#BDEE68" stroke-width="0.4" stroke-linejoin="round"/>
<polygon points="330.8,755.9 333.2,754.7 334.1,757.2 332.6,759.0 331.1,758.1" fill="#BDEE68" stroke="#BDEE68" stroke-width="0.4" stroke-linejoin="round"/>
<polygon points="338.2,779.9 343.7,779.6 343.1,781.5 339.4,781.8" fill="#BDEE68" stroke="#BDEE68" stroke-width="0.4" stroke-linejoin="round"/>
<polygon points="370.2,759.6 373.2,759.0 375.7,760.9 375.1,763.9 372.0,764.5 370.2,762.3" fill="#BDEE68" stroke="#BDEE68" stroke-width="0.4" stroke-linejoin="round"/>
<polygon points="380.0,767.0 383.1,765.8 384.9,768.2 383.1,771.9 380.6,772.5" fill="#BDEE68" stroke="#BDEE68" stroke-width="0.4" stroke-linejoin="round"/>
<polygon points="378.2,778.1 380.6,774.4 382.5,777.5 381.9,783.0 379.4,783.6" fill="#BDEE68" stroke="#BDEE68" stroke-width="0.4" stroke-linejoin="round"/>
<polygon points="381.9,790.4 384.9,787.9 386.8,790.4 384.9,792.9 382.5,792.6" fill="#BDEE68" stroke="#BDEE68" stroke-width="0.4" stroke-linejoin="round"/>
<polygon points="378.2,800.2 381.2,798.4 383.1,801.5 381.2,803.9 378.8,803.3" fill="#BDEE68" stroke="#BDEE68" stroke-width="0.4" stroke-linejoin="round"/>
<polygon points="308.0,776.9 309.5,777.5 309.8,779.9 308.0,780.5" fill="#BDEE68" stroke="#BDEE68" stroke-width="0.4" stroke-linejoin="round"/>
<polygon points="354.8,752.8 357.2,752.5 357.9,754.1 355.4,754.4" fill="#BDEE68" stroke="#BDEE68" stroke-width="0.4" stroke-linejoin="round"/>
<polygon points="383.1,796.5 386.8,794.1 389.2,797.8 389.9,802.1 386.8,802.7 384.3,800.2" fill="#DEB887" stroke="#DEB887" stroke-width="0.4" stroke-linejoin="round"/>
<polygon points="389.9,795.3 395.4,795.1 396.0,800.9 391.7,802.1 389.9,799.6" fill="#BDEE68" stroke="#BDEE68" stroke-width="0.4" stroke-linejoin="round"/>
<polygon points="390.7,796.5 394.2,795.9 395.2,799.0 392.9,800.2 391.1,799.0" fill="#20B2AA" stroke="#20B2AA" stroke-width="0.4" stroke-linejoin="round"/>
</g>
<clipPath id="c40"><rect x="397" y="735" width="88" height="74"/></clipPath>
<g clip-path="url(#c40)">
<rect x="396.5" y="734.5" width="89" height="75" fill="#F5E6BE"/>
<polygon points="397.0,749.6 400.7,747.2 404.3,745.3 409.2,744.7 414.0,742.9 418.9,742.3 425.0,741.1 429.9,739.9 435.9,739.3 440.8,737.4 443.3,735.0 462.7,735.0 460.3,739.9 457.9,744.7 456.6,749.6 454.2,752.0 450.6,751.4 448.1,754.5 447.5,759.3 445.7,761.2 442.0,758.1 438.4,757.5 434.7,758.7 432.3,757.5 429.9,758.7 431.7,764.2 430.5,767.9 427.4,767.9 425.0,764.2 423.2,760.6 418.9,758.7 414.0,758.1 410.4,755.1 409.2,752.0 404.3,753.3 400.7,754.5 397.0,753.9" fill="#98BE32" stroke="#98BE32" stroke-width="0.4" stroke-linejoin="round"/>
<polygon points="397.0,739.3 400.7,738.7 405.5,739.3 406.7,742.3 404.3,744.7 400.7,744.1 397.0,743.5" fill="#98BE32" stroke="#98BE32" stroke-width="0.4" stroke-linejoin="round"/>
<polygon points="420.1,752.0 423.2,751.8 423.8,753.5 420.7,753.9" fill="#F5E6BE" stroke="#F5E6BE" stroke-width="0.4" stroke-linejoin="round"/>
<polygon points="411.6,749.6 416.5,749.0 416.5,750.6 412.2,750.8" fill="#F5E6BE" stroke="#F5E6BE" stroke-width="0.4" stroke-linejoin="round"/>
<polygon points="464.6,765.4 467.6,764.8 470.0,767.9 473.7,770.3 478.5,769.1 482.2,767.9 485.0,768.5 485.0,773.9 481.0,775.8 474.9,775.8 470.0,773.9 466.4,770.9" fill="#98BE32" stroke="#98BE32" stroke-width="0.4" stroke-linejoin="round"/>
<polygon points="453.0,769.1 456.6,768.1 460.3,770.9 463.3,775.2 466.4,778.8 465.2,781.9 461.5,781.9 457.9,778.8 455.4,775.2 453.2,772.1" fill="#98BE32" stroke="#98BE32" stroke-width="0.4" stroke-linejoin="round"/>
<polygon points="446.9,776.4 449.9,775.2 452.4,777.6 451.8,781.3 448.7,782.2 446.9,779.4" fill="#98BE32" stroke="#98BE32" stroke-width="0.4" stroke-linejoin="round"/>
<polygon points="468.2,779.4 472.5,778.2 476.1,780.0 475.5,783.1 471.2,783.9 468.6,782.2" fill="#98BE32" stroke="#98BE32" stroke-width="0.4" stroke-linejoin="round"/>
<polygon points="480.4,780.6 485.0,780.0 485.0,783.7 481.0,783.7" fill="#98BE32" stroke="#98BE32" stroke-width="0.4" stroke-linejoin="round"/>
<polygon points="466.4,746.6 467.0,741.1 470.0,737.4 474.9,735.0 485.0,735.0 485.0,737.4 481.0,739.9 477.3,741.7 472.5,743.5 469.4,746.0" fill="#FFE100" stroke="#FFE100" stroke-width="0.4" stroke-linejoin="round"/>
<polygon points="470.0,746.0 474.9,743.5 481.0,741.1 485.0,739.9 485.0,746.0 481.0,746.6 476.1,747.2" fill="#DEB887" stroke="#DEB887" stroke-width="0.4" stroke-linejoin="round"/>
<polygon points="474.9,750.8 478.5,747.8 483.4,747.2 485.0,747.8 485.0,760.6 482.2,762.4 478.5,758.7 475.5,755.1" fill="#98BE32" stroke="#98BE32" stroke-width="0.4" stroke-linejoin="round"/>
<polygon points="476.1,751.4 479.8,749.0 485.0,748.6 485.0,758.1 481.6,758.7 477.9,755.7" fill="#BDEE68" stroke="#BDEE68" stroke-width="0.4" stroke-linejoin="round"/>
<polygon points="478.3,752.0 481.6,750.2 485.0,750.6 485.0,755.9 482.2,756.7 479.2,754.5" fill="#20B2AA" stroke="#20B2AA" stroke-width="0.4" stroke-linejoin="round"/>
<polygon points="473.4,758.7 475.1,758.4 475.5,760.6 473.7,760.8" fill="#DEB887" stroke="#DEB887" stroke-width="0.4" stroke-linejoin="round"/>
<polygon points="439.0,798.3 441.4,792.2 443.3,787.3 445.7,787.9 446.3,792.8 449.3,794.6 452.4,792.2 454.2,788.6 457.2,788.6 459.1,793.4 462.7,792.2 465.2,790.4 468.8,791.0 470.0,794.6 473.7,793.4 476.1,791.0 479.8,791.0 482.2,794.6 485.0,795.9 485.0,810.5 439.6,810.5 440.8,804.4" fill="#98BE32" stroke="#98BE32" stroke-width="0.4" stroke-linejoin="round"/>
<polygon points="448.1,803.8 450.6,802.6 452.0,804.4 449.9,806.2" fill="#F5E6BE" stroke="#F5E6BE" stroke-width="0.4" stroke-linejoin="round"/>
<polygon points="470.0,795.9 472.5,794.6 474.3,797.1 471.9,798.9" fill="#F5E6BE" stroke="#F5E6BE" stroke-width="0.4" stroke-linejoin="round"/>
<polygon points="453.0,795.9 455.4,795.2 456.6,798.3 454.2,798.9" fill="#F5E6BE" stroke="#F5E6BE" stroke-width="0.4" stroke-linejoin="round"/>
<polygon points="429.3,810.5 431.1,804.4 434.7,802.6 437.8,803.8 437.8,806.8 435.9,810.5" fill="#98BE32" stroke="#98BE32" stroke-width="0.4" stroke-linejoin="round"/>
<polygon points="397.0,758.7 401.9,757.5 408.0,758.7 412.8,761.2 417.7,764.2 421.3,767.9 423.2,772.7 422.6,777.0 425.0,776.4 429.9,775.2 433.5,775.8 437.2,777.0 439.6,780.0 438.4,786.1 435.9,791.0 433.5,795.9 429.9,799.5 426.2,801.7 423.8,805.6 421.3,810.5 415.3,810.5 417.1,804.4 415.3,800.7 416.5,797.1 419.5,794.6 421.3,791.0 420.1,786.1 418.9,781.3 415.3,783.7 410.4,784.9 405.5,786.1 401.9,788.6 399.4,787.3 397.0,788.6" fill="#DEB887" stroke="#DEB887" stroke-width="0.4" stroke-linejoin="round"/>
<polygon points="397.0,761.2 400.7,760.6 401.9,764.2 404.3,766.6 408.0,764.2 412.8,766.0 417.1,769.1 417.7,772.1 415.3,773.9 410.4,772.7 406.7,771.5 403.7,769.7 400.7,770.3 397.0,769.1" fill="#FFE100" stroke="#FFE100" stroke-width="0.4" stroke-linejoin="round"/>
<polygon points="397.0,773.9 400.7,772.7 404.3,775.2 408.0,778.8 411.6,782.5 410.4,785.5 406.7,784.9 403.1,782.5 399.4,780.0 397.0,779.4" fill="#FFE100" stroke="#FFE100" stroke-width="0.4" stroke-linejoin="round"/>
<polygon points="397.0,783.7 399.4,784.3 403.1,787.3 406.1,789.8 405.5,793.4 401.9,792.2 397.0,790.4" fill="#FFE100" stroke="#FFE100" stroke-width="0.4" stroke-linejoin="round"/>
<polygon points="422.0,780.0 426.2,776.4 431.1,775.8 435.3,777.6 437.2,781.9 435.9,787.3 433.5,792.2 431.7,797.1 427.4,800.7 425.0,801.3 423.2,798.3 422.0,793.4 421.3,787.3" fill="#FFE100" stroke="#FFE100" stroke-width="0.4" stroke-linejoin="round"/>
<polygon points="427.4,789.8 429.6,788.3 431.1,791.0 430.5,794.4 428.0,794.9 426.8,792.4" fill="#FFA500" stroke="#FFA500" stroke-width="0.4" stroke-linejoin="round"/>
<polygon points="417.1,800.7 420.1,797.7 422.6,798.9 422.0,802.6 419.5,804.4 417.4,803.2" fill="#FFE100" stroke="#FFE100" stroke-width="0.4" stroke-linejoin="round"/>
<polygon points="400.7,777.0 403.1,776.4 404.9,778.8 403.7,780.6 401.3,779.4" fill="#FFA500" stroke="#FFA500" stroke-width="0.4" stroke-linejoin="round"/>
<polygon points="406.1,773.7 409.2,773.0 411.6,775.8 409.2,777.0 406.7,775.8" fill="#98BE32" stroke="#98BE32" stroke-width="0.4" stroke-linejoin="round"/>
<polygon points="397.0,790.4 400.7,792.2 404.3,795.2 406.1,799.5 405.5,804.4 404.3,810.5 397.0,810.5" fill="#FFE100" stroke="#FFE100" stroke-width="0.4" stroke-linejoin="round"/>
<polygon points="397.0,793.4 400.7,795.2 403.1,798.3 403.7,803.2 402.5,810.5 397.0,810.5" fill="#FFA500" stroke="#FFA500" stroke-width="0.4" stroke-linejoin="round"/>
<polygon points="397.0,794.6 399.4,795.9 401.3,799.5 401.3,804.4 400.0,810.5 397.0,810.5" fill="#FF4500" stroke="#FF4500" stroke-width="0.4" stroke-linejoin="round"/>
<polygon points="397.0,793.4 398.5,794.0 398.8,800.7 398.2,805.6 397.0,806.2" fill="#B22222" stroke="#B22222" stroke-width="0.4" stroke-linejoin="round"/>
<polygon points="407.3,793.4 409.8,791.0 413.4,791.6 414.6,795.9 414.0,803.2 412.8,810.5 406.1,810.5 406.7,803.2 408.0,798.3" fill="#98BE32" stroke="#98BE32" stroke-width="0.4" stroke-linejoin="round"/>
<polygon points="408.6,795.2 411.0,793.4 413.1,794.6 413.4,800.7 412.2,810.5 407.7,810.5 408.6,801.9" fill="#BDEE68" stroke="#BDEE68" stroke-width="0.4" stroke-linejoin="round"/>
<polygon points="409.2,804.4 411.6,801.9 412.8,804.4 411.8,810.5 408.6,810.5" fill="#20B2AA" stroke="#20B2AA" stroke-width="0.4" stroke-linejoin="round"/>
<polygon points="409.8,795.9 411.0,795.2 411.4,800.7 410.1,801.3" fill="#F5E6BE" stroke="#F5E6BE" stroke-width="0.4" stroke-linejoin="round"/>
</g>
<clipPath id="c41"><rect x="43" y="809" width="88" height="74"/></clipPath>
<g clip-path="url(#c41)">
<rect x="42.5" y="808.5" width="89" height="75" fill="#F5E6BE"/>
<polygon points="55.2,818.7 60.0,817.8 64.9,820.0 63.7,822.4 58.8,823.4 55.8,821.2" fill="#DEB887" stroke="#DEB887" stroke-width="0.4" stroke-linejoin="round"/>
<polygon points="100.2,820.6 105.1,819.7 108.7,821.2 105.1,822.6 100.8,822.1" fill="#DEB887" stroke="#DEB887" stroke-width="0.4" stroke-linejoin="round"/>
<polygon points="88.0,827.3 94.1,826.6 96.6,828.2 91.7,829.1" fill="#DEB887" stroke="#DEB887" stroke-width="0.4" stroke-linejoin="round"/>
<polygon points="120.9,847.9 127.0,846.1 131.0,846.1 131.0,851.0 125.8,851.6 122.1,850.4" fill="#DEB887" stroke="#DEB887" stroke-width="0.4" stroke-linejoin="round"/>
<polygon points="86.8,816.3 90.5,813.9 91.7,815.1 88.6,818.1" fill="#DEB887" stroke="#DEB887" stroke-width="0.4" stroke-linejoin="round"/>
<polygon points="52.7,809.0 56.4,809.0 58.2,812.7 56.4,814.5 54.0,812.7" fill="#98BE32" stroke="#98BE32" stroke-width="0.4" stroke-linejoin="round"/>
<polygon points="43.0,811.4 46.0,812.0 47.9,815.1 44.8,815.7 43.0,815.1" fill="#98BE32" stroke="#98BE32" stroke-width="0.4" stroke-linejoin="round"/>
<polygon points="79.5,813.9 84.4,811.4 85.6,809.0 89.3,809.0 88.0,812.7 84.4,815.7 80.7,816.3" fill="#98BE32" stroke="#98BE32" stroke-width="0.4" stroke-linejoin="round"/>
<polygon points="69.2,810.8 73.4,809.6 77.7,810.8 75.9,812.7 71.6,812.9" fill="#98BE32" stroke="#98BE32" stroke-width="0.4" stroke-linejoin="round"/>
<polygon points="114.8,809.0 131.0,809.0 131.0,812.7 125.8,812.4 118.5,811.4" fill="#98BE32" stroke="#98BE32" stroke-width="0.4" stroke-linejoin="round"/>
<polygon points="116.0,820.6 122.1,819.0 131.0,820.0 131.0,823.0 124.5,822.6 118.5,822.1" fill="#98BE32" stroke="#98BE32" stroke-width="0.4" stroke-linejoin="round"/>
<polygon points="85.0,824.2 88.6,821.2 92.3,821.2 91.1,823.0 86.8,824.8" fill="#98BE32" stroke="#98BE32" stroke-width="0.4" stroke-linejoin="round"/>
<polygon points="43.0,824.8 46.7,824.2 50.3,824.8 54.0,824.2 58.8,826.6 63.1,829.7 62.5,832.1 67.3,832.7 74.6,831.5 81.9,830.9 91.7,830.7 99.0,831.2 103.2,833.3 102.6,836.4 96.6,837.6 89.3,837.2 81.9,837.2 74.6,837.6 67.3,838.0 60.0,838.2 52.7,837.6 46.7,837.2 43.0,837.6" fill="#98BE32" stroke="#98BE32" stroke-width="0.4" stroke-linejoin="round"/>
<polygon points="115.4,831.5 120.9,829.1 128.2,827.9 131.0,827.9 131.0,831.5 127.0,832.1 120.9,833.3 116.0,833.1" fill="#98BE32" stroke="#98BE32" stroke-width="0.4" stroke-linejoin="round"/>
<polygon points="43.0,842.5 49.1,840.9 57.6,840.0 64.9,840.0 72.2,841.9 79.5,841.9 86.8,840.9 94.1,840.4 101.4,839.4 106.3,837.6 111.2,836.4 117.2,838.2 123.3,839.4 131.0,838.8 131.0,843.1 125.8,843.7 118.5,843.1 111.2,842.5 103.9,842.8 96.6,844.3 89.3,845.5 81.9,846.1 77.1,847.3 74.6,849.8 77.1,852.2 72.2,852.8 66.1,851.0 61.3,849.2 58.8,846.7 54.0,846.1 47.9,847.3 43.0,847.7" fill="#98BE32" stroke="#98BE32" stroke-width="0.4" stroke-linejoin="round"/>
<polygon points="64.9,844.9 67.3,843.7 69.2,845.3 67.3,847.0" fill="#F5E6BE" stroke="#F5E6BE" stroke-width="0.4" stroke-linejoin="round"/>
<polygon points="43.0,853.4 50.3,852.2 57.6,851.0 64.9,851.0 72.2,852.6 79.5,853.1 86.8,852.8 94.1,852.2 101.4,851.8 106.3,851.0 111.2,851.0 117.2,852.2 123.3,853.4 131.0,854.0 131.0,855.9 43.0,855.9" fill="#98BE32" stroke="#98BE32" stroke-width="0.4" stroke-linejoin="round"/>
<polygon points="43.0,854.3 50.3,853.1 57.6,851.8 64.9,851.8 72.2,853.4 79.5,854.0 91.7,853.4 103.9,852.2 111.2,851.8 118.5,853.1 131.0,855.0 131.0,856.5 43.0,856.7" fill="#BDEE68" stroke="#BDEE68" stroke-width="0.4" stroke-linejoin="round"/>
<polygon points="43.0,860.1 57.6,860.1 72.2,859.5 86.8,859.5 95.3,860.1 96.6,861.6 89.3,862.1 79.5,862.6 67.3,862.3 55.2,862.6 43.0,862.6" fill="#DEB887" stroke="#DEB887" stroke-width="0.4" stroke-linejoin="round"/>
<polygon points="43.0,855.0 50.3,854.0 57.6,852.8 64.3,853.1 67.3,854.6 74.6,855.0 84.4,854.3 94.1,854.0 103.9,853.1 111.2,852.8 117.2,854.0 123.3,855.9 131.0,857.1 131.0,866.2 127.0,867.4 120.9,868.4 114.8,868.6 108.7,867.4 105.1,865.6 103.9,863.2 107.5,861.3 111.2,860.1 107.5,858.9 101.4,859.1 94.1,859.5 86.8,859.1 79.5,858.3 72.2,859.1 64.9,858.9 57.6,859.5 50.3,860.1 43.0,859.9" fill="#20B2AA" stroke="#20B2AA" stroke-width="0.4" stroke-linejoin="round"/>
<polygon points="52.7,855.9 57.6,855.0 62.5,855.5 61.3,857.1 55.2,857.4" fill="#B0E0E6" stroke="#B0E0E6" stroke-width="0.4" stroke-linejoin="round"/>
<polygon points="84.4,855.9 89.3,855.0 96.6,854.6 106.3,854.6 111.2,855.3 108.7,857.1 101.4,857.7 94.1,857.9 88.0,857.7" fill="#B0E0E6" stroke="#B0E0E6" stroke-width="0.4" stroke-linejoin="round"/>
<polygon points="112.4,866.2 116.0,863.2 120.9,860.7 127.0,860.1 131.0,860.7 131.0,865.6 125.8,866.8 118.5,867.4" fill="#B0E0E6" stroke="#B0E0E6" stroke-width="0.4" stroke-linejoin="round"/>
<polygon points="43.0,862.6 55.2,862.6 67.3,862.3 79.5,862.6 88.0,862.6 88.6,866.2 91.7,870.5 97.8,869.9 103.9,871.7 116.0,872.3 131.0,871.7 131.0,880.2 43.0,880.2" fill="#FFE100" stroke="#FFE100" stroke-width="0.4" stroke-linejoin="round"/>
<polygon points="95.3,862.6 100.2,861.3 106.3,860.7 103.9,863.2 100.2,865.0 101.4,868.0 106.3,869.9 116.0,870.5 125.8,869.9 131.0,869.2 131.0,871.1 120.9,871.7 111.2,871.7 102.6,871.1 97.8,869.2 95.9,866.2" fill="#98BE32" stroke="#98BE32" stroke-width="0.4" stroke-linejoin="round"/>
<polygon points="99.0,863.2 103.9,861.6 107.5,860.7 104.5,863.5 102.6,865.6 103.9,868.0 108.7,869.6 117.2,869.6 131.0,868.4 131.0,869.9 116.0,870.8 106.3,870.5 100.8,868.9 98.4,866.2" fill="#BDEE68" stroke="#BDEE68" stroke-width="0.4" stroke-linejoin="round"/>
<polygon points="88.6,862.6 94.1,861.9 96.6,863.8 94.1,866.2 91.7,869.9 89.3,868.6 88.3,865.6" fill="#DEB887" stroke="#DEB887" stroke-width="0.4" stroke-linejoin="round"/>
<polygon points="111.2,872.3 120.9,872.5 131.0,873.3 131.0,875.3 123.3,874.7 116.0,873.8" fill="#DEB887" stroke="#DEB887" stroke-width="0.4" stroke-linejoin="round"/>
<polygon points="43.0,863.8 52.7,864.0 62.5,864.7 69.8,865.2 77.1,867.2 83.2,869.9 91.7,872.3 97.8,873.5 95.3,875.3 89.3,875.9 79.5,875.7 67.3,875.3 55.2,875.7 43.0,875.9" fill="#FFA500" stroke="#FFA500" stroke-width="0.4" stroke-linejoin="round"/>
<polygon points="43.0,865.0 50.3,865.2 57.6,865.7 64.9,866.4 71.0,868.0 77.1,870.5 81.9,872.5 77.1,873.8 67.3,873.5 57.6,873.5 50.3,873.5 43.0,874.1" fill="#FF4500" stroke="#FF4500" stroke-width="0.4" stroke-linejoin="round"/>
<polygon points="43.0,866.2 49.1,866.4 55.2,867.2 61.3,868.0 66.1,869.2 67.3,870.5 62.5,871.7 55.2,872.0 49.1,872.3 43.0,872.5" fill="#B22222" stroke="#B22222" stroke-width="0.4" stroke-linejoin="round"/>
<polygon points="43.0,868.0 47.9,868.2 54.0,868.6 58.8,869.4 55.2,870.5 49.1,870.8 43.0,870.8" fill="#FFB6C1" stroke="#FFB6C1" stroke-width="0.4" stroke-linejoin="round"/>
<polygon points="43.0,875.9 51.5,876.2 52.7,880.2 43.0,880.2" fill="#DEB887" stroke="#DEB887" stroke-width="0.4" stroke-linejoin="round"/>
<polygon points="43.0,880.2 131.0,880.2 131.0,884.5 43.0,884.5" fill="#FFFFFF" stroke="#FFFFFF" stroke-width="0.4" stroke-linejoin="round"/>
</g>
<clipPath id="c42"><rect x="131" y="809" width="89" height="74"/></clipPath>
<g clip-path="url(#c42)">
<rect x="130.5" y="808.5" width="90" height="75" fill="#F5E6BE"/>
<polygon points="131.0,809.0 142.1,809.0 140.8,811.5 135.9,812.7 131.0,812.1" fill="#98BE32" stroke="#98BE32" stroke-width="0.4" stroke-linejoin="round"/>
<polygon points="131.0,820.1 135.9,819.1 141.5,820.1 142.7,821.9 138.4,823.5 133.5,823.8 131.0,822.8" fill="#98BE32" stroke="#98BE32" stroke-width="0.4" stroke-linejoin="round"/>
<polygon points="131.0,828.7 134.7,830.5 139.0,831.8 137.2,833.0 133.5,833.4 131.0,833.0" fill="#98BE32" stroke="#98BE32" stroke-width="0.4" stroke-linejoin="round"/>
<polygon points="131.0,839.2 135.9,838.5 143.3,838.5 145.8,841.0 143.3,842.9 137.2,843.5 131.0,843.5" fill="#98BE32" stroke="#98BE32" stroke-width="0.4" stroke-linejoin="round"/>
<polygon points="140.2,830.5 144.5,828.7 150.7,827.5 155.6,825.0 161.8,822.5 166.7,820.1 171.6,820.7 172.9,822.5 170.4,825.0 166.7,826.8 164.2,829.3 159.3,829.9 153.2,829.3 147.0,831.2 143.3,832.4 140.8,832.1" fill="#98BE32" stroke="#98BE32" stroke-width="0.4" stroke-linejoin="round"/>
<polygon points="147.0,837.9 151.9,835.5 158.1,834.2 165.5,831.8 172.9,829.9 180.2,829.3 185.2,831.2 188.9,831.8 192.5,830.5 196.2,828.7 201.2,826.8 205.5,827.5 206.1,829.3 201.2,831.2 197.5,833.0 204.9,833.6 212.2,833.6 220.0,833.0 220.0,849.6 215.9,850.2 209.8,851.5 204.9,850.9 199.9,848.4 196.2,845.9 192.5,844.7 188.9,843.5 185.2,844.1 180.2,845.3 175.3,845.9 171.6,844.1 167.9,842.9 163.0,841.0 158.1,841.3 153.2,841.6 149.5,840.4" fill="#98BE32" stroke="#98BE32" stroke-width="0.4" stroke-linejoin="round"/>
<polygon points="169.2,835.5 172.9,834.2 177.8,834.2 180.9,835.5 179.6,837.9 175.3,839.2 171.6,838.5" fill="#F5E6BE" stroke="#F5E6BE" stroke-width="0.4" stroke-linejoin="round"/>
<polygon points="174.7,842.0 179.0,840.8 182.7,842.0 180.2,843.2 175.9,843.2" fill="#F5E6BE" stroke="#F5E6BE" stroke-width="0.4" stroke-linejoin="round"/>
<polygon points="211.0,841.0 215.9,840.0 220.0,840.4 220.0,842.9 214.7,843.2 211.6,842.5" fill="#F5E6BE" stroke="#F5E6BE" stroke-width="0.4" stroke-linejoin="round"/>
<polygon points="206.1,845.3 211.0,844.1 215.9,844.7 217.2,847.8 213.5,850.9 209.8,850.2 207.3,847.8" fill="#BDEE68" stroke="#BDEE68" stroke-width="0.4" stroke-linejoin="round"/>
<polygon points="212.2,809.0 220.0,809.0 220.0,818.2 217.2,816.4 214.7,812.7" fill="#98BE32" stroke="#98BE32" stroke-width="0.4" stroke-linejoin="round"/>
<polygon points="200.6,813.9 203.0,812.9 204.9,814.5 203.0,815.8 201.2,815.4" fill="#98BE32" stroke="#98BE32" stroke-width="0.4" stroke-linejoin="round"/>
<polygon points="153.2,814.2 155.6,813.9 157.5,814.7 155.0,815.4" fill="#BDEE68" stroke="#BDEE68" stroke-width="0.4" stroke-linejoin="round"/>
<polygon points="170.4,814.2 173.5,813.7 175.1,815.4 173.5,816.6 171.0,816.1" fill="#DEB887" stroke="#DEB887" stroke-width="0.4" stroke-linejoin="round"/>
<polygon points="182.7,809.0 188.9,809.0 188.2,813.9 187.0,817.6 183.9,817.0 183.3,812.7" fill="#DEB887" stroke="#DEB887" stroke-width="0.4" stroke-linejoin="round"/>
<polygon points="131.0,845.9 137.2,845.7 142.7,846.5 143.9,849.0 139.6,850.9 134.7,851.1 131.0,850.9" fill="#DEB887" stroke="#DEB887" stroke-width="0.4" stroke-linejoin="round"/>
<polygon points="131.0,847.8 135.9,847.4 140.6,848.1 140.2,849.6 134.7,850.1 131.0,849.9" fill="#FFE100" stroke="#FFE100" stroke-width="0.4" stroke-linejoin="round"/>
<polygon points="150.1,844.9 153.2,844.7 153.8,845.7 150.7,845.9" fill="#DEB887" stroke="#DEB887" stroke-width="0.4" stroke-linejoin="round"/>
<polygon points="142.1,850.9 147.0,848.4 153.2,847.4 160.5,847.4 167.9,849.0 172.9,850.2 177.8,851.5 181.5,850.2 186.4,848.1 192.5,847.4 199.9,848.1 204.9,850.2 212.2,852.1 220.0,852.7 220.0,853.9 131.0,853.9 131.0,852.7 137.2,852.1" fill="#98BE32" stroke="#98BE32" stroke-width="0.4" stroke-linejoin="round"/>
<polygon points="155.0,848.6 160.5,848.1 166.7,849.6 171.6,850.9 167.9,851.8 161.8,851.5 156.9,850.9" fill="#BDEE68" stroke="#BDEE68" stroke-width="0.4" stroke-linejoin="round"/>
<polygon points="142.7,852.3 148.2,850.9 155.6,851.5 161.8,852.1 167.9,852.3 177.8,852.3 182.7,851.5 188.9,849.6 195.0,849.0 201.2,849.9 207.3,851.8 220.0,853.3 220.0,854.5 131.0,854.8 131.0,853.6" fill="#BDEE68" stroke="#BDEE68" stroke-width="0.4" stroke-linejoin="round"/>
<polygon points="131.0,857.0 135.9,855.8 142.1,854.8 147.0,853.6 155.6,853.1 165.5,852.7 167.9,851.5 172.9,852.7 180.2,852.3 185.2,850.9 190.1,850.2 195.0,850.9 199.9,852.1 207.3,853.1 214.7,853.6 220.0,853.9 220.0,859.2 214.7,859.5 207.3,858.9 199.9,858.2 192.5,857.6 185.2,858.0 180.2,858.9 175.3,859.5 167.9,859.7 160.5,859.5 153.2,859.2 148.2,859.5 144.5,860.7 140.8,863.2 137.2,866.2 133.5,868.1 131.0,868.7" fill="#20B2AA" stroke="#20B2AA" stroke-width="0.4" stroke-linejoin="round"/>
<polygon points="145.8,855.5 153.2,854.5 163.0,854.3 172.9,854.1 182.7,854.3 192.5,854.5 204.9,855.0 217.2,855.5 215.9,857.3 204.9,857.0 192.5,856.8 182.7,857.0 172.9,857.7 163.0,857.7 153.2,857.6 147.0,857.3" fill="#B0E0E6" stroke="#B0E0E6" stroke-width="0.4" stroke-linejoin="round"/>
<polygon points="157.5,855.5 166.7,854.8 175.3,855.2 175.9,856.4 167.9,857.0 158.7,856.8" fill="#789BF2" stroke="#789BF2" stroke-width="0.4" stroke-linejoin="round"/>
<polygon points="131.0,861.9 133.5,861.3 134.7,863.2 132.8,865.0 131.0,865.4" fill="#B0E0E6" stroke="#B0E0E6" stroke-width="0.4" stroke-linejoin="round"/>
<polygon points="131.0,869.3 135.9,867.5 140.8,863.8 144.5,861.3 148.2,860.1 155.6,859.7 167.9,860.2 180.2,859.5 190.1,858.2 199.9,858.9 209.8,859.5 220.0,859.7 220.0,861.9 214.7,862.2 204.9,861.7 195.0,861.3 190.1,860.7 185.2,860.7 180.2,861.3 172.9,861.9 167.9,861.7 160.5,861.3 153.2,860.9 147.0,861.9 143.3,864.4 139.6,867.5 134.7,869.9 131.0,870.5" fill="#BDEE68" stroke="#BDEE68" stroke-width="0.4" stroke-linejoin="round"/>
<polygon points="131.0,870.5 135.9,869.1 140.8,865.6 144.5,862.5 153.2,861.3 167.9,861.9 180.2,861.7 190.1,860.9 199.9,861.7 209.8,862.2 220.0,862.2 220.0,864.4 212.2,865.0 204.9,865.6 197.5,866.9 190.1,868.1 182.7,869.3 175.3,870.5 167.9,871.8 160.5,872.4 153.2,872.8 145.8,873.0 138.4,873.3 131.0,873.6" fill="#98BE32" stroke="#98BE32" stroke-width="0.4" stroke-linejoin="round"/>
<polygon points="140.8,865.6 144.5,863.2 150.7,861.7 158.1,861.7 165.5,862.2 168.5,863.8 166.1,866.6 160.5,868.1 153.2,869.1 145.8,868.7 142.1,867.8" fill="#F5E6BE" stroke="#F5E6BE" stroke-width="0.4" stroke-linejoin="round"/>
<polygon points="143.9,865.0 148.2,863.2 154.4,862.5 159.3,863.2 161.2,864.6 158.1,866.2 151.9,867.1 146.4,866.9" fill="#DEB887" stroke="#DEB887" stroke-width="0.4" stroke-linejoin="round"/>
<polygon points="149.2,865.4 150.7,865.0 151.3,866.2 149.7,866.6" fill="#FFE100" stroke="#FFE100" stroke-width="0.4" stroke-linejoin="round"/>
<polygon points="179.0,865.4 182.7,864.4 185.8,865.9 182.7,867.1 179.6,866.9" fill="#BDEE68" stroke="#BDEE68" stroke-width="0.4" stroke-linejoin="round"/>
<polygon points="131.0,873.6 138.4,873.3 145.8,873.0 153.2,872.8 160.5,872.4 167.9,871.8 175.3,870.5 182.7,869.3 190.1,868.1 197.5,866.9 204.9,865.6 212.2,865.0 220.0,864.4 220.0,873.0 215.9,873.6 211.0,870.5 209.8,866.2 206.1,868.1 202.4,870.5 197.5,872.4 190.1,873.6 180.2,874.9 167.9,875.7 155.6,876.1 143.3,876.1 131.0,876.1" fill="#DEB887" stroke="#DEB887" stroke-width="0.4" stroke-linejoin="round"/>
<polygon points="131.0,876.1 143.3,876.1 155.6,876.1 167.9,875.7 180.2,874.9 190.1,873.6 197.5,872.4 202.4,870.5 206.1,868.1 209.2,866.2 210.4,870.5 214.7,873.3 220.0,873.0 220.0,879.8 131.0,879.8" fill="#FFE100" stroke="#FFE100" stroke-width="0.4" stroke-linejoin="round"/>
<polygon points="131.0,879.8 220.0,879.8 220.0,885.3 131.0,885.3" fill="#FFFFFF" stroke="#FFFFFF" stroke-width="0.4" stroke-linejoin="round"/>
</g>
<clipPath id="c43"><rect x="220" y="809" width="88" height="74"/></clipPath>
<g clip-path="url(#c43)">
<rect x="219.5" y="808.5" width="89" height="75" fill="#F5E6BE"/>
<polygon points="220.0,809.0 231.6,809.0 229.1,813.9 226.1,816.9 222.4,818.1 220.0,817.5" fill="#98BE32" stroke="#98BE32" stroke-width="0.4" stroke-linejoin="round"/>
<polygon points="234.6,809.0 242.5,809.0 241.3,812.7 238.3,816.3 235.2,820.0 232.8,821.2 232.2,817.5 233.4,812.7" fill="#98BE32" stroke="#98BE32" stroke-width="0.4" stroke-linejoin="round"/>
<polygon points="244.3,809.0 250.4,809.0 251.6,811.4 248.6,812.4 245.0,810.8" fill="#98BE32" stroke="#98BE32" stroke-width="0.4" stroke-linejoin="round"/>
<polygon points="259.6,810.5 263.2,810.2 264.1,812.7 262.0,814.1 259.9,812.7" fill="#98BE32" stroke="#98BE32" stroke-width="0.4" stroke-linejoin="round"/>
<polygon points="268.7,818.1 272.3,817.3 276.6,819.3 278.4,821.2 275.4,821.8 271.1,820.6" fill="#98BE32" stroke="#98BE32" stroke-width="0.4" stroke-linejoin="round"/>
<polygon points="245.0,820.9 247.4,820.4 248.0,821.7 245.6,822.1" fill="#98BE32" stroke="#98BE32" stroke-width="0.4" stroke-linejoin="round"/>
<polygon points="237.0,830.9 240.7,829.9 243.7,831.5 243.1,833.3 239.5,833.6 237.3,832.4" fill="#98BE32" stroke="#98BE32" stroke-width="0.4" stroke-linejoin="round"/>
<polygon points="246.8,834.6 252.9,833.3 258.9,832.1 260.8,828.5 262.6,825.4 265.6,826.0 266.9,829.1 263.8,832.7 261.4,836.4 258.3,839.4 254.7,839.7 251.0,837.6 247.4,836.4" fill="#98BE32" stroke="#98BE32" stroke-width="0.4" stroke-linejoin="round"/>
<polygon points="275.4,830.9 279.6,828.5 284.5,827.3 288.2,823.6 285.7,820.0 283.3,818.1 288.2,817.3 295.5,817.8 302.8,817.3 308.0,817.5 308.0,833.3 304.0,832.7 299.1,832.1 293.0,832.7 286.9,833.3 280.9,834.0 276.0,833.3" fill="#98BE32" stroke="#98BE32" stroke-width="0.4" stroke-linejoin="round"/>
<polygon points="299.7,825.4 302.2,823.8 304.0,826.0 303.4,829.7 300.9,830.7 299.7,828.5" fill="#F5E6BE" stroke="#F5E6BE" stroke-width="0.4" stroke-linejoin="round"/>
<polygon points="220.0,834.6 224.9,836.4 229.7,836.0 234.6,838.2 240.7,840.4 246.8,841.6 254.1,842.5 261.4,841.9 266.3,840.0 271.1,837.0 276.0,835.8 283.3,836.0 290.6,836.4 297.9,837.2 302.8,839.4 305.2,837.6 308.0,835.8 308.0,850.4 304.0,851.0 297.9,850.4 290.6,850.6 283.3,851.0 276.0,851.4 268.7,851.0 261.4,850.4 254.1,849.8 248.0,848.6 243.1,846.7 238.3,845.5 233.4,845.3 229.7,846.7 227.9,849.8 224.9,851.0 220.0,851.6" fill="#98BE32" stroke="#98BE32" stroke-width="0.4" stroke-linejoin="round"/>
<polygon points="274.8,844.3 278.4,842.8 283.3,843.1 286.9,845.3 284.5,847.3 279.6,847.9 276.0,846.7" fill="#F5E6BE" stroke="#F5E6BE" stroke-width="0.4" stroke-linejoin="round"/>
<polygon points="296.7,844.9 300.3,843.3 304.0,844.3 304.6,846.1 300.9,847.0 297.3,846.5" fill="#F5E6BE" stroke="#F5E6BE" stroke-width="0.4" stroke-linejoin="round"/>
<polygon points="285.7,840.9 289.4,839.7 293.0,840.9 291.8,843.1 287.6,843.3" fill="#BDEE68" stroke="#BDEE68" stroke-width="0.4" stroke-linejoin="round"/>
<polygon points="237.6,841.6 240.7,841.3 240.9,842.5 238.3,842.8" fill="#BDEE68" stroke="#BDEE68" stroke-width="0.4" stroke-linejoin="round"/>
<polygon points="245.0,827.3 248.0,823.6 252.3,820.6 256.5,819.3 257.7,821.2 255.9,825.4 252.9,828.5 248.6,829.9 245.6,829.4" fill="#DEB887" stroke="#DEB887" stroke-width="0.4" stroke-linejoin="round"/>
<polygon points="222.4,816.9 227.3,815.1 229.7,816.3 227.3,819.3 223.7,821.2 221.8,820.0" fill="#DEB887" stroke="#DEB887" stroke-width="0.4" stroke-linejoin="round"/>
<polygon points="227.9,849.8 232.2,847.7 238.3,847.3 244.3,848.6 251.6,849.8 260.2,851.0 268.7,851.6 277.2,851.8 285.7,851.4 295.5,851.0 308.0,851.0 308.0,853.4 299.1,853.1 288.2,853.4 278.4,853.8 268.7,854.3 258.9,855.0 255.3,857.1 251.6,858.7 246.8,857.7 241.9,855.3 237.0,852.8 232.2,851.6" fill="#DEB887" stroke="#DEB887" stroke-width="0.4" stroke-linejoin="round"/>
<polygon points="220.0,871.1 227.3,870.5 234.6,871.3 239.5,872.9 244.3,874.1 220.0,874.7" fill="#DEB887" stroke="#DEB887" stroke-width="0.4" stroke-linejoin="round"/>
<polygon points="220.0,864.4 222.4,865.0 223.0,866.8 220.0,867.4" fill="#DEB887" stroke="#DEB887" stroke-width="0.4" stroke-linejoin="round"/>
<polygon points="220.0,852.8 224.9,851.6 228.5,851.0 233.4,852.2 239.5,854.0 244.3,855.9 249.2,857.7 251.6,859.1 248.0,860.7 241.9,861.3 235.8,860.7 229.7,860.1 224.9,860.7 220.0,861.3" fill="#BDEE68" stroke="#BDEE68" stroke-width="0.4" stroke-linejoin="round"/>
<polygon points="227.9,853.1 231.0,851.8 234.6,853.1 239.5,855.0 244.3,856.7 247.4,858.3 244.3,859.1 239.5,859.1 233.4,858.7 229.7,857.7 227.9,855.9" fill="#20B2AA" stroke="#20B2AA" stroke-width="0.4" stroke-linejoin="round"/>
<polygon points="220.0,860.1 226.1,860.1 232.2,860.7 239.5,861.3 241.9,863.2 237.0,864.4 232.2,863.5 226.1,862.6 220.0,862.6" fill="#98BE32" stroke="#98BE32" stroke-width="0.4" stroke-linejoin="round"/>
<polygon points="220.0,855.0 221.8,855.0 221.8,856.7 220.0,856.7" fill="#20B2AA" stroke="#20B2AA" stroke-width="0.4" stroke-linejoin="round"/>
<polygon points="226.1,868.6 231.0,867.4 237.0,867.2 240.7,868.0 238.3,869.9 232.2,870.5 227.3,870.1" fill="#98BE32" stroke="#98BE32" stroke-width="0.4" stroke-linejoin="round"/>
<polygon points="252.3,857.7 256.5,855.9 263.8,854.3 273.6,853.8 283.3,853.4 295.5,853.1 308.0,853.1 308.0,858.9 302.8,858.3 295.5,858.3 288.2,859.5 283.3,861.3 280.9,863.2 285.7,864.4 293.0,865.0 300.3,865.2 305.2,866.2 300.3,867.4 293.0,867.2 285.7,868.0 278.4,868.6 271.1,868.4 263.8,868.0 256.5,867.7 250.4,867.4 245.6,866.8 242.5,865.0 244.3,862.6 248.0,860.7 252.3,859.5" fill="#FFE100" stroke="#FFE100" stroke-width="0.4" stroke-linejoin="round"/>
<polygon points="253.5,860.1 258.9,857.7 265.0,855.9 273.6,855.9 283.3,855.9 286.3,857.1 283.3,860.1 280.2,862.6 283.3,864.4 288.2,865.2 285.7,866.4 278.4,866.4 271.1,866.2 263.8,866.2 256.5,866.0 250.4,865.6 248.0,864.4 250.4,862.6" fill="#FFA500" stroke="#FFA500" stroke-width="0.4" stroke-linejoin="round"/>
<polygon points="247.4,865.0 251.6,863.2 256.5,861.9 262.6,861.3 266.9,861.9 268.7,863.5 274.8,864.0 283.3,864.4 289.4,865.2 285.7,866.2 278.4,866.4 268.7,866.8 258.9,866.8 251.6,866.4 248.0,866.2" fill="#FF4500" stroke="#FF4500" stroke-width="0.4" stroke-linejoin="round"/>
<polygon points="254.7,864.7 261.4,864.0 268.7,864.4 276.0,864.7 283.3,865.2 278.4,866.0 268.7,866.2 258.9,866.0 255.3,865.6" fill="#B22222" stroke="#B22222" stroke-width="0.4" stroke-linejoin="round"/>
<polygon points="286.3,862.6 290.6,860.1 297.9,858.9 305.2,859.1 308.0,859.5 308.0,864.4 304.0,864.7 297.9,864.0 291.8,863.8 287.6,863.5" fill="#F5E6BE" stroke="#F5E6BE" stroke-width="0.4" stroke-linejoin="round"/>
<polygon points="293.0,861.9 299.1,861.1 305.2,861.3 308.0,861.9 308.0,863.2 302.8,863.2 296.7,862.8" fill="#98BE32" stroke="#98BE32" stroke-width="0.4" stroke-linejoin="round"/>
<polygon points="255.3,869.2 261.4,868.6 268.7,869.2 273.6,870.5 278.4,871.7 273.6,872.9 266.3,872.9 260.2,872.3 255.9,871.1" fill="#98BE32" stroke="#98BE32" stroke-width="0.4" stroke-linejoin="round"/>
<polygon points="268.7,871.1 274.8,870.5 283.3,871.1 293.0,871.7 293.0,873.5 283.3,873.8 274.8,873.3 269.9,872.5" fill="#BDEE68" stroke="#BDEE68" stroke-width="0.4" stroke-linejoin="round"/>
<polygon points="277.2,872.0 285.7,871.7 295.5,871.3 302.8,870.5 308.0,869.9 308.0,875.9 304.0,875.7 299.1,874.7 295.5,873.5 288.2,873.8 280.9,873.8 277.8,873.3" fill="#20B2AA" stroke="#20B2AA" stroke-width="0.4" stroke-linejoin="round"/>
<polygon points="220.0,874.7 244.3,874.1 256.5,874.7 268.7,875.3 280.9,875.7 293.0,875.9 308.0,876.2 308.0,880.2 220.0,880.2" fill="#FFE100" stroke="#FFE100" stroke-width="0.4" stroke-linejoin="round"/>
<polygon points="220.0,880.2 308.0,880.2 308.0,884.5 220.0,884.5" fill="#FFFFFF" stroke="#FFFFFF" stroke-width="0.4" stroke-linejoin="round"/>
</g>
<clipPath id="c44"><rect x="308" y="809" width="89" height="74"/></clipPath>
<g clip-path="url(#c44)">
<rect x="307.5" y="808.5" width="90" height="75" fill="#98BE32"/>
<polygon points="308.0,809.0 367.1,809.0 369.5,812.7 372.0,815.8 369.5,818.2 365.9,816.4 362.2,813.9 359.1,817.6 360.3,821.3 364.0,822.5 367.1,825.0 365.9,828.1 362.2,828.7 359.1,825.6 356.0,823.2 352.3,823.2 349.9,826.2 351.1,829.9 356.0,832.4 360.9,834.2 363.4,836.1 359.7,837.1 354.8,835.5 349.9,833.0 346.2,829.9 343.7,826.2 340.0,823.2 335.1,820.7 327.7,818.2 320.3,817.0 312.9,817.4 308.0,818.2" fill="#F5E6BE" stroke="#F5E6BE" stroke-width="0.4" stroke-linejoin="round"/>
<polygon points="381.9,809.0 385.6,809.0 386.2,813.9 384.3,816.4 381.9,813.9" fill="#F5E6BE" stroke="#F5E6BE" stroke-width="0.4" stroke-linejoin="round"/>
<polygon points="391.7,809.0 397.0,809.0 397.0,838.5 394.2,837.9 390.5,835.5 389.2,831.2 391.7,826.2 392.9,820.1 392.3,813.9" fill="#F5E6BE" stroke="#F5E6BE" stroke-width="0.4" stroke-linejoin="round"/>
<polygon points="392.9,822.5 397.0,821.3 397.0,837.3 394.2,836.1 392.3,831.2" fill="#DEB887" stroke="#DEB887" stroke-width="0.4" stroke-linejoin="round"/>
<polygon points="309.2,833.6 314.2,832.1 320.3,833.0 324.6,835.5 321.5,837.9 316.6,839.5 311.7,837.9" fill="#F5E6BE" stroke="#F5E6BE" stroke-width="0.4" stroke-linejoin="round"/>
<polygon points="328.9,826.8 332.0,826.0 334.1,828.1 332.4,829.9 329.5,829.3" fill="#F5E6BE" stroke="#F5E6BE" stroke-width="0.4" stroke-linejoin="round"/>
<polygon points="316.0,824.4 319.7,823.8 320.3,825.6 316.6,826.0" fill="#F5E6BE" stroke="#F5E6BE" stroke-width="0.4" stroke-linejoin="round"/>
<polygon points="375.1,826.2 378.2,823.2 381.9,821.9 383.1,825.0 381.2,829.3 378.2,831.2 375.7,829.9" fill="#F5E6BE" stroke="#F5E6BE" stroke-width="0.4" stroke-linejoin="round"/>
<polygon points="370.2,834.9 374.5,832.4 379.4,833.0 382.5,837.3 380.6,839.8 375.1,839.8 371.4,837.9" fill="#F5E6BE" stroke="#F5E6BE" stroke-width="0.4" stroke-linejoin="round"/>
<polygon points="356.0,844.7 360.9,844.1 364.0,845.3 360.9,846.2 356.6,845.9" fill="#F5E6BE" stroke="#F5E6BE" stroke-width="0.4" stroke-linejoin="round"/>
<polygon points="317.8,844.9 322.8,844.7 323.0,845.9 318.5,846.2" fill="#F5E6BE" stroke="#F5E6BE" stroke-width="0.4" stroke-linejoin="round"/>
<polygon points="376.3,849.6 379.4,846.5 386.8,845.9 394.2,847.8 397.0,848.4 397.0,851.5 391.7,852.1 384.3,852.3 378.2,852.1" fill="#F5E6BE" stroke="#F5E6BE" stroke-width="0.4" stroke-linejoin="round"/>
<polygon points="346.2,815.2 349.2,810.8 351.1,812.1 349.9,815.8 347.1,818.2" fill="#BDEE68" stroke="#BDEE68" stroke-width="0.4" stroke-linejoin="round"/>
<polygon points="372.0,820.7 375.1,819.8 376.3,822.5 373.9,823.8" fill="#BDEE68" stroke="#BDEE68" stroke-width="0.4" stroke-linejoin="round"/>
<polygon points="381.9,831.8 384.3,827.5 388.0,826.2 386.8,831.2 384.3,834.2" fill="#BDEE68" stroke="#BDEE68" stroke-width="0.4" stroke-linejoin="round"/>
<polygon points="385.6,822.5 387.4,817.6 389.9,817.0 390.2,821.3 388.0,826.2 386.2,825.6" fill="#BDEE68" stroke="#BDEE68" stroke-width="0.4" stroke-linejoin="round"/>
<polygon points="375.1,810.8 378.8,810.5 378.2,813.9 375.7,814.5" fill="#BDEE68" stroke="#BDEE68" stroke-width="0.4" stroke-linejoin="round"/>
<polygon points="389.2,809.0 391.7,809.0 392.3,812.7 390.5,813.9" fill="#BDEE68" stroke="#BDEE68" stroke-width="0.4" stroke-linejoin="round"/>
<polygon points="330.8,844.7 334.5,842.9 340.0,844.7 344.9,847.8 351.1,847.2 357.2,847.8 359.7,849.6 356.0,850.9 349.9,850.9 343.7,850.2 337.5,849.0 332.6,847.2" fill="#BDEE68" stroke="#BDEE68" stroke-width="0.4" stroke-linejoin="round"/>
<polygon points="367.1,842.0 370.2,841.0 373.2,842.2 370.8,843.7 367.7,843.5" fill="#BDEE68" stroke="#BDEE68" stroke-width="0.4" stroke-linejoin="round"/>
<polygon points="327.7,842.0 330.8,841.7 331.1,842.9 328.3,843.0" fill="#BDEE68" stroke="#BDEE68" stroke-width="0.4" stroke-linejoin="round"/>
<polygon points="349.2,837.9 351.7,837.6 352.1,839.2 349.9,839.5" fill="#BDEE68" stroke="#BDEE68" stroke-width="0.4" stroke-linejoin="round"/>
<polygon points="308.0,848.4 312.9,847.4 320.3,848.4 327.7,849.6 333.9,850.9 335.1,852.7 330.2,854.3 322.8,854.5 315.4,853.9 308.0,853.3" fill="#BDEE68" stroke="#BDEE68" stroke-width="0.4" stroke-linejoin="round"/>
<polygon points="318.5,851.5 322.8,850.9 328.3,851.8 327.7,853.1 322.8,853.3 318.8,852.8" fill="#20B2AA" stroke="#20B2AA" stroke-width="0.4" stroke-linejoin="round"/>
<polygon points="308.0,852.7 315.4,854.3 322.8,854.8 330.2,854.5 336.3,853.3 344.9,852.3 354.8,852.3 364.6,852.3 374.5,852.3 384.3,852.1 394.2,851.5 397.0,851.5 397.0,853.3 389.2,853.9 379.4,854.3 369.5,854.5 359.7,854.8 349.9,855.2 342.5,856.4 335.1,857.3 327.7,857.6 320.3,857.3 312.9,856.4 308.0,855.2" fill="#F5E6BE" stroke="#F5E6BE" stroke-width="0.4" stroke-linejoin="round"/>
<polygon points="308.0,853.9 315.4,855.2 322.8,855.8 330.2,855.5 337.5,854.3 347.4,853.6 357.2,853.3 369.5,853.3 381.9,853.1 397.0,852.3 397.0,853.6 381.9,854.3 369.5,854.8 357.2,855.0 347.4,855.5 340.0,856.8 332.6,857.5 322.8,857.5 315.4,856.8 308.0,855.5" fill="#DEB887" stroke="#DEB887" stroke-width="0.4" stroke-linejoin="round"/>
<polygon points="308.0,854.8 315.4,856.4 322.8,857.3 332.6,857.3 340.0,856.4 347.4,855.5 357.2,855.0 369.5,854.8 381.9,854.3 397.0,853.6 397.0,860.7 391.7,861.3 384.3,860.9 376.9,860.7 369.5,861.3 362.2,862.2 354.8,862.9 347.4,863.4 340.0,863.2 332.6,863.2 325.2,862.9 317.8,861.9 312.9,860.1 308.0,859.2" fill="#FFE100" stroke="#FFE100" stroke-width="0.4" stroke-linejoin="round"/>
<polygon points="321.5,861.3 326.5,860.5 330.8,861.3 328.9,862.9 323.4,862.9" fill="#FFA500" stroke="#FFA500" stroke-width="0.4" stroke-linejoin="round"/>
<polygon points="357.2,858.9 364.6,858.0 374.5,858.0 384.3,858.2 391.7,857.6 397.0,857.0 397.0,859.7 391.7,860.1 381.9,860.1 372.0,859.7 363.4,859.7 358.5,859.7" fill="#FFA500" stroke="#FFA500" stroke-width="0.4" stroke-linejoin="round"/>
<polygon points="308.0,859.2 312.9,860.1 314.2,862.5 308.0,863.2" fill="#DEB887" stroke="#DEB887" stroke-width="0.4" stroke-linejoin="round"/>
<polygon points="313.5,865.0 319.1,863.8 327.7,863.8 336.3,864.4 342.5,865.4 338.8,867.5 330.2,868.1 321.5,868.1 315.4,867.1" fill="#BDEE68" stroke="#BDEE68" stroke-width="0.4" stroke-linejoin="round"/>
<polygon points="318.5,865.6 324.0,865.0 331.4,865.4 336.3,866.2 331.4,867.1 324.0,867.1 319.1,866.6" fill="#20B2AA" stroke="#20B2AA" stroke-width="0.4" stroke-linejoin="round"/>
<polygon points="362.2,863.8 367.1,862.2 374.5,861.7 381.9,862.2 388.0,863.8 388.6,866.2 384.3,868.3 376.9,869.3 369.5,869.1 364.0,867.5" fill="#BDEE68" stroke="#BDEE68" stroke-width="0.4" stroke-linejoin="round"/>
<polygon points="367.1,865.0 372.0,863.4 379.4,863.4 384.3,865.0 383.1,866.9 376.9,867.8 370.8,867.5 367.7,866.6" fill="#20B2AA" stroke="#20B2AA" stroke-width="0.4" stroke-linejoin="round"/>
<polygon points="332.0,869.9 337.5,868.1 344.9,866.9 352.3,866.2 359.7,866.6 364.6,868.1 362.2,870.3 357.2,872.4 349.9,874.2 342.5,874.5 336.3,873.0" fill="#F5E6BE" stroke="#F5E6BE" stroke-width="0.4" stroke-linejoin="round"/>
<polygon points="340.0,870.5 344.9,868.7 352.3,867.8 358.5,868.7 357.2,870.5 351.1,872.4 344.9,872.8 341.0,872.0" fill="#DEB887" stroke="#DEB887" stroke-width="0.4" stroke-linejoin="round"/>
<polygon points="308.0,869.9 314.2,869.3 321.5,869.9 326.5,871.8 325.2,874.2 319.1,875.5 311.7,875.7 308.0,875.5" fill="#BDEE68" stroke="#BDEE68" stroke-width="0.4" stroke-linejoin="round"/>
<polygon points="308.0,871.5 312.9,871.2 319.1,871.8 320.3,873.0 315.4,874.2 308.0,874.5" fill="#20B2AA" stroke="#20B2AA" stroke-width="0.4" stroke-linejoin="round"/>
<polygon points="354.8,874.9 359.7,873.0 367.1,872.0 373.2,873.0 374.5,875.5 369.5,877.0 359.7,877.3 355.4,876.5" fill="#BDEE68" stroke="#BDEE68" stroke-width="0.4" stroke-linejoin="round"/>
<polygon points="385.6,861.3 391.7,861.7 397.0,861.3 397.0,885.3 386.8,885.3 385.6,876.1 389.2,870.5 388.0,865.6" fill="#F5E6BE" stroke="#F5E6BE" stroke-width="0.4" stroke-linejoin="round"/>
<polygon points="389.9,863.2 397.0,862.5 397.0,870.5 392.9,870.5 390.5,868.1" fill="#DEB887" stroke="#DEB887" stroke-width="0.4" stroke-linejoin="round"/>
<polygon points="393.6,865.0 397.0,864.6 397.0,868.7 394.2,868.3" fill="#FFE100" stroke="#FFE100" stroke-width="0.4" stroke-linejoin="round"/>
<polygon points="308.0,876.5 320.3,877.0 332.6,877.3 344.9,877.3 357.2,877.7 369.5,877.3 386.8,876.5 386.8,885.3 308.0,885.3" fill="#F5E6BE" stroke="#F5E6BE" stroke-width="0.4" stroke-linejoin="round"/>
<polygon points="308.0,877.7 386.8,877.4 386.8,878.7 344.9,878.9 308.0,878.6" fill="#DEB887" stroke="#DEB887" stroke-width="0.4" stroke-linejoin="round"/>
<polygon points="308.0,878.6 344.9,878.9 348.6,879.8 308.0,880.2" fill="#FFE100" stroke="#FFE100" stroke-width="0.4" stroke-linejoin="round"/>
<polygon points="308.0,880.2 397.0,880.2 397.0,885.3 308.0,885.3" fill="#FFFFFF" stroke="#FFFFFF" stroke-width="0.4" stroke-linejoin="round"/>
</g>
<clipPath id="c45"><rect x="397" y="809" width="88" height="74"/></clipPath>
<g clip-path="url(#c45)">
<rect x="396.5" y="808.5" width="89" height="75" fill="#F5E6BE"/>
<polygon points="417.7,813.9 421.3,809.0 462.7,809.0 461.5,812.7 459.1,815.1 462.7,817.5 461.5,821.2 456.6,822.4 450.6,821.2 445.7,820.0 439.6,820.6 433.5,820.0 428.6,819.3 425.0,820.6 421.3,818.7 418.9,816.3" fill="#98BE32" stroke="#98BE32" stroke-width="0.4" stroke-linejoin="round"/>
<polygon points="423.8,811.4 427.4,809.0 429.9,812.7 428.0,815.1 425.0,814.5" fill="#F5E6BE" stroke="#F5E6BE" stroke-width="0.4" stroke-linejoin="round"/>
<polygon points="435.9,809.0 440.8,809.0 441.4,812.0 438.4,813.3 435.9,812.0" fill="#F5E6BE" stroke="#F5E6BE" stroke-width="0.4" stroke-linejoin="round"/>
<polygon points="449.3,812.7 453.0,810.8 457.9,811.4 459.1,814.5 455.4,816.3 451.2,815.7" fill="#F5E6BE" stroke="#F5E6BE" stroke-width="0.4" stroke-linejoin="round"/>
<polygon points="465.2,809.0 472.5,809.0 474.3,812.7 472.5,815.1 468.8,814.5 466.4,812.0" fill="#98BE32" stroke="#98BE32" stroke-width="0.4" stroke-linejoin="round"/>
<polygon points="481.0,809.0 485.0,809.0 485.0,815.1 482.2,814.5 480.4,812.0" fill="#98BE32" stroke="#98BE32" stroke-width="0.4" stroke-linejoin="round"/>
<polygon points="462.7,824.8 467.6,823.0 474.9,821.2 482.2,821.8 485.0,823.0 485.0,829.1 481.0,830.3 474.9,830.9 468.8,830.9 464.6,829.1" fill="#98BE32" stroke="#98BE32" stroke-width="0.4" stroke-linejoin="round"/>
<polygon points="471.9,827.3 476.1,824.8 481.0,826.0 482.2,828.5 477.3,829.7 473.1,829.4" fill="#F5E6BE" stroke="#F5E6BE" stroke-width="0.4" stroke-linejoin="round"/>
<polygon points="465.8,837.6 470.0,834.0 476.1,832.1 482.2,832.7 485.0,833.3 485.0,837.0 479.8,838.2 472.5,839.4 467.6,839.4" fill="#98BE32" stroke="#98BE32" stroke-width="0.4" stroke-linejoin="round"/>
<polygon points="474.9,845.5 481.0,843.7 485.0,843.1 485.0,847.9 479.8,847.9 476.1,847.3" fill="#98BE32" stroke="#98BE32" stroke-width="0.4" stroke-linejoin="round"/>
<polygon points="398.8,822.4 401.9,818.7 404.3,812.7 406.7,809.0 414.0,809.0 412.8,813.9 411.6,818.7 409.2,821.2 407.3,824.8 409.2,828.5 411.6,833.3 416.5,835.8 421.3,838.2 422.0,841.3 416.5,842.5 410.4,841.9 405.5,840.0 403.1,837.0 404.3,833.3 406.1,829.7 404.3,826.0 400.7,825.4" fill="#98BE32" stroke="#98BE32" stroke-width="0.4" stroke-linejoin="round"/>
<polygon points="401.9,820.0 404.3,813.9 406.1,809.0 412.2,809.0 411.4,813.9 409.8,818.1 406.7,820.6 403.7,822.4" fill="#BDEE68" stroke="#BDEE68" stroke-width="0.4" stroke-linejoin="round"/>
<polygon points="405.5,816.3 407.3,810.2 408.6,809.0 411.0,809.0 410.6,812.7 409.2,817.5 406.7,818.7" fill="#20B2AA" stroke="#20B2AA" stroke-width="0.4" stroke-linejoin="round"/>
<polygon points="397.0,809.0 403.1,809.0 402.5,812.0 399.4,812.7 397.0,812.0" fill="#FFE100" stroke="#FFE100" stroke-width="0.4" stroke-linejoin="round"/>
<polygon points="415.0,824.2 417.7,823.0 419.9,824.8 419.5,828.5 417.1,829.7 415.3,827.9" fill="#DEB887" stroke="#DEB887" stroke-width="0.4" stroke-linejoin="round"/>
<polygon points="397.0,816.3 399.4,815.7 400.0,818.7 397.0,819.3" fill="#DEB887" stroke="#DEB887" stroke-width="0.4" stroke-linejoin="round"/>
<polygon points="397.0,828.5 400.0,827.9 401.9,830.3 400.0,832.7 397.0,833.3" fill="#DEB887" stroke="#DEB887" stroke-width="0.4" stroke-linejoin="round"/>
<polygon points="423.2,824.2 425.6,822.6 426.8,824.8 425.6,827.3 423.5,826.6" fill="#98BE32" stroke="#98BE32" stroke-width="0.4" stroke-linejoin="round"/>
<polygon points="445.1,838.2 449.3,837.6 452.4,838.8 449.3,840.0 445.7,839.4" fill="#98BE32" stroke="#98BE32" stroke-width="0.4" stroke-linejoin="round"/>
<polygon points="455.4,830.9 457.9,830.7 458.1,831.9 455.7,832.1" fill="#98BE32" stroke="#98BE32" stroke-width="0.4" stroke-linejoin="round"/>
<polygon points="397.0,843.7 401.9,843.3 408.0,843.7 409.8,845.5 406.7,847.3 401.9,848.6 397.0,848.9" fill="#98BE32" stroke="#98BE32" stroke-width="0.4" stroke-linejoin="round"/>
<polygon points="414.0,845.5 421.3,843.7 431.1,843.1 443.3,842.1 453.0,842.5 460.3,843.7 467.6,846.1 473.7,849.2 472.5,851.6 466.4,852.8 460.3,854.6 456.6,857.1 450.6,858.7 443.3,858.9 435.9,858.3 428.6,856.7 422.6,854.6 417.7,852.2 414.0,849.2" fill="#DEB887" stroke="#DEB887" stroke-width="0.4" stroke-linejoin="round"/>
<polygon points="417.7,847.9 422.6,845.5 429.9,844.9 438.4,845.3 445.7,844.9 453.0,844.3 459.1,845.5 463.9,847.9 465.8,849.8 460.3,851.0 455.4,852.8 454.8,855.9 450.6,857.1 443.3,857.4 435.9,856.5 429.9,854.6 425.0,852.8 420.1,851.0" fill="#FFE100" stroke="#FFE100" stroke-width="0.4" stroke-linejoin="round"/>
<polygon points="397.0,851.0 400.7,850.4 405.5,851.0 409.2,852.8 409.8,855.9 406.7,857.1 401.9,857.7 397.0,858.3" fill="#FFE100" stroke="#FFE100" stroke-width="0.4" stroke-linejoin="round"/>
<polygon points="409.2,852.2 412.8,851.6 413.4,854.6 411.0,856.5 409.8,855.3" fill="#DEB887" stroke="#DEB887" stroke-width="0.4" stroke-linejoin="round"/>
<polygon points="414.0,855.9 417.7,854.6 423.8,855.9 431.1,857.7 438.4,859.5 445.7,860.1 450.6,861.3 449.3,863.8 444.5,865.0 438.4,864.4 433.5,862.6 428.6,860.7 422.6,859.5 416.5,858.9 414.0,857.4" fill="#98BE32" stroke="#98BE32" stroke-width="0.4" stroke-linejoin="round"/>
<polygon points="418.3,857.7 423.8,857.4 429.9,858.7 427.4,859.9 421.3,859.5" fill="#BDEE68" stroke="#BDEE68" stroke-width="0.4" stroke-linejoin="round"/>
<polygon points="440.2,861.9 445.7,861.1 449.3,862.3 446.9,864.0 442.0,864.0" fill="#BDEE68" stroke="#BDEE68" stroke-width="0.4" stroke-linejoin="round"/>
<polygon points="465.8,855.3 472.5,854.0 479.8,853.8 485.0,854.6 485.0,860.1 479.8,860.7 473.7,860.1 468.8,858.9 466.1,857.4" fill="#98BE32" stroke="#98BE32" stroke-width="0.4" stroke-linejoin="round"/>
<polygon points="474.9,855.9 481.0,855.0 485.0,855.9 485.0,859.1 479.8,859.1 476.1,858.3" fill="#BDEE68" stroke="#BDEE68" stroke-width="0.4" stroke-linejoin="round"/>
<polygon points="481.0,855.5 485.0,855.0 485.0,858.7 482.2,858.3" fill="#20B2AA" stroke="#20B2AA" stroke-width="0.4" stroke-linejoin="round"/>
<polygon points="397.0,863.8 401.9,862.6 409.2,860.7 415.3,861.3 423.8,862.6 431.1,863.8 437.2,865.6 439.0,868.0 433.5,869.2 426.2,869.6 418.9,869.6 411.6,869.2 404.3,868.9 397.0,868.6" fill="#FFE100" stroke="#FFE100" stroke-width="0.4" stroke-linejoin="round"/>
<polygon points="399.4,865.0 405.5,863.2 412.8,862.6 421.3,863.5 428.6,864.4 434.7,866.2 435.9,868.0 428.6,868.6 418.9,868.6 409.2,868.4 401.9,867.7" fill="#FFA500" stroke="#FFA500" stroke-width="0.4" stroke-linejoin="round"/>
<polygon points="401.9,866.0 408.0,864.0 415.3,863.5 422.6,864.4 428.6,865.2 433.5,866.8 427.4,868.0 418.9,868.0 410.4,867.7 404.3,867.2" fill="#FF4500" stroke="#FF4500" stroke-width="0.4" stroke-linejoin="round"/>
<polygon points="405.5,866.0 411.6,864.4 417.7,864.4 421.3,865.6 417.7,867.2 411.6,867.2 407.3,866.9" fill="#B22222" stroke="#B22222" stroke-width="0.4" stroke-linejoin="round"/>
<polygon points="408.0,866.0 412.8,864.7 418.9,865.2 420.7,866.4 415.3,866.9 410.4,866.7" fill="#FFB6C1" stroke="#FFB6C1" stroke-width="0.4" stroke-linejoin="round"/>
<polygon points="401.9,858.9 405.5,857.9 408.0,859.5 406.7,861.9 403.7,862.6 401.9,861.1" fill="#BDEE68" stroke="#BDEE68" stroke-width="0.4" stroke-linejoin="round"/>
<polygon points="453.0,862.6 457.9,860.7 463.9,860.7 466.4,862.6 462.7,864.4 457.9,865.0 454.2,864.4" fill="#FFE100" stroke="#FFE100" stroke-width="0.4" stroke-linejoin="round"/>
<polygon points="449.3,867.4 454.2,865.6 460.3,865.2 462.7,867.4 457.9,869.9 451.8,869.9" fill="#DEB887" stroke="#DEB887" stroke-width="0.4" stroke-linejoin="round"/>
<polygon points="456.6,868.6 462.7,866.2 470.0,864.4 477.3,863.2 485.0,862.6 485.0,875.3 479.8,874.7 472.5,873.5 465.2,872.3 459.1,871.3" fill="#FFE100" stroke="#FFE100" stroke-width="0.4" stroke-linejoin="round"/>
<polygon points="465.2,868.6 471.2,865.6 478.5,864.0 485.0,863.8 485.0,873.5 479.8,872.9 472.5,871.7 467.6,870.5" fill="#FFA500" stroke="#FFA500" stroke-width="0.4" stroke-linejoin="round"/>
<polygon points="470.0,868.4 476.1,866.0 482.2,865.0 485.0,864.7 485.0,872.3 481.0,871.7 474.9,870.5 471.2,869.6" fill="#FF4500" stroke="#FF4500" stroke-width="0.4" stroke-linejoin="round"/>
<polygon points="474.9,868.6 479.8,866.8 485.0,866.2 485.0,871.1 481.0,870.8 477.3,869.9" fill="#B22222" stroke="#B22222" stroke-width="0.4" stroke-linejoin="round"/>
<polygon points="404.3,872.9 411.6,871.7 421.3,871.3 433.5,871.7 445.7,872.3 455.4,874.1 465.2,876.2 455.4,877.2 443.3,877.4 431.1,877.2 418.9,876.6 409.2,875.3 404.9,874.1" fill="#98BE32" stroke="#98BE32" stroke-width="0.4" stroke-linejoin="round"/>
<polygon points="417.7,873.3 426.2,872.5 433.5,873.3 428.6,874.5 420.1,874.5" fill="#BDEE68" stroke="#BDEE68" stroke-width="0.4" stroke-linejoin="round"/>
<polygon points="397.0,876.6 409.2,877.2 427.4,878.1 445.7,878.6 463.9,878.6 485.0,877.8 485.0,880.2 397.0,880.2" fill="#DEB887" stroke="#DEB887" stroke-width="0.4" stroke-linejoin="round"/>
<polygon points="397.0,880.2 485.0,880.2 485.0,884.5 397.0,884.5" fill="#FFFFFF" stroke="#FFFFFF" stroke-width="0.4" stroke-linejoin="round"/>
</g>
<defs><g id="cst"><path d="M434.6,66.5 L439.5,67.4 L442.0,66.6 M0.0,66.6 L3.7,65.3 L12.3,64.7 L13.5,69.4 L18.4,70.7 L24.6,72.4 L30.7,71.5 L39.3,72.2 L42.4,74.9 L43.6,81.0 L45.8,84.7 L48.5,91.5 L53.2,95.8 L55.2,97.6 L62.9,96.0 L58.9,104.4 L51.6,112.3 L48.5,117.3 L49.7,124.0 L49.7,128.9 L43.0,135.1 L43.6,140.0 L40.3,142.4 L38.1,147.3 L31.9,152.2 L24.6,153.2 L22.5,151.0 L18.4,143.7 L14.7,132.6 L16.6,125.2 L14.7,117.3 L11.1,111.7 L11.7,105.8 L6.1,103.7 L0.0,104.0 M442.0,104.0 L437.1,104.1 L432.2,105.1 L426.0,100.1 L421.1,92.5 L421.7,85.9 L426.0,76.7 L430.0,71.8 L434.6,66.5 M435.2,66.3 L431.0,65.1 L430.3,62.6 L431.0,57.7 L439.5,57.1 L440.5,54.0 L436.5,51.1 L440.2,50.7 L442.0,49.5 M0.0,49.5 L2.5,47.9 L4.9,46.7 L9.8,44.2 L10.4,40.5 L12.9,39.7 L12.3,43.0 L14.7,44.2 L17.2,44.2 L23.3,43.6 L25.8,40.5 L29.5,39.9 L28.9,37.7 L34.4,37.2 L36.8,36.8 L28.2,36.8 L25.8,35.6 L26.4,33.2 L30.7,30.1 L27.0,29.7 L20.9,34.4 L22.1,36.8 L20.3,40.5 L17.2,42.4 L15.3,41.7 L13.5,38.1 L8.6,39.3 L6.1,36.8 L6.1,34.4 L12.3,31.9 L17.2,27.6 L22.1,25.2 L30.7,23.3 L38.1,24.6 L50.3,28.2 L49.1,29.5 L41.7,28.9 L40.5,30.7 L45.4,31.9 L49.1,31.1 L54.0,28.9 L54.0,27.0 L66.3,26.4 L73.7,25.8 L83.5,26.4 L82.3,22.1 L89.6,21.5 L89.6,27.0 L92.1,22.1 L98.2,20.3 L106.8,17.8 L122.8,16.6 L128.9,15.1 L138.7,17.2 L131.4,20.3 L141.2,19.9 L155.9,20.9 L159.6,23.3 L171.9,21.5 L184.2,22.7 L196.4,24.6 L208.7,25.2 L221.0,25.8 L233.3,29.3 L229.6,31.3 L221.0,30.7 L217.3,33.8 L208.7,36.8 L200.1,37.1 L198.9,41.7 L192.1,47.9 L191.5,40.5 L197.7,36.2 L191.5,35.0 L184.2,37.4 L174.3,38.1 L165.8,43.6 L173.1,45.4 L171.9,51.6 L165.8,57.1 L159.6,58.3 L156.5,62.0 L159.0,65.1 L158.4,67.5 L155.3,68.1 L154.7,64.5 L153.5,62.0 L149.2,62.6 L149.8,60.4 L144.9,62.6 L146.1,64.8 L150.4,65.1 L146.7,67.5 L149.2,71.2 L149.8,73.7 L147.3,78.6 L142.4,82.3 L135.1,84.1 L132.6,84.1 L130.1,87.2 L133.8,94.5 L131.4,97.6 L128.9,99.5 L123.4,93.9 L122.2,99.5 L127.1,108.7 L124.0,106.8 L120.9,100.7 L120.3,93.3 L116.0,90.9 L115.4,86.6 L111.7,82.9 L106.8,84.1 L98.2,91.5 L98.2,94.5 L95.2,100.7 L89.6,89.6 L89.0,84.7 L85.9,84.7 L82.3,80.4 L74.9,79.6 L70.0,78.6 L68.8,77.4 L61.4,73.7 L58.9,73.7 L62.6,78.6 L63.2,80.7 L66.3,81.0 L69.4,78.6 L73.4,82.9 L67.5,89.6 L55.2,94.5 L52.8,94.5 L52.2,90.9 L47.9,84.7 L43.0,76.1 L42.4,74.9 M39.3,72.2 L42.4,71.8 L44.2,66.3 L40.5,66.1 L36.8,65.7 L33.8,65.1 L32.5,62.0 L35.6,60.2 L38.1,59.9 L43.0,58.9 L46.7,60.2 L51.0,59.5 L47.9,56.5 L45.4,54.6 L43.0,55.2 L41.1,55.9 L40.5,54.0 L37.4,54.0 L35.0,57.1 L34.4,59.5 L31.9,60.4 L29.5,60.8 L28.2,63.8 L27.0,65.7 L25.8,63.2 L23.9,60.2 L23.3,58.3 L17.2,55.0 L15.3,56.5 L17.2,58.9 L19.6,59.2 L22.7,61.1 L20.9,62.6 L19.6,63.8 L19.6,61.4 L15.3,59.5 L12.9,57.7 L10.8,56.0 L7.4,57.7 L3.7,57.5 L3.7,59.5 L0.0,61.4 L0.0,63.0 L0.0,63.0 M442.0,63.0 L439.5,65.3 L435.2,66.3 M60.2,53.4 L65.1,53.4 L63.8,55.2 L65.7,58.9 L65.7,61.4 L66.3,65.1 L61.4,64.7 L60.2,62.6 L60.8,60.2 L58.3,57.7 L57.7,55.9 L60.2,53.4 M435.2,49.1 L442.0,48.0 M0.0,48.0 L1.8,47.6 L2.1,45.7 L0.0,44.8 L0.0,44.8 M442.0,44.8 L440.2,43.0 L439.5,39.9 L437.1,39.7 L438.3,38.6 L435.9,38.7 L434.6,41.1 L435.9,43.0 L438.3,43.2 L438.3,44.9 L436.5,45.4 L435.9,47.0 L438.3,47.4 L435.2,49.1 M434.6,46.4 L434.6,43.6 L432.2,42.7 L429.7,44.2 L429.7,46.7 L434.6,46.4 M412.5,30.1 L415.0,29.0 L422.4,28.9 L424.8,30.7 L419.9,32.7 L414.4,32.2 L412.5,30.1 M235.7,30.1 L243.1,28.9 L238.2,26.4 L249.2,23.1 L268.9,24.9 L284.8,24.6 L300.8,26.4 L309.4,27.0 L324.1,27.0 L326.6,22.7 L334.0,26.4 L341.3,25.2 L342.6,28.2 L335.2,31.9 L327.8,35.0 L325.4,38.1 L328.4,40.5 L337.6,42.6 L341.3,45.7 L345.0,47.3 L345.0,43.6 L347.5,40.5 L346.2,36.8 L346.8,33.8 L351.8,34.0 L356.1,35.6 L358.5,38.7 L362.2,36.8 L366.5,41.7 L373.2,46.7 L368.3,49.1 L360.4,48.9 L354.8,53.0 L362.2,50.3 L362.8,53.4 L367.1,54.6 L361.0,57.1 L356.1,57.1 L355.4,59.3 L351.1,60.8 L348.7,63.8 L348.7,67.5 L342.6,71.8 L343.8,78.0 L343.2,79.8 L340.7,76.1 L338.9,73.7 L332.7,73.4 L326.6,74.3 L322.3,77.4 L322.3,83.5 L324.7,87.4 L330.3,87.5 L330.9,84.7 L335.2,84.1 L334.0,90.9 L338.9,91.1 L339.5,97.0 L342.6,99.7 L344.4,98.8 L347.5,100.1 L353.6,95.8 L356.1,95.8 L363.4,97.6 L367.1,97.6 L372.0,103.1 L378.2,104.4 L380.6,110.5 L388.0,113.6 L396.6,116.0 L399.0,119.1 L394.1,126.5 L394.1,132.6 L390.4,138.7 L383.1,142.4 L381.8,146.1 L376.3,152.2 L372.0,153.5 L372.0,157.2 L365.9,158.4 L362.2,160.8 L364.0,162.7 L361.6,165.8 L359.1,167.6 L361.3,169.4 L357.3,173.1 L357.9,175.6 L354.8,176.8 L350.5,174.3 L349.3,168.2 L352.4,162.1 L351.8,155.9 L354.2,147.3 L355.4,132.6 L348.7,127.7 L342.6,117.9 L343.8,113.6 L343.8,109.3 L346.8,105.6 L346.8,101.7 L343.8,100.1 L340.1,100.3 L337.0,98.2 L334.6,94.5 L329.0,92.7 L325.4,90.9 L313.1,86.6 L312.5,82.9 L308.2,78.6 L303.3,72.1 L301.2,72.4 L305.7,78.6 L307.6,82.3 L304.5,79.8 L300.8,74.3 L298.4,70.6 L294.1,68.1 L291.6,64.5 L289.4,61.0 L289.8,54.0 L291.0,50.3 L284.8,47.9 L278.7,42.4 L273.8,38.7 L262.7,36.2 L255.4,38.1 L252.9,40.5 L248.0,41.7 L240.0,43.6 L248.0,38.7 L243.1,38.1 L239.4,35.6 L244.3,31.9 L238.2,31.3 L235.7,30.1 M352.4,14.5 L358.5,12.9 L365.9,10.4 L380.6,9.2 L399.0,8.0 L411.3,8.6 L427.3,10.4 L419.9,12.3 L418.7,16.0 L419.9,18.4 L415.0,22.1 L415.0,23.9 L408.9,26.8 L401.5,28.2 L392.9,30.7 L388.6,36.8 L383.1,35.6 L378.8,31.9 L375.7,27.0 L375.7,23.9 L370.8,17.8 L358.5,17.2 L352.4,14.5 M140.0,137.5 L139.4,142.4 L141.2,152.2 L144.9,153.5 L152.2,151.0 L158.4,149.4 L164.5,150.4 L169.1,153.5 L171.9,157.2 L179.9,158.4 L184.2,155.9 L187.9,148.6 L187.9,141.8 L182.9,136.3 L179.3,133.8 L178.4,128.9 L175.0,123.8 L173.7,126.5 L173.1,132.0 L167.0,129.5 L167.6,125.2 L160.8,124.6 L159.0,128.9 L154.7,127.7 L149.8,132.6 L140.0,137.5 M177.7,160.5 L181.7,160.6 L181.7,163.3 L179.3,163.9 L177.7,160.5 M212.0,152.9 L215.5,155.9 L219.2,156.8 L217.3,159.0 L214.9,161.5 L213.4,158.8 L214.6,155.9 L212.0,152.9 M212.0,160.3 L214.0,161.8 L210.0,165.1 L207.5,167.7 L204.4,167.0 L206.3,164.5 L212.0,160.3 M60.5,125.2 L62.0,129.5 L58.3,141.2 L54.0,141.2 L53.4,136.3 L54.6,130.1 L60.5,125.2 M159.6,71.8 L160.8,68.8 L165.8,66.9 L171.3,63.8 L173.7,60.2 L174.3,62.6 L172.9,66.9 L168.2,68.0 L165.8,69.4 L162.1,70.0 L159.6,71.8 M171.9,59.5 L173.7,54.6 L178.6,57.1 L175.6,58.9 L171.9,59.5 M174.3,54.0 L174.3,44.2 L176.2,49.1 L176.2,53.4 L174.3,54.0 M117.0,103.7 L127.7,113.0 L130.1,117.9 L125.2,115.4 L120.3,108.7 L117.0,103.7 M129.5,118.8 L140.6,119.7 L140.6,121.2 L132.6,120.1 L129.5,118.8 M133.8,108.7 L138.7,106.8 L143.7,101.9 L146.1,104.4 L144.3,109.3 L142.4,115.4 L135.7,114.2 L133.8,108.7 M146.7,117.3 L146.7,109.9 L153.5,108.7 L148.6,111.5 L151.6,116.0 L148.6,114.2 L147.9,117.3 M160.8,111.5 L165.8,114.6 L173.1,113.7 L181.1,117.9 L184.8,123.4 L179.3,120.3 L174.3,121.8 L169.4,120.3 L168.8,116.6 L162.7,115.4 L160.8,111.5 M147.9,87.8 L150.2,88.0 L149.8,93.3 L152.2,94.5 L148.6,93.7 L147.3,90.9 L147.9,87.8 M149.8,101.9 L154.1,98.5 L155.3,101.9 L154.1,103.4 L149.8,101.9 M148.6,79.8 L149.8,80.4 L148.3,83.5 L147.3,81.6 L148.6,79.8 M98.2,98.5 L100.4,101.3 L98.8,103.1 L98.0,100.7 L98.2,98.5 M337.6,83.5 L343.8,82.3 L350.9,85.7 L346.6,86.2 L341.3,83.0 L337.6,83.5 M350.7,88.0 L352.6,86.1 L357.9,87.8 L354.8,88.6 L350.7,88.0 M13.5,12.9 L19.6,12.3 L33.2,12.0 L25.8,14.7 L20.9,16.5 L13.5,12.9 M63.2,22.7 L68.1,20.5 L73.7,17.2 L84.1,16.0 L74.9,18.4 L70.0,22.1 L67.5,23.8 L63.2,22.7 M116.6,13.5 L122.8,11.1 L128.9,13.5 L122.8,14.7 L116.6,13.5 M168.2,17.8 L178.0,17.2 L184.2,18.4 L174.3,20.3 L168.2,17.8 M343.8,20.0 L352.4,22.7 L358.5,24.6 L366.5,28.9 L362.2,33.2 L354.8,33.4 L346.2,31.3 L351.8,27.0 L337.6,24.6 L332.7,20.9 L343.8,20.0 M298.4,22.7 L313.1,20.9 L318.0,24.6 L309.4,26.4 L300.2,25.8 L298.4,22.7 M288.5,22.1 L293.4,19.0 L300.2,20.9 L291.0,23.3 L288.5,22.1 M331.5,16.6 L338.9,13.5 L356.1,8.6 L367.1,9.8 L349.9,12.9 L346.2,16.6 L331.5,16.6 M329.0,18.4 L343.8,17.8 L342.6,19.0 L329.0,19.0 L329.0,18.4 M298.4,17.8 L311.9,17.2 L310.6,18.7 L298.4,17.8 M335.2,30.1 L338.9,29.1 L343.8,31.9 L337.6,33.2 L335.2,30.1 M369.1,51.8 L373.2,47.3 L377.3,52.2 L373.9,53.0 L369.1,51.8 M127.7,47.3 L131.4,45.4 L135.1,42.1 M90.9,53.4 L94.5,53.4 L97.0,53.7 M39.3,110.1 L41.7,110.1 L41.7,113.6 L39.3,113.6 L39.3,110.1 M36.2,114.8 L36.0,117.9 L37.4,120.9 M42.1,122.4 L42.7,125.2 L43.0,128.1 M329.0,53.2 L334.0,51.0 L338.3,53.0 L335.2,53.4 L329.0,53.2 M334.6,59.3 L335.8,54.3 L337.6,54.6 L336.0,58.9 L334.6,59.3 M338.3,54.0 L342.6,54.3 L341.3,57.7 L339.5,56.5 L338.3,54.0 M340.1,58.9 L345.0,58.0 L348.1,57.1 L345.0,56.7 L340.1,58.9 M291.0,29.5 L294.7,28.5 L297.1,29.2 L294.1,30.4 L291.0,29.5 M298.4,35.6 L302.0,34.0 L306.9,33.5 L304.5,35.0 L300.8,35.7 L298.4,35.6 M305.7,38.3 L309.4,37.6 L311.9,37.7 M320.7,44.4 L321.9,46.0 L323.2,48.5 M315.5,39.5 L316.8,40.8 M318.9,46.3 L319.5,47.3 M325.4,12.9 L330.3,11.1 L335.2,12.3 L334.0,14.1 L327.8,14.4 L325.4,12.9 M314.3,17.2 L321.7,16.6 L322.3,18.4 L316.8,18.4 L314.3,17.2 M316.8,20.3 L322.9,19.9 L323.5,22.7 L319.2,23.0 L316.8,20.3 M324.7,19.6 L330.9,19.6 L330.3,22.1 L325.4,22.1 L324.7,19.6 M319.8,25.2 L324.1,24.8 L324.7,26.4 L321.1,26.4 L319.8,25.2 M291.0,16.6 L298.4,15.6 L300.2,16.8 L294.7,17.8 L291.0,16.6 M302.0,14.7 L306.9,13.9 L308.2,15.0 L304.5,15.6 L302.0,14.7 M313.1,13.5 L319.2,13.1 L320.5,14.7 L315.5,15.1 L313.1,13.5 M342.6,20.3 L347.5,20.3 L348.7,21.4 L343.8,21.5 L342.6,20.3 M346.8,27.0 L349.9,27.0 L349.3,28.0 L346.8,27.9 L346.8,27.0 M362.8,49.4 L366.1,50.1 L364.7,50.1 L362.8,49.4 M284.5,48.1 L288.5,49.1 L290.4,51.1 L287.3,50.3 L284.5,48.1 M278.7,44.2 L280.3,44.2 L281.2,46.4 L279.9,46.0 L278.7,44.2 M252.3,39.4 L255.1,39.3 L254.8,40.5 L252.3,40.6 L252.3,39.4 M240.0,43.6 L237.0,44.7 M235.1,45.1 L233.3,45.7 M229.6,46.4 L225.9,46.9 M223.5,47.0 L221.6,47.3 M211.8,45.7 L213.6,45.9 M250.5,85.7 L251.7,86.4 L251.0,87.2 L250.5,86.3 L250.5,85.7 M247.8,84.0 L248.4,84.3 M245.9,83.4 L246.4,83.6 M219.2,23.1 L224.1,23.0 L222.2,23.6 L219.2,23.5 L219.2,23.1 M57.7,11.7 L61.4,11.3 L62.6,12.0 L58.9,12.2 L57.7,11.7 M66.3,11.2 L71.2,10.8 L78.6,11.2 L73.7,12.0 L67.5,11.9 L66.3,11.2 M15.3,63.8 L19.0,63.6 L18.4,65.4 L15.3,64.5 L15.3,63.8 M10.1,60.2 L11.9,60.2 L11.8,62.4 L10.3,62.6 L10.1,60.2 M10.6,58.0 L11.7,58.0 L11.4,59.7 L10.7,59.4 L10.6,58.0 M28.9,66.9 L32.3,67.3 L29.5,67.5 L28.9,66.9 M39.7,67.5 L42.4,66.8 L41.1,68.0 L39.7,67.5 M133.5,86.8 L135.7,85.9 L136.3,86.6 L134.4,88.0 L133.5,86.8 M151.6,123.1 L155.9,120.9 L153.5,122.2 L151.6,123.1 M142.4,120.8 L146.1,121.1 L151.0,120.9 M156.5,108.0 L157.8,109.3 L157.2,111.1 L156.7,109.5 M154.7,114.6 L155.9,114.9 M157.2,114.4 L160.6,114.6 M182.3,117.3 L186.6,115.7 L185.4,117.9 L182.3,117.3 M187.2,115.4 L187.9,116.1 M191.5,119.1 L193.4,120.3 M195.2,120.6 L197.7,122.5 M196.4,122.0 L198.3,123.3 M201.4,135.3 L205.0,137.9 M217.9,132.0 L219.2,132.6 M219.8,130.6 L221.0,131.0 M205.0,129.2 L205.7,130.6 M367.1,173.7 L370.8,173.7 L369.6,174.6 L367.1,174.3 L367.1,173.7 M395.3,176.8 L397.8,177.4 M84.7,170.9 L86.6,171.0 L85.7,171.4 L84.7,170.9 M65.7,95.2 L66.9,95.2 M67.9,136.3 L68.5,136.5 M70.5,135.3 L71.0,135.5 M407.0,63.1 L407.7,63.2 M410.3,64.1 L411.1,64.1 M329.7,111.1 L330.5,111.6 L329.9,111.7 M421.1,75.9 L422.1,75.6 M422.6,76.1 L423.1,76.2 M346.2,77.7 L347.2,78.0 M346.2,80.4 L346.8,81.0 M359.5,87.9 L361.3,88.0 L361.0,88.4 L359.5,88.4 L359.5,87.9 M345.9,87.9 L348.3,88.4 L346.8,88.6 L345.9,87.9 M366.5,90.6 L366.9,91.0 M367.1,92.3 L367.2,92.7 M366.4,97.4 L367.1,97.6 L366.9,98.1 L366.4,97.4 M176.8,56.5 L179.3,55.2 M180.5,54.6 L183.6,53.4 M185.4,52.2 L187.9,50.3 M189.7,49.7 L191.5,48.1 M156.9,77.8 L157.2,78.3 M159.0,75.8 L159.2,76.0 M89.6,105.6 L89.9,106.2 M113.8,93.9 L113.9,96.0 M115.0,101.5 L115.3,102.2 M61.8,78.3 L62.1,78.7 M433.4,34.1 L434.0,34.6 M440.2,36.2 L440.5,37.0 M437.9,38.1 L438.6,38.2 M433.4,39.0 L434.3,40.3 M23.3,24.8 L25.2,24.6 M17.2,26.6 L19.0,26.0 M27.0,23.9 L28.9,23.7 M0.0,197.9 L12.2,197.7 L24.3,197.3 L36.5,196.4 L46.3,196.1 L51.1,194.9 L56.0,193.6 L62.1,192.4 L68.2,191.8 L73.0,192.8 L77.9,193.6 L82.8,195.2 L88.0,197.2 L92.9,195.4 L100.3,193.8 L107.7,192.9 L117.5,192.6 L124.9,191.7 L129.9,192.6 L137.2,192.1 L142.2,192.9 L149.5,193.3 L159.4,192.9 L169.2,193.3 L177.0,193.6 L184.3,194.3 L191.6,195.7 L197.7,197.3 L205.0,198.1 L209.3,199.1 L206.2,201.6 L200.1,204.6 L196.5,207.6 L197.1,210.1 L201.3,211.9 L207.4,213.1 L219.6,214.3 L231.8,214.9 L243.9,215.9 L256.1,216.2 L254.9,213.7 L252.5,211.3 L256.1,209.5 L261.0,208.9 L254.9,207.6 L247.6,207.0 L250.0,205.8 L257.3,205.2 L265.0,204.6 L272.4,203.6 L277.3,202.8 L283.5,204.4 L289.6,202.2 L297.0,201.9 L301.9,202.8 L306.9,202.4 L311.8,203.1 L316.7,201.5 L321.6,200.3 L329.0,200.7 L338.9,200.3 L348.7,199.5 L354.0,197.9 L357.7,196.1 L361.3,193.6 L366.2,190.6 L371.0,188.2 L373.5,188.8 L368.6,190.6 L363.7,193.6 L365.6,196.7 L367.4,200.3 L365.0,203.4 L359.5,205.2 L366.2,206.4 L378.3,207.6 L390.5,207.9 L397.8,207.0 L405.1,205.2 L414.9,202.8 L424.6,200.3 L431.9,198.5 L442.0,197.3" fill="none" stroke="#000" stroke-width="0.9" stroke-linejoin="round" stroke-linecap="round"/></g></defs>
<use href="#cst" x="43" y="101"/>
<rect x="43.5" y="101.5" width="442" height="221" fill="none" stroke="#222" stroke-width="1"/>
<use href="#cst" x="43" y="381"/>
<rect x="43.5" y="381.5" width="442" height="221" fill="none" stroke="#222" stroke-width="1"/>
<use href="#cst" x="43" y="661"/>
<rect x="43.5" y="661.5" width="442" height="221" fill="none" stroke="#222" stroke-width="1"/>
<text x="263.7" y="64.8" class="t">CAM_fv_3.0_2000</text>
<text x="263.7" y="344.8" class="t">NCEP</text>
<text x="263.9" y="629.6" class="t">CAM_fv_3.0_2000 - NCEP</text>
<text x="552.3" y="82.9" class="ann">ANN</text>
<text x="41.8" y="87.8" class="s" textLength="143.0" lengthAdjust="spacing">Surf Temp (radiative)</text>
<text x="214.0" y="91" class="s" textLength="46.0" lengthAdjust="spacing">mean=</text><text x="268.3" y="91" class="s" textLength="46.0" lengthAdjust="spacing">288.19</text>
<text x="477.2" y="91" class="s" textLength="9.0" lengthAdjust="spacing">K</text>
<text x="41.8" y="367.8" class="s" textLength="143.0" lengthAdjust="spacing">Surf Temp (radiative)</text>
<text x="214.0" y="371" class="s" textLength="46.0" lengthAdjust="spacing">mean=</text><text x="268.3" y="371" class="s" textLength="46.0" lengthAdjust="spacing">287.68</text>
<text x="477.2" y="371" class="s" textLength="9.0" lengthAdjust="spacing">K</text>
<text x="42.0" y="651" class="s" textLength="33.6" lengthAdjust="spacing">mean</text><text x="84.6" y="651" class="s" textLength="10.0" lengthAdjust="spacing">=</text><text x="115.2" y="651" class="s" textLength="28.8" lengthAdjust="spacing">0.51</text>
<text x="214.2" y="651" class="s" textLength="32.2" lengthAdjust="spacing">rmse</text><text x="253.6" y="651" class="s" textLength="10.0" lengthAdjust="spacing">=</text><text x="285.6" y="651" class="s" textLength="28.0" lengthAdjust="spacing">1.55</text>
<text x="477.2" y="651" class="s" textLength="9.0" lengthAdjust="spacing">K</text>
<text x="501.2" y="127" class="s" textLength="17.6" lengthAdjust="spacingAndGlyphs">Min</text><text x="525.6" y="127" class="s" textLength="9.2" lengthAdjust="spacing">=</text><text x="542.0" y="127" class="s" textLength="42.0" lengthAdjust="spacing">216.28</text><text x="634.2" y="127" class="s" textLength="41.1" lengthAdjust="spacing">303.95</text><text x="590.6" y="127" class="s" textLength="22.0" lengthAdjust="spacingAndGlyphs">Max</text><text x="619.6" y="127" class="s" textLength="8.8" lengthAdjust="spacing">=</text>
<text x="501.2" y="407" class="s" textLength="17.6" lengthAdjust="spacingAndGlyphs">Min</text><text x="525.6" y="407" class="s" textLength="9.2" lengthAdjust="spacing">=</text><text x="542.0" y="407" class="s" textLength="42.0" lengthAdjust="spacing">216.48</text><text x="634.2" y="407" class="s" textLength="41.1" lengthAdjust="spacing">303.66</text><text x="590.6" y="407" class="s" textLength="22.0" lengthAdjust="spacingAndGlyphs">Max</text><text x="619.6" y="407" class="s" textLength="8.8" lengthAdjust="spacing">=</text>
<text x="501.2" y="687" class="s" textLength="17.6" lengthAdjust="spacingAndGlyphs">Min</text><text x="525.6" y="687" class="s" textLength="9.2" lengthAdjust="spacing">=</text><text x="548.0" y="687" class="s" textLength="36.5" lengthAdjust="spacing">−7.35</text><text x="642.4" y="687" class="s" textLength="32.2" lengthAdjust="spacing">12.18</text><text x="590.6" y="687" class="s" textLength="22.0" lengthAdjust="spacingAndGlyphs">Max</text><text x="619.6" y="687" class="s" textLength="8.8" lengthAdjust="spacing">=</text>
<rect x="563.10" y="144.30" width="26.00" height="10.90" fill="#FF1493" stroke="#222" stroke-width="0.7"/>
<rect x="563.10" y="155.20" width="26.00" height="10.90" fill="#FFB6C1" stroke="#222" stroke-width="0.7"/>
<rect x="563.10" y="166.10" width="26.00" height="10.90" fill="#B22222" stroke="#222" stroke-width="0.7"/>
<rect x="563.10" y="177.00" width="26.00" height="10.90" fill="#FF4500" stroke="#222" stroke-width="0.7"/>
<rect x="563.10" y="187.90" width="26.00" height="10.90" fill="#FFA500" stroke="#222" stroke-width="0.7"/>
<rect x="563.10" y="198.80" width="26.00" height="10.90" fill="#FFE100" stroke="#222" stroke-width="0.7"/>
<rect x="563.10" y="209.70" width="26.00" height="10.90" fill="#DEB887" stroke="#222" stroke-width="0.7"/>
<rect x="563.10" y="220.60" width="26.00" height="10.90" fill="#F5E6BE" stroke="#222" stroke-width="0.7"/>
<rect x="563.10" y="231.50" width="26.00" height="10.90" fill="#98BE32" stroke="#222" stroke-width="0.7"/>
<rect x="563.10" y="242.40" width="26.00" height="10.90" fill="#BDEE68" stroke="#222" stroke-width="0.7"/>
<rect x="563.10" y="253.30" width="26.00" height="10.90" fill="#20B2AA" stroke="#222" stroke-width="0.7"/>
<rect x="563.10" y="264.20" width="26.00" height="10.90" fill="#B0E0E6" stroke="#222" stroke-width="0.7"/>
<rect x="563.10" y="275.10" width="26.00" height="10.90" fill="#789BF2" stroke="#222" stroke-width="0.7"/>
<rect x="563.10" y="286.00" width="26.00" height="10.90" fill="#3C64E6" stroke="#222" stroke-width="0.7"/>
<rect x="563.10" y="296.90" width="26.00" height="10.90" fill="#0000C8" stroke="#222" stroke-width="0.7"/>
<rect x="563.10" y="307.80" width="26.00" height="10.90" fill="#9370DB" stroke="#222" stroke-width="0.7"/>
<text x="605.3" y="158.80" class="cl">310</text>
<text x="605.3" y="169.70" class="cl">305</text>
<text x="605.3" y="180.60" class="cl">300</text>
<text x="605.3" y="191.50" class="cl">295</text>
<text x="605.3" y="202.40" class="cl">290</text>
<text x="605.3" y="213.30" class="cl">285</text>
<text x="605.3" y="224.20" class="cl">280</text>
<text x="605.3" y="235.10" class="cl">275</text>
<text x="605.3" y="246.00" class="cl">270</text>
<text x="605.3" y="256.90" class="cl">260</text>
<text x="605.3" y="267.80" class="cl">250</text>
<text x="605.3" y="278.70" class="cl">240</text>
<text x="605.3" y="289.60" class="cl">230</text>
<text x="605.3" y="300.50" class="cl">220</text>
<text x="605.3" y="311.40" class="cl">210</text>
<rect x="563.10" y="424.30" width="26.00" height="10.90" fill="#FF1493" stroke="#222" stroke-width="0.7"/>
<rect x="563.10" y="435.20" width="26.00" height="10.90" fill="#FFB6C1" stroke="#222" stroke-width="0.7"/>
<rect x="563.10" y="446.10" width="26.00" height="10.90" fill="#B22222" stroke="#222" stroke-width="0.7"/>
<rect x="563.10" y="457.00" width="26.00" height="10.90" fill="#FF4500" stroke="#222" stroke-width="0.7"/>
<rect x="563.10" y="467.90" width="26.00" height="10.90" fill="#FFA500" stroke="#222" stroke-width="0.7"/>
<rect x="563.10" y="478.80" width="26.00" height="10.90" fill="#FFE100" stroke="#222" stroke-width="0.7"/>
<rect x="563.10" y="489.70" width="26.00" height="10.90" fill="#DEB887" stroke="#222" stroke-width="0.7"/>
<rect x="563.10" y="500.60" width="26.00" height="10.90" fill="#F5E6BE" stroke="#222" stroke-width="0.7"/>
<rect x="563.10" y="511.50" width="26.00" height="10.90" fill="#98BE32" stroke="#222" stroke-width="0.7"/>
<rect x="563.10" y="522.40" width="26.00" height="10.90" fill="#BDEE68" stroke="#222" stroke-width="0.7"/>
<rect x="563.10" y="533.30" width="26.00" height="10.90" fill="#20B2AA" stroke="#222" stroke-width="0.7"/>
<rect x="563.10" y="544.20" width="26.00" height="10.90" fill="#B0E0E6" stroke="#222" stroke-width="0.7"/>
<rect x="563.10" y="555.10" width="26.00" height="10.90" fill="#789BF2" stroke="#222" stroke-width="0.7"/>
<rect x="563.10" y="566.00" width="26.00" height="10.90" fill="#3C64E6" stroke="#222" stroke-width="0.7"/>
<rect x="563.10" y="576.90" width="26.00" height="10.90" fill="#0000C8" stroke="#222" stroke-width="0.7"/>
<rect x="563.10" y="587.80" width="26.00" height="10.90" fill="#9370DB" stroke="#222" stroke-width="0.7"/>
<text x="605.3" y="438.80" class="cl">310</text>
<text x="605.3" y="449.70" class="cl">305</text>
<text x="605.3" y="460.60" class="cl">300</text>
<text x="605.3" y="471.50" class="cl">295</text>
<text x="605.3" y="482.40" class="cl">290</text>
<text x="605.3" y="493.30" class="cl">285</text>
<text x="605.3" y="504.20" class="cl">280</text>
<text x="605.3" y="515.10" class="cl">275</text>
<text x="605.3" y="526.00" class="cl">270</text>
<text x="605.3" y="536.90" class="cl">260</text>
<text x="605.3" y="547.80" class="cl">250</text>
<text x="605.3" y="558.70" class="cl">240</text>
<text x="605.3" y="569.60" class="cl">230</text>
<text x="605.3" y="580.50" class="cl">220</text>
<text x="605.3" y="591.40" class="cl">210</text>
<rect x="561.90" y="704.00" width="25.80" height="10.90" fill="#FF1493" stroke="#222" stroke-width="0.7"/>
<rect x="561.90" y="714.90" width="25.80" height="10.90" fill="#FFB6C1" stroke="#222" stroke-width="0.7"/>
<rect x="561.90" y="725.80" width="25.80" height="10.90" fill="#B22222" stroke="#222" stroke-width="0.7"/>
<rect x="561.90" y="736.70" width="25.80" height="10.90" fill="#FF4500" stroke="#222" stroke-width="0.7"/>
<rect x="561.90" y="747.60" width="25.80" height="10.90" fill="#FFA500" stroke="#222" stroke-width="0.7"/>
<rect x="561.90" y="758.50" width="25.80" height="10.90" fill="#FFE100" stroke="#222" stroke-width="0.7"/>
<rect x="561.90" y="769.40" width="25.80" height="10.90" fill="#DEB887" stroke="#222" stroke-width="0.7"/>
<rect x="561.90" y="780.30" width="25.80" height="10.90" fill="#F5E6BE" stroke="#222" stroke-width="0.7"/>
<rect x="561.90" y="791.20" width="25.80" height="10.90" fill="#98BE32" stroke="#222" stroke-width="0.7"/>
<rect x="561.90" y="802.10" width="25.80" height="10.90" fill="#BDEE68" stroke="#222" stroke-width="0.7"/>
<rect x="561.90" y="813.00" width="25.80" height="10.90" fill="#20B2AA" stroke="#222" stroke-width="0.7"/>
<rect x="561.90" y="823.90" width="25.80" height="10.90" fill="#B0E0E6" stroke="#222" stroke-width="0.7"/>
<rect x="561.90" y="834.80" width="25.80" height="10.90" fill="#789BF2" stroke="#222" stroke-width="0.7"/>
<rect x="561.90" y="845.70" width="25.80" height="10.90" fill="#3C64E6" stroke="#222" stroke-width="0.7"/>
<rect x="561.90" y="856.60" width="25.80" height="10.90" fill="#0000C8" stroke="#222" stroke-width="0.7"/>
<rect x="561.90" y="867.50" width="25.80" height="10.90" fill="#9370DB" stroke="#222" stroke-width="0.7"/>
<text x="605.3" y="718.50" class="cl">12</text>
<text x="605.3" y="729.40" class="cl">10</text>
<text x="605.3" y="740.30" class="cl">8</text>
<text x="605.3" y="751.20" class="cl">6</text>
<text x="605.3" y="762.10" class="cl">4</text>
<text x="605.3" y="773.00" class="cl">2</text>
<text x="605.3" y="783.90" class="cl">1</text>
<text x="605.3" y="794.80" class="cl">0</text>
<text x="605.3" y="805.70" class="cl">−1</text>
<text x="605.3" y="816.60" class="cl">−2</text>
<text x="605.3" y="827.50" class="cl">−4</text>
<text x="605.3" y="838.40" class="cl">−6</text>
<text x="605.3" y="849.30" class="cl">−8</text>
<text x="605.3" y="860.20" class="cl">−10</text>
<text x="605.3" y="871.10" class="cl">−12</text>
</svg>
</body></html>
